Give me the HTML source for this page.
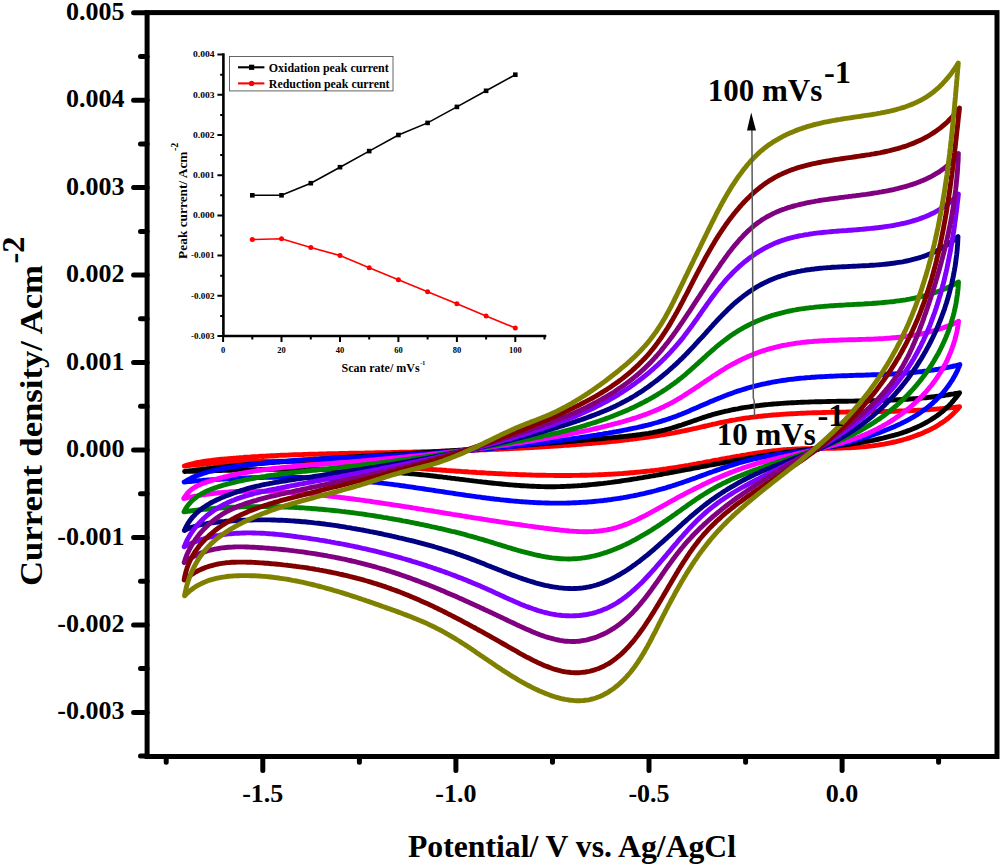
<!DOCTYPE html>
<html><head><meta charset="utf-8"><style>
html,body{margin:0;padding:0;background:#fff;}
body{width:1000px;height:866px;overflow:hidden;font-family:"Liberation Serif",serif;}
svg{display:block;}
</style></head><body>
<svg width="1000" height="866" viewBox="0 0 1000 866">
<rect width="1000" height="866" fill="#fff"/>
<path d="M184.4,466.0 L186.3,465.4 L188.1,464.8 L190.0,464.3 L191.9,463.8 L193.8,463.4 L195.7,462.9 L197.7,462.5 L199.6,462.2 L201.5,461.8 L203.5,461.5 L205.4,461.2 L207.4,460.9 L209.4,460.6 L211.3,460.4 L213.3,460.1 L215.3,459.9 L217.3,459.7 L219.3,459.5 L221.2,459.3 L223.2,459.1 L225.2,458.9 L227.2,458.8 L229.2,458.6 L231.2,458.4 L233.2,458.3 L235.2,458.1 L237.2,457.9 L239.2,457.8 L241.2,457.6 L243.2,457.5 L245.2,457.3 L247.2,457.2 L249.2,457.1 L251.2,456.9 L253.2,456.8 L255.2,456.7 L257.2,456.6 L259.2,456.4 L261.2,456.3 L263.2,456.2 L265.2,456.1 L267.2,456.0 L269.2,455.9 L271.2,455.8 L273.2,455.7 L275.2,455.6 L277.2,455.5 L279.2,455.4 L281.2,455.3 L283.3,455.2 L285.3,455.2 L287.3,455.1 L289.3,455.0 L291.3,454.9 L293.3,454.8 L295.3,454.8 L297.3,454.7 L299.3,454.6 L301.3,454.6 L303.3,454.5 L305.4,454.4 L307.4,454.4 L309.4,454.3 L311.4,454.2 L313.4,454.2 L315.4,454.1 L317.4,454.1 L319.4,454.0 L321.5,454.0 L323.5,453.9 L325.5,453.9 L327.5,453.8 L329.5,453.8 L331.5,453.7 L333.5,453.7 L335.5,453.6 L337.6,453.6 L339.6,453.5 L341.6,453.5 L343.6,453.5 L345.6,453.4 L347.6,453.4 L349.6,453.3 L351.7,453.3 L353.7,453.3 L355.7,453.2 L357.7,453.2 L359.7,453.1 L361.7,453.1 L363.7,453.1 L365.8,453.0 L367.8,453.0 L369.8,453.0 L371.8,452.9 L373.8,452.9 L375.8,452.8 L377.8,452.8 L379.8,452.8 L381.9,452.7 L383.9,452.7 L385.9,452.6 L387.9,452.6 L389.9,452.6 L391.9,452.5 L393.9,452.5 L395.9,452.4 L398.0,452.4 L400.0,452.3 L402.0,452.3 L404.0,452.2 L406.0,452.2 L408.0,452.2 L410.0,452.1 L412.0,452.1 L414.0,452.0 L416.1,452.0 L418.1,451.9 L420.1,451.9 L422.1,451.8 L424.1,451.8 L426.1,451.7 L428.1,451.6 L430.1,451.6 L432.1,451.5 L434.1,451.5 L436.2,451.4 L438.2,451.4 L440.2,451.3 L442.2,451.3 L444.2,451.2 L446.2,451.1 L448.2,451.1 L450.2,451.0 L452.2,450.9 L454.2,450.9 L456.2,450.8 L458.2,450.7 L460.3,450.7 L462.3,450.6 L464.3,450.5 L466.3,450.5 L468.3,450.4 L470.3,450.3 L472.3,450.2 L474.3,450.2 L476.3,450.1 L478.3,450.0 L480.3,449.9 L482.3,449.9 L484.3,449.8 L486.3,449.7 L488.4,449.6 L490.4,449.5 L492.4,449.4 L494.4,449.4 L496.4,449.3 L498.4,449.2 L500.4,449.1 L502.4,449.0 L504.4,448.9 L506.4,448.8 L508.4,448.7 L510.4,448.6 L512.4,448.5 L514.4,448.4 L516.4,448.3 L518.4,448.2 L520.4,448.1 L522.4,448.0 L524.5,447.9 L526.5,447.8 L528.5,447.7 L530.5,447.6 L532.5,447.5 L534.5,447.3 L536.5,447.2 L538.5,447.1 L540.5,447.0 L542.5,446.9 L544.5,446.7 L546.5,446.6 L548.5,446.5 L550.5,446.4 L552.5,446.2 L554.5,446.1 L556.5,446.0 L558.5,445.8 L560.5,445.7 L562.5,445.6 L564.5,445.4 L566.5,445.3 L568.5,445.2 L570.5,445.0 L572.5,444.9 L574.5,444.7 L576.6,444.6 L578.6,444.4 L580.6,444.3 L582.6,444.1 L584.6,443.9 L586.6,443.8 L588.6,443.6 L590.6,443.5 L592.6,443.3 L594.6,443.1 L596.6,442.9 L598.6,442.8 L600.6,442.6 L602.6,442.4 L604.6,442.2 L606.6,442.0 L608.6,441.8 L610.6,441.6 L612.6,441.4 L614.6,441.2 L616.6,441.0 L618.6,440.8 L620.5,440.6 L622.5,440.3 L624.5,440.1 L626.5,439.9 L628.5,439.7 L630.5,439.4 L632.5,439.2 L634.5,438.9 L636.5,438.7 L638.5,438.4 L640.5,438.1 L642.5,437.9 L644.4,437.6 L646.4,437.3 L648.4,437.0 L650.4,436.7 L652.4,436.4 L654.4,436.1 L656.4,435.8 L658.3,435.5 L660.3,435.2 L662.3,434.9 L664.3,434.5 L666.3,434.2 L668.2,433.8 L670.2,433.5 L672.2,433.1 L674.2,432.8 L676.1,432.4 L678.1,432.0 L680.1,431.6 L682.0,431.2 L684.0,430.8 L686.0,430.4 L688.0,430.0 L689.9,429.6 L691.9,429.2 L693.8,428.7 L695.8,428.3 L697.8,427.8 L699.7,427.4 L701.7,426.9 L703.6,426.5 L705.6,426.0 L707.6,425.6 L709.5,425.1 L711.5,424.7 L713.4,424.2 L715.4,423.8 L717.4,423.3 L719.3,422.9 L721.3,422.5 L723.3,422.1 L725.2,421.7 L727.2,421.3 L729.2,420.9 L731.1,420.5 L733.1,420.1 L735.1,419.8 L737.1,419.4 L739.1,419.1 L741.0,418.8 L743.0,418.5 L745.0,418.2 L747.0,417.9 L749.0,417.7 L751.0,417.4 L753.0,417.1 L754.9,416.9 L756.9,416.7 L758.9,416.4 L760.9,416.2 L762.9,416.0 L764.9,415.8 L766.9,415.6 L768.9,415.4 L770.9,415.2 L772.9,415.0 L774.9,414.9 L776.9,414.7 L778.9,414.6 L780.9,414.4 L782.9,414.3 L784.9,414.1 L786.9,414.0 L788.9,413.9 L790.9,413.8 L792.9,413.7 L794.9,413.6 L796.9,413.5 L798.9,413.4 L800.9,413.3 L803.0,413.2 L805.0,413.1 L807.0,413.0 L809.0,412.9 L811.0,412.9 L813.0,412.8 L815.0,412.7 L817.0,412.7 L819.0,412.6 L821.0,412.6 L823.0,412.5 L825.1,412.5 L827.1,412.4 L829.1,412.4 L831.1,412.3 L833.1,412.3 L835.1,412.2 L837.1,412.2 L839.1,412.2 L841.2,412.1 L843.2,412.1 L845.2,412.1 L847.2,412.0 L849.2,412.0 L851.2,412.0 L853.2,412.0 L855.2,411.9 L857.3,411.9 L859.3,411.9 L861.3,411.8 L863.3,411.8 L865.3,411.8 L867.3,411.8 L869.3,411.7 L871.3,411.7 L873.4,411.7 L875.4,411.6 L877.4,411.6 L879.4,411.6 L881.4,411.5 L883.4,411.5 L885.4,411.4 L887.4,411.4 L889.5,411.3 L891.5,411.3 L893.5,411.2 L895.5,411.2 L897.5,411.1 L899.5,411.0 L901.5,411.0 L903.5,410.9 L905.5,410.8 L907.5,410.7 L909.6,410.7 L911.6,410.6 L913.6,410.5 L915.6,410.4 L917.6,410.3 L919.6,410.2 L921.6,410.1 L923.6,409.9 L925.6,409.8 L927.6,409.7 L929.6,409.6 L931.6,409.4 L933.6,409.3 L935.6,409.1 L937.6,408.9 L939.6,408.8 L941.6,408.6 L943.6,408.4 L945.6,408.2 L947.6,408.0 L949.6,407.8 L951.6,407.6 L953.6,407.4 L955.6,407.2 L957.6,406.9 L959.6,406.7 L958.3,408.3 L957.0,409.8 L955.6,411.2 L954.2,412.7 L952.8,414.0 L951.4,415.4 L949.9,416.7 L948.4,418.0 L946.8,419.2 L945.3,420.4 L943.7,421.5 L942.0,422.7 L940.4,423.7 L938.7,424.8 L937.1,425.8 L935.3,426.8 L933.6,427.8 L931.9,428.7 L930.1,429.6 L928.3,430.5 L926.5,431.3 L924.7,432.1 L922.9,432.9 L921.0,433.7 L919.2,434.4 L917.3,435.1 L915.4,435.8 L913.5,436.5 L911.6,437.2 L909.7,437.8 L907.8,438.4 L905.8,439.0 L903.9,439.5 L902.0,440.1 L900.0,440.6 L898.0,441.1 L896.1,441.6 L894.1,442.0 L892.1,442.5 L890.1,442.9 L888.2,443.3 L886.2,443.7 L884.2,444.1 L882.2,444.4 L880.2,444.7 L878.1,445.1 L876.1,445.3 L874.1,445.6 L872.1,445.9 L870.1,446.1 L868.1,446.3 L866.1,446.6 L864.1,446.7 L862.0,446.9 L860.0,447.1 L858.0,447.2 L856.0,447.4 L854.0,447.5 L852.0,447.6 L850.0,447.7 L848.0,447.8 L846.0,447.9 L844.0,447.9 L842.0,448.0 L839.9,448.1 L837.9,448.1 L835.9,448.2 L833.9,448.2 L831.9,448.2 L829.9,448.3 L827.9,448.3 L825.9,448.3 L823.9,448.3 L821.9,448.4 L819.9,448.4 L817.9,448.4 L815.9,448.5 L813.9,448.5 L811.9,448.5 L809.9,448.6 L807.9,448.6 L805.9,448.7 L803.9,448.7 L801.9,448.8 L799.9,448.9 L797.9,449.0 L795.9,449.0 L793.9,449.1 L791.9,449.3 L789.9,449.4 L787.9,449.5 L785.9,449.7 L783.9,449.8 L781.9,450.0 L780.0,450.2 L778.0,450.4 L776.0,450.6 L774.0,450.8 L772.0,451.0 L770.0,451.3 L768.0,451.5 L766.0,451.8 L764.0,452.0 L762.0,452.3 L760.0,452.6 L758.0,452.9 L756.1,453.2 L754.1,453.5 L752.1,453.8 L750.1,454.1 L748.1,454.4 L746.1,454.8 L744.1,455.1 L742.1,455.4 L740.1,455.8 L738.2,456.1 L736.2,456.5 L734.2,456.8 L732.2,457.2 L730.2,457.6 L728.2,457.9 L726.2,458.3 L724.2,458.7 L722.3,459.0 L720.3,459.4 L718.3,459.8 L716.3,460.1 L714.3,460.5 L712.3,460.9 L710.3,461.3 L708.3,461.6 L706.4,462.0 L704.4,462.4 L702.4,462.8 L700.4,463.1 L698.4,463.5 L696.4,463.9 L694.4,464.2 L692.4,464.6 L690.5,464.9 L688.5,465.3 L686.5,465.6 L684.5,466.0 L682.5,466.3 L680.5,466.6 L678.5,467.0 L676.5,467.3 L674.6,467.6 L672.6,467.9 L670.6,468.2 L668.6,468.5 L666.6,468.8 L664.6,469.1 L662.6,469.3 L660.6,469.6 L658.6,469.9 L656.6,470.1 L654.7,470.4 L652.7,470.6 L650.7,470.8 L648.7,471.1 L646.7,471.3 L644.7,471.5 L642.7,471.7 L640.7,471.9 L638.7,472.1 L636.7,472.3 L634.7,472.5 L632.7,472.7 L630.7,472.8 L628.8,473.0 L626.8,473.2 L624.8,473.3 L622.8,473.5 L620.8,473.6 L618.8,473.7 L616.8,473.9 L614.8,474.0 L612.8,474.1 L610.8,474.2 L608.8,474.3 L606.8,474.4 L604.8,474.5 L602.8,474.6 L600.8,474.7 L598.8,474.8 L596.8,474.9 L594.8,474.9 L592.8,475.0 L590.8,475.1 L588.8,475.1 L586.8,475.2 L584.8,475.2 L582.8,475.3 L580.8,475.3 L578.8,475.4 L576.9,475.4 L574.9,475.4 L572.9,475.4 L570.9,475.5 L568.9,475.5 L566.9,475.5 L564.9,475.5 L562.9,475.5 L560.9,475.5 L558.9,475.5 L556.9,475.5 L554.9,475.5 L552.9,475.4 L550.9,475.4 L548.9,475.4 L546.9,475.4 L544.9,475.3 L542.9,475.3 L540.9,475.2 L538.9,475.2 L536.9,475.2 L534.9,475.1 L532.9,475.1 L530.9,475.0 L528.9,474.9 L526.9,474.9 L524.9,474.8 L522.8,474.7 L520.8,474.7 L518.8,474.6 L516.8,474.5 L514.8,474.4 L512.8,474.4 L510.8,474.3 L508.8,474.2 L506.8,474.1 L504.8,474.0 L502.8,473.9 L500.8,473.8 L498.8,473.7 L496.8,473.6 L494.8,473.5 L492.8,473.4 L490.8,473.3 L488.8,473.2 L486.8,473.1 L484.8,472.9 L482.8,472.8 L480.8,472.7 L478.8,472.6 L476.8,472.5 L474.8,472.3 L472.8,472.2 L470.8,472.1 L468.8,472.0 L466.8,471.8 L464.8,471.7 L462.8,471.6 L460.8,471.4 L458.8,471.3 L456.7,471.2 L454.7,471.0 L452.7,470.9 L450.7,470.7 L448.7,470.6 L446.7,470.5 L444.7,470.3 L442.7,470.2 L440.7,470.0 L438.7,469.9 L436.7,469.8 L434.7,469.6 L432.7,469.5 L430.7,469.3 L428.7,469.2 L426.7,469.0 L424.7,468.9 L422.7,468.7 L420.7,468.6 L418.7,468.4 L416.7,468.3 L414.7,468.2 L412.6,468.0 L410.6,467.9 L408.6,467.7 L406.6,467.6 L404.6,467.4 L402.6,467.3 L400.6,467.1 L398.6,467.0 L396.6,466.8 L394.6,466.7 L392.6,466.6 L390.6,466.4 L388.6,466.3 L386.6,466.1 L384.6,466.0 L382.6,465.9 L380.6,465.7 L378.6,465.6 L376.6,465.4 L374.6,465.3 L372.5,465.2 L370.5,465.0 L368.5,464.9 L366.5,464.8 L364.5,464.7 L362.5,464.5 L360.5,464.4 L358.5,464.3 L356.5,464.2 L354.5,464.0 L352.5,463.9 L350.5,463.8 L348.5,463.7 L346.5,463.6 L344.5,463.5 L342.5,463.4 L340.5,463.3 L338.5,463.2 L336.5,463.1 L334.5,463.0 L332.5,462.9 L330.5,462.8 L328.4,462.7 L326.4,462.6 L324.4,462.5 L322.4,462.4 L320.4,462.3 L318.4,462.2 L316.4,462.2 L314.4,462.1 L312.4,462.0 L310.4,462.0 L308.4,461.9 L306.4,461.8 L304.4,461.8 L302.4,461.7 L300.4,461.7 L298.4,461.6 L296.4,461.6 L294.4,461.5 L292.4,461.5 L290.4,461.4 L288.4,461.4 L286.4,461.4 L284.4,461.4 L282.4,461.3 L280.4,461.3 L278.4,461.3 L276.4,461.3 L274.4,461.3 L272.4,461.3 L270.4,461.3 L268.4,461.3 L266.4,461.3 L264.4,461.3 L262.4,461.3 L260.4,461.4 L258.4,461.4 L256.3,461.4 L254.3,461.5 L252.3,461.5 L250.3,461.5 L248.3,461.6 L246.3,461.7 L244.3,461.7 L242.3,461.8 L240.3,461.8 L238.3,461.9 L236.3,462.0 L234.3,462.1 L232.3,462.2 L230.3,462.3 L228.3,462.4 L226.3,462.5 L224.3,462.6 L222.3,462.7 L220.4,462.8 L218.4,462.9 L216.4,463.1 L214.4,463.2 L212.4,463.4 L210.4,463.5 L208.4,463.7 L206.4,463.8 L204.4,464.0 L202.4,464.2 L200.4,464.3 L198.4,464.5 L196.4,464.7 L194.4,464.9 L192.4,465.1 L190.4,465.3 L188.4,465.5 L186.4,465.8 L184.4,466.0" fill="none" stroke="#ff0000" stroke-width="4.9" stroke-linejoin="round" stroke-linecap="round"/>
<path d="M184.6,471.5 L186.6,471.2 L188.6,471.0 L190.6,470.7 L192.6,470.5 L194.6,470.2 L196.5,470.0 L198.5,469.8 L200.5,469.5 L202.5,469.3 L204.5,469.1 L206.5,468.8 L208.5,468.6 L210.5,468.4 L212.5,468.2 L214.5,467.9 L216.5,467.7 L218.5,467.5 L220.5,467.3 L222.5,467.1 L224.5,466.9 L226.5,466.7 L228.5,466.5 L230.5,466.3 L232.4,466.1 L234.4,465.9 L236.4,465.7 L238.4,465.5 L240.4,465.3 L242.4,465.1 L244.4,464.9 L246.4,464.7 L248.4,464.5 L250.4,464.3 L252.4,464.2 L254.4,464.0 L256.4,463.8 L258.4,463.6 L260.4,463.5 L262.4,463.3 L264.4,463.1 L266.4,462.9 L268.4,462.8 L270.4,462.6 L272.4,462.5 L274.4,462.3 L276.4,462.1 L278.4,462.0 L280.4,461.8 L282.4,461.7 L284.4,461.5 L286.4,461.4 L288.4,461.2 L290.4,461.1 L292.4,460.9 L294.4,460.8 L296.4,460.6 L298.4,460.5 L300.4,460.3 L302.4,460.2 L304.4,460.0 L306.4,459.9 L308.4,459.8 L310.4,459.6 L312.5,459.5 L314.5,459.3 L316.5,459.2 L318.5,459.1 L320.5,458.9 L322.5,458.8 L324.5,458.7 L326.5,458.5 L328.5,458.4 L330.5,458.3 L332.5,458.1 L334.5,458.0 L336.5,457.9 L338.5,457.8 L340.5,457.6 L342.5,457.5 L344.5,457.4 L346.5,457.3 L348.5,457.1 L350.5,457.0 L352.5,456.9 L354.5,456.8 L356.5,456.6 L358.5,456.5 L360.5,456.4 L362.5,456.3 L364.5,456.2 L366.5,456.0 L368.6,455.9 L370.6,455.8 L372.6,455.7 L374.6,455.5 L376.6,455.4 L378.6,455.3 L380.6,455.2 L382.6,455.1 L384.6,454.9 L386.6,454.8 L388.6,454.7 L390.6,454.6 L392.6,454.5 L394.6,454.3 L396.6,454.2 L398.6,454.1 L400.6,454.0 L402.6,453.9 L404.6,453.7 L406.6,453.6 L408.6,453.5 L410.6,453.4 L412.6,453.2 L414.6,453.1 L416.6,453.0 L418.7,452.9 L420.7,452.7 L422.7,452.6 L424.7,452.5 L426.7,452.4 L428.7,452.2 L430.7,452.1 L432.7,452.0 L434.7,451.8 L436.7,451.7 L438.7,451.6 L440.7,451.5 L442.7,451.3 L444.7,451.2 L446.7,451.0 L448.7,450.9 L450.7,450.8 L452.7,450.6 L454.7,450.5 L456.7,450.4 L458.7,450.2 L460.7,450.1 L462.7,449.9 L464.7,449.8 L466.7,449.7 L468.7,449.5 L470.7,449.4 L472.7,449.2 L474.7,449.1 L476.7,448.9 L478.7,448.8 L480.7,448.6 L482.7,448.5 L484.7,448.3 L486.7,448.2 L488.7,448.0 L490.7,447.9 L492.7,447.7 L494.7,447.6 L496.7,447.4 L498.7,447.3 L500.7,447.1 L502.7,447.0 L504.7,446.8 L506.7,446.7 L508.7,446.5 L510.7,446.3 L512.7,446.2 L514.7,446.0 L516.7,445.9 L518.7,445.7 L520.7,445.5 L522.7,445.4 L524.7,445.2 L526.7,445.1 L528.7,444.9 L530.7,444.7 L532.7,444.6 L534.7,444.4 L536.7,444.2 L538.7,444.1 L540.7,443.9 L542.7,443.7 L544.7,443.6 L546.7,443.4 L548.7,443.2 L550.7,443.1 L552.7,442.9 L554.7,442.7 L556.7,442.5 L558.7,442.4 L560.7,442.2 L562.7,442.0 L564.7,441.9 L566.7,441.7 L568.7,441.5 L570.7,441.3 L572.7,441.2 L574.7,441.0 L576.7,440.8 L578.7,440.6 L580.7,440.5 L582.7,440.3 L584.7,440.1 L586.7,439.9 L588.7,439.8 L590.7,439.6 L592.7,439.4 L594.7,439.2 L596.7,439.0 L598.7,438.9 L600.7,438.7 L602.7,438.5 L604.8,438.3 L606.8,438.1 L608.8,437.9 L610.8,437.8 L612.8,437.6 L614.8,437.4 L616.8,437.2 L618.8,437.0 L620.8,436.8 L622.8,436.6 L624.8,436.4 L626.7,436.2 L628.7,436.0 L630.7,435.8 L632.7,435.5 L634.7,435.3 L636.7,435.0 L638.7,434.8 L640.7,434.5 L642.7,434.2 L644.6,433.9 L646.6,433.6 L648.6,433.3 L650.6,432.9 L652.5,432.6 L654.5,432.2 L656.5,431.8 L658.4,431.4 L660.4,431.0 L662.3,430.5 L664.3,430.1 L666.2,429.6 L668.2,429.1 L670.1,428.6 L672.0,428.0 L674.0,427.4 L675.9,426.8 L677.8,426.2 L679.7,425.6 L681.7,425.0 L683.6,424.3 L685.5,423.7 L687.4,423.0 L689.3,422.4 L691.2,421.7 L693.1,421.0 L695.0,420.4 L696.9,419.7 L698.9,419.0 L700.8,418.4 L702.7,417.7 L704.6,417.1 L706.5,416.5 L708.4,415.9 L710.4,415.3 L712.3,414.7 L714.2,414.2 L716.2,413.6 L718.1,413.1 L720.1,412.6 L722.0,412.1 L723.9,411.7 L725.9,411.2 L727.8,410.8 L729.8,410.3 L731.8,409.9 L733.7,409.5 L735.7,409.1 L737.7,408.8 L739.6,408.4 L741.6,408.0 L743.6,407.7 L745.5,407.4 L747.5,407.1 L749.5,406.8 L751.5,406.5 L753.5,406.2 L755.5,406.0 L757.4,405.7 L759.4,405.5 L761.4,405.2 L763.4,405.0 L765.4,404.8 L767.4,404.6 L769.4,404.4 L771.4,404.2 L773.4,404.0 L775.4,403.9 L777.4,403.7 L779.4,403.6 L781.4,403.4 L783.4,403.3 L785.4,403.1 L787.4,403.0 L789.4,402.9 L791.4,402.8 L793.4,402.7 L795.4,402.6 L797.4,402.5 L799.4,402.4 L801.4,402.3 L803.4,402.2 L805.4,402.1 L807.4,402.1 L809.5,402.0 L811.5,401.9 L813.5,401.9 L815.5,401.8 L817.5,401.8 L819.5,401.7 L821.5,401.7 L823.5,401.6 L825.5,401.6 L827.5,401.5 L829.5,401.5 L831.5,401.4 L833.6,401.4 L835.6,401.4 L837.6,401.3 L839.6,401.3 L841.6,401.3 L843.6,401.2 L845.6,401.2 L847.6,401.2 L849.6,401.1 L851.6,401.1 L853.7,401.1 L855.7,401.0 L857.7,401.0 L859.7,401.0 L861.7,400.9 L863.7,400.9 L865.7,400.9 L867.7,400.8 L869.7,400.8 L871.7,400.7 L873.7,400.7 L875.7,400.6 L877.8,400.6 L879.8,400.5 L881.8,400.4 L883.8,400.4 L885.8,400.3 L887.8,400.2 L889.8,400.1 L891.8,400.1 L893.8,400.0 L895.8,399.9 L897.8,399.8 L899.8,399.7 L901.8,399.5 L903.8,399.4 L905.8,399.3 L907.8,399.2 L909.8,399.0 L911.8,398.9 L913.8,398.7 L915.8,398.6 L917.8,398.4 L919.8,398.2 L921.8,398.1 L923.8,397.9 L925.8,397.7 L927.8,397.5 L929.8,397.2 L931.8,397.0 L933.8,396.8 L935.8,396.5 L937.8,396.3 L939.7,396.0 L941.7,395.7 L943.7,395.5 L945.7,395.2 L947.7,394.9 L949.7,394.5 L951.7,394.2 L953.7,393.9 L955.6,393.5 L957.6,393.2 L959.6,392.8 L958.4,394.5 L957.1,396.2 L955.8,397.9 L954.5,399.4 L953.2,401.0 L951.8,402.5 L950.5,404.0 L949.1,405.4 L947.6,406.9 L946.2,408.2 L944.7,409.5 L943.2,410.8 L941.7,412.1 L940.1,413.3 L938.6,414.5 L937.0,415.7 L935.4,416.8 L933.8,417.9 L932.2,418.9 L930.5,420.0 L928.8,421.0 L927.1,422.0 L925.4,422.9 L923.7,423.8 L922.0,424.7 L920.2,425.6 L918.5,426.4 L916.7,427.2 L914.9,428.0 L913.1,428.8 L911.3,429.5 L909.5,430.2 L907.6,430.9 L905.8,431.6 L903.9,432.2 L902.1,432.9 L900.2,433.5 L898.3,434.1 L896.4,434.6 L894.5,435.2 L892.6,435.7 L890.6,436.2 L888.7,436.7 L886.8,437.2 L884.8,437.7 L882.9,438.2 L880.9,438.6 L879.0,439.0 L877.0,439.5 L875.0,439.9 L873.0,440.3 L871.1,440.6 L869.1,441.0 L867.1,441.4 L865.1,441.7 L863.1,442.1 L861.1,442.4 L859.1,442.8 L857.1,443.1 L855.1,443.4 L853.1,443.7 L851.1,444.0 L849.1,444.3 L847.1,444.6 L845.1,444.9 L843.1,445.1 L841.1,445.4 L839.1,445.7 L837.1,445.9 L835.0,446.2 L833.0,446.5 L831.0,446.7 L829.0,447.0 L827.0,447.2 L825.0,447.5 L822.9,447.7 L820.9,448.0 L818.9,448.2 L816.9,448.4 L814.9,448.7 L812.9,448.9 L810.8,449.2 L808.8,449.4 L806.8,449.6 L804.8,449.9 L802.8,450.1 L800.8,450.4 L798.8,450.6 L796.8,450.9 L794.8,451.1 L792.7,451.4 L790.7,451.7 L788.7,451.9 L786.7,452.2 L784.7,452.5 L782.7,452.8 L780.7,453.1 L778.8,453.3 L776.8,453.6 L774.8,453.9 L772.8,454.2 L770.8,454.5 L768.8,454.8 L766.8,455.2 L764.8,455.5 L762.8,455.8 L760.9,456.1 L758.9,456.4 L756.9,456.8 L754.9,457.1 L752.9,457.4 L751.0,457.7 L749.0,458.1 L747.0,458.4 L745.1,458.8 L743.1,459.1 L741.1,459.5 L739.1,459.8 L737.2,460.2 L735.2,460.5 L733.2,460.9 L731.3,461.2 L729.3,461.6 L727.3,461.9 L725.4,462.3 L723.4,462.7 L721.4,463.0 L719.5,463.4 L717.5,463.8 L715.5,464.1 L713.6,464.5 L711.6,464.9 L709.7,465.2 L707.7,465.6 L705.7,466.0 L703.8,466.3 L701.8,466.7 L699.8,467.1 L697.9,467.5 L695.9,467.8 L694.0,468.2 L692.0,468.6 L690.0,469.0 L688.1,469.3 L686.1,469.7 L684.1,470.1 L682.2,470.4 L680.2,470.8 L678.2,471.2 L676.3,471.5 L674.3,471.9 L672.4,472.3 L670.4,472.7 L668.4,473.0 L666.5,473.4 L664.5,473.7 L662.5,474.1 L660.6,474.5 L658.6,474.8 L656.6,475.2 L654.6,475.5 L652.7,475.9 L650.7,476.2 L648.7,476.6 L646.8,476.9 L644.8,477.2 L642.8,477.6 L640.8,477.9 L638.9,478.2 L636.9,478.6 L634.9,478.9 L632.9,479.2 L631.0,479.5 L629.0,479.8 L627.0,480.1 L625.0,480.4 L623.1,480.7 L621.1,481.0 L619.1,481.3 L617.1,481.6 L615.1,481.8 L613.2,482.1 L611.2,482.4 L609.2,482.6 L607.2,482.9 L605.2,483.1 L603.3,483.4 L601.3,483.6 L599.3,483.8 L597.3,484.0 L595.3,484.2 L593.3,484.4 L591.3,484.6 L589.4,484.8 L587.4,485.0 L585.4,485.2 L583.4,485.3 L581.4,485.5 L579.4,485.6 L577.4,485.8 L575.4,485.9 L573.5,486.0 L571.5,486.1 L569.5,486.2 L567.5,486.3 L565.5,486.4 L563.5,486.5 L561.5,486.5 L559.5,486.6 L557.5,486.6 L555.5,486.7 L553.5,486.7 L551.5,486.7 L549.6,486.7 L547.6,486.7 L545.6,486.7 L543.6,486.6 L541.6,486.6 L539.6,486.5 L537.6,486.5 L535.6,486.4 L533.6,486.3 L531.6,486.2 L529.6,486.1 L527.6,486.0 L525.6,485.9 L523.6,485.8 L521.6,485.7 L519.6,485.5 L517.6,485.4 L515.6,485.2 L513.6,485.1 L511.6,484.9 L509.6,484.8 L507.6,484.6 L505.6,484.4 L503.6,484.2 L501.6,484.0 L499.6,483.8 L497.6,483.6 L495.6,483.4 L493.6,483.2 L491.6,483.0 L489.6,482.8 L487.6,482.5 L485.5,482.3 L483.5,482.1 L481.5,481.8 L479.5,481.6 L477.5,481.4 L475.5,481.1 L473.5,480.9 L471.5,480.6 L469.5,480.4 L467.5,480.1 L465.5,479.9 L463.5,479.6 L461.5,479.4 L459.5,479.2 L457.5,478.9 L455.5,478.7 L453.5,478.4 L451.5,478.2 L449.4,477.9 L447.4,477.7 L445.4,477.4 L443.4,477.2 L441.4,476.9 L439.4,476.7 L437.4,476.5 L435.4,476.2 L433.4,476.0 L431.4,475.8 L429.4,475.5 L427.4,475.3 L425.4,475.1 L423.4,474.9 L421.4,474.7 L419.4,474.5 L417.3,474.3 L415.3,474.1 L413.3,473.9 L411.3,473.7 L409.3,473.5 L407.3,473.3 L405.3,473.2 L403.3,473.0 L401.3,472.8 L399.3,472.7 L397.3,472.5 L395.3,472.3 L393.3,472.2 L391.3,472.1 L389.3,471.9 L387.3,471.8 L385.3,471.6 L383.3,471.5 L381.3,471.4 L379.2,471.3 L377.2,471.2 L375.2,471.0 L373.2,470.9 L371.2,470.8 L369.2,470.7 L367.2,470.6 L365.2,470.5 L363.2,470.4 L361.2,470.4 L359.2,470.3 L357.2,470.2 L355.2,470.1 L353.2,470.0 L351.2,470.0 L349.2,469.9 L347.2,469.8 L345.2,469.8 L343.2,469.7 L341.2,469.7 L339.1,469.6 L337.1,469.6 L335.1,469.5 L333.1,469.5 L331.1,469.4 L329.1,469.4 L327.1,469.4 L325.1,469.3 L323.1,469.3 L321.1,469.3 L319.1,469.3 L317.1,469.2 L315.1,469.2 L313.1,469.2 L311.1,469.2 L309.1,469.2 L307.1,469.2 L305.1,469.2 L303.1,469.2 L301.0,469.2 L299.0,469.2 L297.0,469.2 L295.0,469.2 L293.0,469.2 L291.0,469.2 L289.0,469.2 L287.0,469.2 L285.0,469.2 L283.0,469.2 L281.0,469.3 L279.0,469.3 L277.0,469.3 L275.0,469.3 L273.0,469.3 L271.0,469.4 L269.0,469.4 L266.9,469.4 L264.9,469.5 L262.9,469.5 L260.9,469.5 L258.9,469.6 L256.9,469.6 L254.9,469.6 L252.9,469.7 L250.9,469.7 L248.9,469.8 L246.9,469.8 L244.9,469.9 L242.9,469.9 L240.9,469.9 L238.8,470.0 L236.8,470.0 L234.8,470.1 L232.8,470.1 L230.8,470.2 L228.8,470.2 L226.8,470.3 L224.8,470.4 L222.8,470.4 L220.8,470.5 L218.8,470.5 L216.8,470.6 L214.7,470.6 L212.7,470.7 L210.7,470.7 L208.7,470.8 L206.7,470.9 L204.7,470.9 L202.7,471.0 L200.7,471.0 L198.7,471.1 L196.7,471.1 L194.7,471.2 L192.6,471.3 L190.6,471.3 L188.6,471.4 L186.6,471.4 L184.6,471.5" fill="none" stroke="#000000" stroke-width="4.9" stroke-linejoin="round" stroke-linecap="round"/>
<path d="M184.2,482.0 L185.9,481.0 L187.6,480.0 L189.4,479.1 L191.1,478.2 L192.9,477.3 L194.7,476.5 L196.5,475.8 L198.4,475.1 L200.2,474.4 L202.1,473.8 L203.9,473.1 L205.8,472.6 L207.7,472.0 L209.6,471.5 L211.5,471.0 L213.5,470.6 L215.4,470.1 L217.3,469.7 L219.3,469.3 L221.2,468.9 L223.2,468.5 L225.2,468.2 L227.1,467.9 L229.1,467.5 L231.1,467.2 L233.0,466.9 L235.0,466.6 L237.0,466.3 L239.0,466.0 L240.9,465.8 L242.9,465.5 L244.9,465.2 L246.9,465.0 L248.9,464.7 L250.9,464.5 L252.8,464.3 L254.8,464.0 L256.8,463.8 L258.8,463.6 L260.8,463.4 L262.8,463.2 L264.8,463.0 L266.8,462.8 L268.8,462.6 L270.7,462.4 L272.7,462.2 L274.7,462.0 L276.7,461.9 L278.7,461.7 L280.7,461.5 L282.7,461.4 L284.7,461.2 L286.7,461.1 L288.7,460.9 L290.7,460.8 L292.7,460.6 L294.7,460.5 L296.7,460.4 L298.7,460.2 L300.7,460.1 L302.7,460.0 L304.7,459.9 L306.7,459.8 L308.7,459.6 L310.7,459.5 L312.8,459.4 L314.8,459.3 L316.8,459.2 L318.8,459.1 L320.8,459.0 L322.8,458.9 L324.8,458.8 L326.8,458.7 L328.8,458.6 L330.8,458.5 L332.8,458.4 L334.8,458.3 L336.8,458.3 L338.9,458.2 L340.9,458.1 L342.9,458.0 L344.9,457.9 L346.9,457.8 L348.9,457.7 L350.9,457.6 L352.9,457.5 L354.9,457.4 L356.9,457.4 L358.9,457.3 L361.0,457.2 L363.0,457.1 L365.0,457.0 L367.0,456.9 L369.0,456.8 L371.0,456.7 L373.0,456.6 L375.0,456.5 L377.0,456.4 L379.0,456.3 L381.0,456.2 L383.0,456.1 L385.0,456.0 L387.1,455.9 L389.1,455.8 L391.1,455.7 L393.1,455.6 L395.1,455.4 L397.1,455.3 L399.1,455.2 L401.1,455.1 L403.1,455.0 L405.1,454.9 L407.1,454.8 L409.1,454.6 L411.1,454.5 L413.1,454.4 L415.1,454.3 L417.1,454.1 L419.1,454.0 L421.1,453.9 L423.1,453.8 L425.2,453.6 L427.2,453.5 L429.2,453.4 L431.2,453.2 L433.2,453.1 L435.2,453.0 L437.2,452.8 L439.2,452.7 L441.2,452.5 L443.2,452.4 L445.2,452.2 L447.2,452.1 L449.2,451.9 L451.2,451.8 L453.2,451.6 L455.2,451.5 L457.2,451.3 L459.2,451.2 L461.2,451.0 L463.2,450.9 L465.2,450.7 L467.2,450.5 L469.2,450.4 L471.2,450.2 L473.2,450.0 L475.2,449.8 L477.2,449.7 L479.2,449.5 L481.2,449.3 L483.2,449.1 L485.2,449.0 L487.2,448.8 L489.2,448.6 L491.1,448.4 L493.1,448.2 L495.1,448.0 L497.1,447.8 L499.1,447.6 L501.1,447.4 L503.1,447.2 L505.1,447.0 L507.1,446.8 L509.1,446.6 L511.1,446.4 L513.1,446.2 L515.1,446.0 L517.1,445.8 L519.1,445.5 L521.0,445.3 L523.0,445.1 L525.0,444.9 L527.0,444.6 L529.0,444.4 L531.0,444.2 L533.0,443.9 L535.0,443.7 L537.0,443.5 L539.0,443.2 L540.9,443.0 L542.9,442.7 L544.9,442.5 L546.9,442.2 L548.9,442.0 L550.9,441.7 L552.9,441.5 L554.9,441.2 L556.8,440.9 L558.8,440.7 L560.8,440.4 L562.8,440.1 L564.8,439.8 L566.8,439.6 L568.7,439.3 L570.7,439.0 L572.7,438.7 L574.7,438.4 L576.7,438.1 L578.7,437.8 L580.6,437.5 L582.6,437.2 L584.6,436.9 L586.6,436.6 L588.6,436.3 L590.5,436.0 L592.5,435.7 L594.5,435.4 L596.5,435.1 L598.4,434.7 L600.4,434.4 L602.4,434.1 L604.4,433.7 L606.4,433.4 L608.3,433.1 L610.3,432.7 L612.3,432.4 L614.3,432.0 L616.2,431.7 L618.2,431.3 L620.2,431.0 L622.1,430.6 L624.1,430.2 L626.1,429.8 L628.0,429.4 L630.0,429.0 L632.0,428.6 L633.9,428.2 L635.9,427.8 L637.8,427.4 L639.8,426.9 L641.7,426.5 L643.7,426.0 L645.6,425.5 L647.6,425.1 L649.5,424.6 L651.4,424.1 L653.4,423.5 L655.3,423.0 L657.2,422.5 L659.1,421.9 L661.0,421.3 L662.9,420.7 L664.9,420.1 L666.8,419.5 L668.6,418.9 L670.5,418.2 L672.4,417.5 L674.3,416.9 L676.2,416.2 L678.1,415.4 L679.9,414.7 L681.8,414.0 L683.7,413.2 L685.5,412.5 L687.4,411.7 L689.2,410.9 L691.1,410.1 L692.9,409.3 L694.8,408.5 L696.6,407.8 L698.5,406.9 L700.3,406.1 L702.2,405.3 L704.0,404.5 L705.9,403.7 L707.7,402.9 L709.6,402.1 L711.4,401.3 L713.3,400.6 L715.1,399.8 L717.0,399.0 L718.8,398.2 L720.7,397.5 L722.6,396.7 L724.4,396.0 L726.3,395.3 L728.2,394.5 L730.1,393.9 L732.0,393.2 L733.8,392.5 L735.7,391.8 L737.6,391.2 L739.5,390.6 L741.5,390.0 L743.4,389.4 L745.3,388.8 L747.2,388.2 L749.1,387.7 L751.0,387.1 L753.0,386.6 L754.9,386.1 L756.8,385.6 L758.8,385.1 L760.7,384.7 L762.7,384.2 L764.6,383.8 L766.6,383.4 L768.5,383.0 L770.5,382.6 L772.4,382.2 L774.4,381.8 L776.4,381.5 L778.3,381.2 L780.3,380.8 L782.3,380.5 L784.2,380.3 L786.2,380.0 L788.2,379.7 L790.2,379.4 L792.2,379.2 L794.1,379.0 L796.1,378.7 L798.1,378.5 L800.1,378.3 L802.1,378.1 L804.1,378.0 L806.1,377.8 L808.1,377.6 L810.1,377.5 L812.1,377.3 L814.1,377.2 L816.1,377.0 L818.1,376.9 L820.1,376.8 L822.1,376.7 L824.1,376.6 L826.1,376.5 L828.1,376.4 L830.1,376.3 L832.1,376.2 L834.2,376.1 L836.2,376.0 L838.2,375.9 L840.2,375.9 L842.2,375.8 L844.2,375.7 L846.2,375.7 L848.2,375.6 L850.3,375.5 L852.3,375.5 L854.3,375.4 L856.3,375.3 L858.3,375.3 L860.3,375.2 L862.4,375.2 L864.4,375.1 L866.4,375.0 L868.4,375.0 L870.4,374.9 L872.4,374.8 L874.4,374.8 L876.5,374.7 L878.5,374.6 L880.5,374.5 L882.5,374.5 L884.5,374.4 L886.5,374.3 L888.5,374.2 L890.5,374.1 L892.6,374.0 L894.6,373.9 L896.6,373.7 L898.6,373.6 L900.6,373.5 L902.6,373.3 L904.6,373.2 L906.6,373.0 L908.6,372.9 L910.6,372.7 L912.6,372.5 L914.6,372.3 L916.6,372.1 L918.6,371.9 L920.5,371.7 L922.5,371.5 L924.5,371.2 L926.5,371.0 L928.5,370.7 L930.5,370.4 L932.5,370.1 L934.4,369.8 L936.4,369.5 L938.4,369.2 L940.3,368.8 L942.3,368.5 L944.3,368.1 L946.2,367.7 L948.2,367.3 L950.2,366.9 L952.1,366.5 L954.1,366.0 L956.0,365.6 L958.0,365.1 L959.9,364.6 L959.1,366.5 L958.3,368.4 L957.5,370.3 L956.6,372.1 L955.7,374.0 L954.7,375.8 L953.7,377.5 L952.7,379.3 L951.6,381.0 L950.5,382.7 L949.4,384.3 L948.2,386.0 L947.0,387.6 L945.8,389.2 L944.6,390.7 L943.3,392.3 L942.0,393.8 L940.7,395.2 L939.3,396.7 L937.9,398.1 L936.5,399.5 L935.1,400.9 L933.6,402.2 L932.1,403.6 L930.6,404.9 L929.1,406.1 L927.5,407.4 L925.9,408.6 L924.4,409.8 L922.7,410.9 L921.1,412.1 L919.5,413.2 L917.8,414.3 L916.1,415.3 L914.4,416.4 L912.7,417.4 L910.9,418.4 L909.2,419.3 L907.4,420.3 L905.7,421.2 L903.9,422.1 L902.1,423.0 L900.3,423.9 L898.4,424.7 L896.6,425.6 L894.8,426.4 L892.9,427.2 L891.1,428.0 L889.2,428.7 L887.3,429.5 L885.4,430.2 L883.6,431.0 L881.7,431.7 L879.8,432.4 L877.9,433.1 L876.0,433.7 L874.1,434.4 L872.2,435.1 L870.3,435.7 L868.3,436.4 L866.4,437.0 L864.5,437.6 L862.6,438.2 L860.7,438.8 L858.7,439.4 L856.8,439.9 L854.9,440.5 L852.9,441.0 L851.0,441.6 L849.1,442.1 L847.1,442.6 L845.2,443.1 L843.2,443.6 L841.3,444.1 L839.3,444.6 L837.3,445.0 L835.4,445.5 L833.4,445.9 L831.5,446.3 L829.5,446.8 L827.5,447.2 L825.6,447.6 L823.6,447.9 L821.6,448.3 L819.6,448.7 L817.7,449.0 L815.7,449.4 L813.7,449.7 L811.7,450.0 L809.7,450.3 L807.7,450.6 L805.8,450.9 L803.8,451.2 L801.8,451.5 L799.8,451.7 L797.8,452.0 L795.8,452.3 L793.8,452.5 L791.8,452.8 L789.8,453.1 L787.8,453.3 L785.9,453.6 L783.9,453.9 L781.9,454.1 L779.9,454.4 L777.9,454.7 L775.9,455.0 L773.9,455.3 L772.0,455.6 L770.0,455.9 L768.0,456.2 L766.0,456.6 L764.1,456.9 L762.1,457.3 L760.1,457.7 L758.2,458.1 L756.2,458.5 L754.2,458.9 L752.3,459.4 L750.3,459.9 L748.4,460.4 L746.4,460.9 L744.5,461.4 L742.6,461.9 L740.6,462.5 L738.7,463.0 L736.8,463.6 L734.9,464.2 L732.9,464.8 L731.0,465.4 L729.1,466.0 L727.2,466.7 L725.3,467.3 L723.3,467.9 L721.4,468.6 L719.5,469.3 L717.6,469.9 L715.7,470.6 L713.8,471.3 L711.9,472.0 L710.0,472.6 L708.1,473.3 L706.2,474.0 L704.3,474.7 L702.3,475.4 L700.4,476.1 L698.5,476.8 L696.6,477.5 L694.7,478.2 L692.8,478.9 L690.9,479.5 L689.0,480.2 L687.1,480.9 L685.2,481.5 L683.3,482.2 L681.4,482.9 L679.4,483.5 L677.5,484.1 L675.6,484.8 L673.7,485.4 L671.8,486.0 L669.9,486.6 L667.9,487.2 L666.0,487.8 L664.1,488.3 L662.1,488.9 L660.2,489.4 L658.3,489.9 L656.3,490.5 L654.4,491.0 L652.5,491.5 L650.5,492.0 L648.6,492.4 L646.6,492.9 L644.7,493.4 L642.7,493.8 L640.8,494.2 L638.8,494.7 L636.9,495.1 L634.9,495.5 L633.0,495.9 L631.0,496.2 L629.1,496.6 L627.1,497.0 L625.1,497.3 L623.2,497.7 L621.2,498.0 L619.3,498.3 L617.3,498.6 L615.3,498.9 L613.4,499.2 L611.4,499.5 L609.4,499.7 L607.4,500.0 L605.5,500.2 L603.5,500.5 L601.5,500.7 L599.5,500.9 L597.6,501.1 L595.6,501.3 L593.6,501.5 L591.6,501.7 L589.7,501.9 L587.7,502.0 L585.7,502.2 L583.7,502.3 L581.7,502.4 L579.8,502.5 L577.8,502.6 L575.8,502.7 L573.8,502.8 L571.8,502.9 L569.8,503.0 L567.8,503.0 L565.9,503.1 L563.9,503.1 L561.9,503.1 L559.9,503.1 L557.9,503.1 L555.9,503.1 L553.9,503.1 L551.9,503.1 L550.0,503.1 L548.0,503.0 L546.0,503.0 L544.0,502.9 L542.0,502.9 L540.0,502.8 L538.0,502.7 L536.0,502.6 L534.0,502.5 L532.0,502.4 L530.1,502.3 L528.1,502.1 L526.1,502.0 L524.1,501.9 L522.1,501.7 L520.1,501.6 L518.1,501.4 L516.1,501.2 L514.1,501.1 L512.1,500.9 L510.1,500.7 L508.2,500.5 L506.2,500.3 L504.2,500.1 L502.2,499.9 L500.2,499.7 L498.2,499.4 L496.2,499.2 L494.2,499.0 L492.2,498.7 L490.2,498.5 L488.2,498.2 L486.2,498.0 L484.2,497.7 L482.2,497.5 L480.3,497.2 L478.3,496.9 L476.3,496.7 L474.3,496.4 L472.3,496.1 L470.3,495.8 L468.3,495.6 L466.3,495.3 L464.3,495.0 L462.3,494.7 L460.3,494.4 L458.3,494.1 L456.3,493.8 L454.3,493.5 L452.3,493.2 L450.3,492.9 L448.3,492.6 L446.3,492.3 L444.3,492.0 L442.3,491.7 L440.3,491.4 L438.3,491.1 L436.3,490.8 L434.3,490.5 L432.3,490.2 L430.3,489.9 L428.3,489.6 L426.3,489.3 L424.3,489.0 L422.3,488.7 L420.3,488.4 L418.3,488.1 L416.3,487.8 L414.3,487.5 L412.3,487.2 L410.3,486.9 L408.3,486.6 L406.3,486.3 L404.3,486.0 L402.3,485.8 L400.3,485.5 L398.3,485.2 L396.3,484.9 L394.3,484.7 L392.3,484.4 L390.3,484.1 L388.3,483.9 L386.3,483.6 L384.3,483.4 L382.3,483.1 L380.3,482.9 L378.3,482.7 L376.3,482.4 L374.3,482.2 L372.3,482.0 L370.3,481.8 L368.3,481.6 L366.3,481.4 L364.3,481.2 L362.3,481.0 L360.3,480.8 L358.3,480.6 L356.3,480.4 L354.3,480.3 L352.3,480.1 L350.2,479.9 L348.2,479.8 L346.2,479.6 L344.2,479.5 L342.2,479.3 L340.2,479.2 L338.2,479.1 L336.2,478.9 L334.2,478.8 L332.2,478.7 L330.2,478.6 L328.2,478.5 L326.2,478.4 L324.2,478.3 L322.2,478.2 L320.1,478.1 L318.1,478.0 L316.1,477.9 L314.1,477.9 L312.1,477.8 L310.1,477.7 L308.1,477.7 L306.1,477.6 L304.1,477.6 L302.1,477.5 L300.1,477.5 L298.1,477.4 L296.1,477.4 L294.1,477.4 L292.1,477.3 L290.1,477.3 L288.1,477.3 L286.0,477.3 L284.0,477.3 L282.0,477.3 L280.0,477.3 L278.0,477.3 L276.0,477.3 L274.0,477.3 L272.0,477.3 L270.0,477.4 L268.0,477.4 L266.0,477.4 L264.0,477.4 L262.0,477.5 L260.0,477.5 L258.0,477.6 L256.0,477.6 L254.0,477.7 L252.0,477.7 L250.0,477.8 L248.0,477.9 L246.0,477.9 L244.0,478.0 L242.0,478.1 L240.0,478.2 L238.0,478.3 L236.0,478.4 L234.0,478.5 L232.0,478.6 L230.0,478.7 L228.0,478.8 L226.0,478.9 L224.0,479.0 L222.0,479.1 L220.0,479.2 L218.0,479.3 L216.0,479.5 L214.0,479.6 L212.0,479.7 L210.1,479.9 L208.1,480.0 L206.1,480.2 L204.1,480.3 L202.1,480.5 L200.1,480.6 L198.1,480.8 L196.1,480.9 L194.1,481.1 L192.1,481.3 L190.2,481.5 L188.2,481.6 L186.2,481.8 L184.2,482.0" fill="none" stroke="#0000ff" stroke-width="4.9" stroke-linejoin="round" stroke-linecap="round"/>
<path d="M183.8,498.5 L184.8,496.7 L186.0,495.1 L187.2,493.5 L188.5,492.1 L189.9,490.8 L191.4,489.6 L192.9,488.5 L194.5,487.4 L196.2,486.5 L197.9,485.6 L199.7,484.7 L201.5,484.0 L203.3,483.2 L205.2,482.6 L207.1,481.9 L209.0,481.3 L210.9,480.7 L212.9,480.1 L214.8,479.6 L216.7,479.0 L218.6,478.5 L220.6,478.0 L222.5,477.5 L224.5,477.0 L226.4,476.5 L228.4,476.0 L230.3,475.6 L232.3,475.2 L234.2,474.7 L236.2,474.3 L238.1,473.9 L240.1,473.5 L242.0,473.2 L244.0,472.8 L246.0,472.5 L247.9,472.1 L249.9,471.8 L251.9,471.5 L253.9,471.1 L255.8,470.8 L257.8,470.5 L259.8,470.3 L261.8,470.0 L263.8,469.7 L265.8,469.5 L267.8,469.2 L269.7,469.0 L271.7,468.7 L273.7,468.5 L275.7,468.3 L277.7,468.1 L279.7,467.8 L281.7,467.6 L283.7,467.4 L285.7,467.2 L287.7,467.0 L289.7,466.9 L291.7,466.7 L293.7,466.5 L295.7,466.3 L297.7,466.1 L299.7,466.0 L301.7,465.8 L303.7,465.6 L305.7,465.5 L307.7,465.3 L309.7,465.1 L311.7,465.0 L313.7,464.8 L315.7,464.7 L317.7,464.5 L319.8,464.4 L321.8,464.2 L323.8,464.0 L325.8,463.9 L327.8,463.7 L329.8,463.6 L331.8,463.4 L333.8,463.2 L335.8,463.1 L337.8,462.9 L339.8,462.8 L341.8,462.6 L343.8,462.4 L345.8,462.3 L347.8,462.1 L349.8,461.9 L351.8,461.8 L353.8,461.6 L355.8,461.4 L357.8,461.3 L359.8,461.1 L361.8,460.9 L363.8,460.7 L365.8,460.6 L367.8,460.4 L369.8,460.2 L371.8,460.0 L373.8,459.9 L375.8,459.7 L377.8,459.5 L379.8,459.3 L381.8,459.2 L383.8,459.0 L385.8,458.8 L387.8,458.6 L389.8,458.4 L391.8,458.2 L393.8,458.0 L395.8,457.9 L397.8,457.7 L399.8,457.5 L401.8,457.3 L403.7,457.1 L405.7,456.9 L407.7,456.7 L409.7,456.5 L411.7,456.3 L413.7,456.1 L415.7,455.9 L417.7,455.7 L419.7,455.5 L421.7,455.3 L423.7,455.1 L425.7,454.9 L427.7,454.7 L429.7,454.4 L431.7,454.2 L433.6,454.0 L435.6,453.8 L437.6,453.6 L439.6,453.4 L441.6,453.1 L443.6,452.9 L445.6,452.7 L447.6,452.5 L449.6,452.2 L451.6,452.0 L453.5,451.8 L455.5,451.5 L457.5,451.3 L459.5,451.1 L461.5,450.8 L463.5,450.6 L465.5,450.3 L467.5,450.1 L469.4,449.8 L471.4,449.6 L473.4,449.3 L475.4,449.1 L477.4,448.8 L479.4,448.6 L481.4,448.3 L483.3,448.0 L485.3,447.8 L487.3,447.5 L489.3,447.2 L491.3,447.0 L493.3,446.7 L495.2,446.4 L497.2,446.1 L499.2,445.8 L501.2,445.6 L503.2,445.3 L505.2,445.0 L507.1,444.7 L509.1,444.4 L511.1,444.1 L513.1,443.8 L515.1,443.5 L517.0,443.2 L519.0,442.9 L521.0,442.6 L523.0,442.3 L525.0,442.0 L526.9,441.6 L528.9,441.3 L530.9,441.0 L532.9,440.7 L534.8,440.3 L536.8,440.0 L538.8,439.7 L540.8,439.3 L542.8,439.0 L544.7,438.7 L546.7,438.3 L548.7,438.0 L550.7,437.6 L552.6,437.3 L554.6,436.9 L556.6,436.6 L558.5,436.2 L560.5,435.8 L562.5,435.5 L564.5,435.1 L566.4,434.7 L568.4,434.3 L570.4,433.9 L572.3,433.5 L574.3,433.1 L576.3,432.7 L578.2,432.3 L580.2,431.9 L582.2,431.5 L584.1,431.1 L586.1,430.7 L588.1,430.3 L590.0,429.8 L592.0,429.4 L594.0,428.9 L595.9,428.5 L597.9,428.0 L599.8,427.6 L601.8,427.1 L603.7,426.6 L605.7,426.2 L607.6,425.7 L609.6,425.2 L611.5,424.7 L613.5,424.2 L615.4,423.7 L617.4,423.2 L619.3,422.6 L621.3,422.1 L623.2,421.6 L625.1,421.0 L627.1,420.4 L629.0,419.9 L630.9,419.3 L632.8,418.7 L634.7,418.1 L636.7,417.5 L638.6,416.8 L640.5,416.2 L642.3,415.5 L644.2,414.9 L646.1,414.2 L648.0,413.5 L649.8,412.7 L651.7,412.0 L653.5,411.3 L655.4,410.5 L657.2,409.7 L659.0,408.9 L660.8,408.1 L662.7,407.3 L664.4,406.4 L666.2,405.5 L668.0,404.6 L669.8,403.7 L671.5,402.8 L673.3,401.8 L675.0,400.8 L676.7,399.9 L678.4,398.8 L680.2,397.8 L681.9,396.8 L683.6,395.7 L685.2,394.7 L686.9,393.6 L688.6,392.5 L690.3,391.4 L692.0,390.3 L693.6,389.2 L695.3,388.1 L696.9,387.0 L698.6,385.9 L700.3,384.7 L701.9,383.6 L703.6,382.5 L705.3,381.3 L706.9,380.2 L708.6,379.1 L710.3,378.0 L711.9,376.9 L713.6,375.8 L715.3,374.7 L717.0,373.6 L718.7,372.5 L720.4,371.4 L722.1,370.3 L723.8,369.3 L725.5,368.2 L727.2,367.2 L729.0,366.2 L730.7,365.2 L732.5,364.2 L734.3,363.3 L736.0,362.3 L737.8,361.4 L739.6,360.5 L741.4,359.6 L743.2,358.8 L745.1,357.9 L746.9,357.1 L748.7,356.3 L750.6,355.5 L752.4,354.7 L754.3,354.0 L756.1,353.2 L758.0,352.5 L759.9,351.9 L761.8,351.2 L763.7,350.6 L765.6,350.0 L767.5,349.4 L769.4,348.8 L771.3,348.3 L773.2,347.8 L775.1,347.3 L777.1,346.8 L779.0,346.3 L780.9,345.9 L782.9,345.5 L784.8,345.1 L786.8,344.8 L788.7,344.4 L790.7,344.1 L792.7,343.8 L794.6,343.5 L796.6,343.2 L798.6,342.9 L800.6,342.7 L802.5,342.4 L804.5,342.2 L806.5,342.0 L808.5,341.8 L810.5,341.6 L812.5,341.5 L814.5,341.3 L816.5,341.2 L818.5,341.0 L820.5,340.9 L822.5,340.8 L824.5,340.7 L826.5,340.6 L828.5,340.5 L830.6,340.4 L832.6,340.3 L834.6,340.2 L836.6,340.2 L838.6,340.1 L840.7,340.0 L842.7,340.0 L844.7,339.9 L846.7,339.9 L848.7,339.8 L850.8,339.8 L852.8,339.7 L854.8,339.7 L856.8,339.6 L858.9,339.5 L860.9,339.5 L862.9,339.4 L864.9,339.4 L866.9,339.3 L869.0,339.2 L871.0,339.2 L873.0,339.1 L875.0,339.0 L877.0,338.9 L879.0,338.8 L881.0,338.7 L883.0,338.6 L885.1,338.4 L887.1,338.3 L889.1,338.2 L891.1,338.0 L893.1,337.8 L895.1,337.7 L897.0,337.5 L899.0,337.3 L901.0,337.0 L903.0,336.8 L905.0,336.6 L907.0,336.3 L908.9,336.0 L910.9,335.7 L912.9,335.4 L914.8,335.1 L916.8,334.7 L918.7,334.4 L920.7,334.0 L922.6,333.6 L924.6,333.1 L926.5,332.7 L928.5,332.2 L930.4,331.7 L932.3,331.2 L934.2,330.7 L936.1,330.1 L938.0,329.5 L939.9,328.9 L941.8,328.3 L943.7,327.6 L945.6,326.9 L947.5,326.2 L949.3,325.5 L951.2,324.7 L953.1,323.9 L954.9,323.1 L956.8,322.2 L958.6,321.3 L958.3,323.4 L958.0,325.5 L957.7,327.5 L957.3,329.6 L956.9,331.6 L956.4,333.6 L955.9,335.6 L955.4,337.6 L954.9,339.6 L954.3,341.6 L953.7,343.5 L953.1,345.4 L952.4,347.3 L951.8,349.2 L951.0,351.1 L950.3,353.0 L949.5,354.8 L948.7,356.7 L947.9,358.5 L947.1,360.3 L946.2,362.1 L945.3,363.9 L944.3,365.6 L943.4,367.4 L942.4,369.1 L941.4,370.8 L940.4,372.5 L939.3,374.2 L938.2,375.8 L937.1,377.5 L936.0,379.1 L934.9,380.7 L933.7,382.3 L932.5,383.9 L931.3,385.5 L930.0,387.0 L928.8,388.5 L927.5,390.0 L926.2,391.5 L924.9,393.0 L923.5,394.5 L922.2,395.9 L920.8,397.3 L919.4,398.7 L917.9,400.1 L916.5,401.5 L915.1,402.8 L913.6,404.2 L912.1,405.5 L910.6,406.8 L909.1,408.1 L907.5,409.3 L906.0,410.6 L904.4,411.8 L902.8,413.0 L901.2,414.2 L899.6,415.4 L897.9,416.5 L896.3,417.6 L894.6,418.8 L892.9,419.9 L891.3,420.9 L889.6,422.0 L887.8,423.0 L886.1,424.0 L884.4,425.0 L882.6,426.0 L880.9,427.0 L879.1,427.9 L877.3,428.9 L875.5,429.8 L873.7,430.6 L871.9,431.5 L870.1,432.3 L868.2,433.2 L866.4,434.0 L864.6,434.8 L862.7,435.5 L860.8,436.3 L859.0,437.0 L857.1,437.7 L855.2,438.4 L853.3,439.1 L851.4,439.7 L849.5,440.4 L847.6,441.0 L845.7,441.6 L843.8,442.2 L841.8,442.8 L839.9,443.4 L838.0,443.9 L836.0,444.5 L834.1,445.0 L832.1,445.5 L830.2,446.0 L828.2,446.6 L826.3,447.1 L824.3,447.5 L822.3,448.0 L820.4,448.5 L818.4,449.0 L816.4,449.4 L814.4,449.9 L812.5,450.4 L810.5,450.8 L808.5,451.2 L806.5,451.7 L804.5,452.1 L802.6,452.6 L800.6,453.0 L798.6,453.4 L796.6,453.9 L794.6,454.3 L792.7,454.8 L790.7,455.2 L788.7,455.6 L786.7,456.1 L784.7,456.5 L782.8,457.0 L780.8,457.4 L778.8,457.9 L776.9,458.4 L774.9,458.8 L772.9,459.3 L771.0,459.8 L769.0,460.3 L767.1,460.8 L765.2,461.3 L763.2,461.8 L761.3,462.4 L759.4,462.9 L757.4,463.4 L755.5,464.0 L753.6,464.6 L751.7,465.2 L749.8,465.8 L747.9,466.4 L746.0,467.0 L744.1,467.6 L742.2,468.3 L740.4,469.0 L738.5,469.6 L736.6,470.3 L734.8,471.0 L732.9,471.7 L731.1,472.4 L729.2,473.1 L727.4,473.9 L725.5,474.6 L723.7,475.4 L721.9,476.1 L720.0,476.9 L718.2,477.7 L716.4,478.5 L714.5,479.3 L712.7,480.1 L710.9,481.0 L709.1,481.8 L707.3,482.6 L705.5,483.5 L703.7,484.3 L701.9,485.2 L700.1,486.1 L698.3,487.0 L696.5,487.9 L694.7,488.8 L692.9,489.7 L691.1,490.6 L689.3,491.5 L687.5,492.4 L685.7,493.4 L683.9,494.3 L682.1,495.3 L680.3,496.2 L678.5,497.2 L676.7,498.2 L674.9,499.2 L673.1,500.1 L671.3,501.1 L669.5,502.1 L667.8,503.1 L666.0,504.1 L664.2,505.1 L662.4,506.1 L660.6,507.2 L658.8,508.2 L657.0,509.2 L655.2,510.2 L653.3,511.2 L651.5,512.2 L649.7,513.1 L647.9,514.1 L646.1,515.1 L644.3,516.0 L642.4,516.9 L640.6,517.8 L638.8,518.7 L637.0,519.6 L635.1,520.5 L633.3,521.3 L631.4,522.1 L629.6,522.9 L627.7,523.7 L625.9,524.4 L624.0,525.1 L622.1,525.8 L620.2,526.4 L618.4,527.0 L616.5,527.6 L614.6,528.1 L612.7,528.6 L610.8,529.1 L608.8,529.5 L606.9,529.9 L605.0,530.2 L603.1,530.5 L601.1,530.8 L599.2,531.0 L597.2,531.2 L595.3,531.3 L593.3,531.5 L591.3,531.6 L589.4,531.6 L587.4,531.7 L585.4,531.7 L583.5,531.7 L581.5,531.6 L579.5,531.6 L577.5,531.5 L575.5,531.4 L573.5,531.3 L571.5,531.1 L569.5,531.0 L567.5,530.8 L565.5,530.6 L563.5,530.4 L561.5,530.2 L559.5,530.0 L557.5,529.7 L555.5,529.5 L553.5,529.3 L551.5,529.0 L549.5,528.8 L547.5,528.5 L545.5,528.3 L543.5,528.0 L541.5,527.7 L539.5,527.5 L537.5,527.2 L535.5,527.0 L533.6,526.7 L531.6,526.4 L529.6,526.1 L527.6,525.9 L525.6,525.6 L523.6,525.3 L521.6,525.0 L519.6,524.7 L517.7,524.4 L515.7,524.2 L513.7,523.9 L511.7,523.6 L509.7,523.3 L507.7,523.0 L505.8,522.7 L503.8,522.4 L501.8,522.1 L499.8,521.8 L497.8,521.5 L495.9,521.2 L493.9,520.9 L491.9,520.6 L489.9,520.3 L488.0,520.0 L486.0,519.6 L484.0,519.3 L482.0,519.0 L480.0,518.7 L478.1,518.4 L476.1,518.1 L474.1,517.8 L472.1,517.5 L470.2,517.1 L468.2,516.8 L466.2,516.5 L464.3,516.2 L462.3,515.9 L460.3,515.5 L458.3,515.2 L456.4,514.9 L454.4,514.6 L452.4,514.3 L450.4,513.9 L448.5,513.6 L446.5,513.3 L444.5,513.0 L442.5,512.6 L440.6,512.3 L438.6,512.0 L436.6,511.7 L434.6,511.4 L432.7,511.0 L430.7,510.7 L428.7,510.4 L426.7,510.1 L424.8,509.8 L422.8,509.4 L420.8,509.1 L418.8,508.8 L416.9,508.5 L414.9,508.2 L412.9,507.9 L410.9,507.5 L409.0,507.2 L407.0,506.9 L405.0,506.6 L403.0,506.3 L401.0,506.0 L399.0,505.7 L397.1,505.4 L395.1,505.1 L393.1,504.8 L391.1,504.5 L389.1,504.2 L387.1,503.9 L385.2,503.6 L383.2,503.3 L381.2,503.0 L379.2,502.7 L377.2,502.4 L375.2,502.1 L373.2,501.8 L371.2,501.5 L369.2,501.2 L367.2,500.9 L365.2,500.7 L363.3,500.4 L361.3,500.1 L359.3,499.8 L357.3,499.6 L355.3,499.3 L353.3,499.0 L351.3,498.7 L349.3,498.5 L347.2,498.2 L345.2,498.0 L343.2,497.7 L341.2,497.5 L339.2,497.2 L337.2,497.0 L335.2,496.7 L333.2,496.5 L331.2,496.2 L329.2,496.0 L327.1,495.8 L325.1,495.5 L323.1,495.3 L321.1,495.1 L319.1,494.9 L317.0,494.7 L315.0,494.5 L313.0,494.2 L311.0,494.0 L309.0,493.9 L306.9,493.7 L304.9,493.5 L302.9,493.3 L300.9,493.1 L298.9,493.0 L296.8,492.8 L294.8,492.7 L292.8,492.5 L290.8,492.4 L288.8,492.2 L286.7,492.1 L284.7,492.0 L282.7,491.9 L280.7,491.8 L278.7,491.7 L276.6,491.6 L274.6,491.5 L272.6,491.4 L270.6,491.3 L268.6,491.3 L266.6,491.2 L264.5,491.2 L262.5,491.1 L260.5,491.1 L258.5,491.1 L256.5,491.1 L254.5,491.1 L252.5,491.1 L250.5,491.1 L248.5,491.1 L246.5,491.2 L244.5,491.2 L242.5,491.3 L240.5,491.3 L238.5,491.4 L236.5,491.5 L234.5,491.6 L232.6,491.7 L230.6,491.8 L228.6,492.0 L226.6,492.1 L224.6,492.3 L222.7,492.4 L220.7,492.6 L218.7,492.8 L216.8,493.0 L214.8,493.2 L212.8,493.5 L210.9,493.7 L208.9,494.0 L207.0,494.2 L205.0,494.5 L203.1,494.8 L201.1,495.1 L199.2,495.4 L197.3,495.8 L195.3,496.1 L193.4,496.5 L191.5,496.8 L189.5,497.2 L187.6,497.6 L185.7,498.1 L183.8,498.5" fill="none" stroke="#ff00ff" stroke-width="4.9" stroke-linejoin="round" stroke-linecap="round"/>
<path d="M184.0,511.8 L184.9,510.0 L185.9,508.3 L187.0,506.6 L188.2,505.0 L189.4,503.6 L190.7,502.1 L192.0,500.8 L193.4,499.5 L194.9,498.3 L196.4,497.1 L197.9,496.0 L199.5,495.0 L201.2,494.0 L202.9,493.1 L204.6,492.2 L206.4,491.3 L208.2,490.5 L210.0,489.8 L211.8,489.0 L213.7,488.3 L215.6,487.7 L217.5,487.0 L219.4,486.4 L221.3,485.8 L223.3,485.2 L225.2,484.7 L227.2,484.1 L229.2,483.6 L231.1,483.1 L233.1,482.6 L235.1,482.1 L237.1,481.7 L239.1,481.2 L241.1,480.8 L243.1,480.3 L245.1,479.9 L247.1,479.5 L249.1,479.1 L251.1,478.8 L253.1,478.4 L255.1,478.0 L257.1,477.7 L259.1,477.3 L261.1,477.0 L263.1,476.7 L265.1,476.4 L267.1,476.0 L269.1,475.7 L271.1,475.4 L273.1,475.2 L275.1,474.9 L277.1,474.6 L279.1,474.3 L281.1,474.1 L283.1,473.8 L285.1,473.5 L287.1,473.3 L289.1,473.0 L291.0,472.8 L293.0,472.6 L295.0,472.3 L297.0,472.1 L299.0,471.9 L301.0,471.7 L303.0,471.4 L304.9,471.2 L306.9,471.0 L308.9,470.8 L310.9,470.6 L312.9,470.4 L314.9,470.2 L316.8,470.0 L318.8,469.7 L320.8,469.5 L322.8,469.3 L324.8,469.1 L326.7,468.9 L328.7,468.7 L330.7,468.5 L332.7,468.3 L334.7,468.1 L336.6,467.9 L338.6,467.7 L340.6,467.5 L342.6,467.3 L344.6,467.0 L346.6,466.8 L348.5,466.6 L350.5,466.4 L352.5,466.2 L354.5,465.9 L356.5,465.7 L358.5,465.5 L360.4,465.2 L362.4,465.0 L364.4,464.8 L366.4,464.5 L368.4,464.3 L370.4,464.1 L372.3,463.8 L374.3,463.6 L376.3,463.3 L378.3,463.1 L380.3,462.8 L382.3,462.6 L384.3,462.3 L386.3,462.1 L388.2,461.8 L390.2,461.6 L392.2,461.3 L394.2,461.0 L396.2,460.8 L398.2,460.5 L400.2,460.2 L402.1,460.0 L404.1,459.7 L406.1,459.4 L408.1,459.1 L410.1,458.9 L412.1,458.6 L414.1,458.3 L416.1,458.0 L418.0,457.7 L420.0,457.4 L422.0,457.2 L424.0,456.9 L426.0,456.6 L428.0,456.3 L430.0,456.0 L432.0,455.7 L433.9,455.4 L435.9,455.1 L437.9,454.8 L439.9,454.5 L441.9,454.2 L443.9,453.9 L445.9,453.6 L447.9,453.2 L449.8,452.9 L451.8,452.6 L453.8,452.3 L455.8,452.0 L457.8,451.7 L459.8,451.3 L461.8,451.0 L463.8,450.7 L465.7,450.4 L467.7,450.0 L469.7,449.7 L471.7,449.4 L473.7,449.0 L475.7,448.7 L477.6,448.4 L479.6,448.0 L481.6,447.7 L483.6,447.4 L485.6,447.0 L487.6,446.7 L489.6,446.3 L491.5,446.0 L493.5,445.6 L495.5,445.3 L497.5,444.9 L499.5,444.6 L501.4,444.2 L503.4,443.8 L505.4,443.5 L507.4,443.1 L509.4,442.8 L511.4,442.4 L513.3,442.0 L515.3,441.6 L517.3,441.3 L519.3,440.9 L521.2,440.5 L523.2,440.1 L525.2,439.8 L527.2,439.4 L529.1,439.0 L531.1,438.6 L533.1,438.2 L535.1,437.8 L537.0,437.4 L539.0,437.0 L541.0,436.5 L542.9,436.1 L544.9,435.7 L546.9,435.3 L548.8,434.8 L550.8,434.4 L552.7,433.9 L554.7,433.5 L556.6,433.0 L558.6,432.6 L560.6,432.1 L562.5,431.6 L564.4,431.1 L566.4,430.6 L568.3,430.1 L570.3,429.6 L572.2,429.1 L574.1,428.6 L576.1,428.1 L578.0,427.5 L579.9,427.0 L581.9,426.4 L583.8,425.9 L585.7,425.3 L587.6,424.7 L589.5,424.1 L591.4,423.5 L593.4,422.9 L595.3,422.3 L597.2,421.7 L599.1,421.0 L601.0,420.4 L602.9,419.7 L604.7,419.1 L606.6,418.4 L608.5,417.7 L610.4,417.0 L612.3,416.3 L614.1,415.6 L616.0,414.8 L617.9,414.1 L619.7,413.3 L621.6,412.6 L623.4,411.8 L625.3,411.0 L627.1,410.2 L628.9,409.4 L630.8,408.5 L632.6,407.7 L634.4,406.9 L636.2,406.0 L638.0,405.1 L639.8,404.2 L641.6,403.3 L643.4,402.4 L645.1,401.5 L646.9,400.5 L648.7,399.6 L650.4,398.6 L652.2,397.6 L653.9,396.6 L655.6,395.6 L657.3,394.6 L659.0,393.5 L660.7,392.5 L662.4,391.4 L664.1,390.3 L665.8,389.2 L667.4,388.1 L669.1,386.9 L670.7,385.8 L672.3,384.6 L674.0,383.5 L675.6,382.3 L677.2,381.1 L678.7,379.8 L680.3,378.6 L681.9,377.3 L683.4,376.1 L685.0,374.8 L686.5,373.5 L688.0,372.2 L689.5,370.9 L691.0,369.5 L692.5,368.2 L694.0,366.8 L695.5,365.5 L697.0,364.1 L698.5,362.8 L700.0,361.4 L701.5,360.1 L703.0,358.7 L704.5,357.4 L705.9,356.0 L707.4,354.7 L708.9,353.3 L710.4,352.0 L712.0,350.6 L713.5,349.3 L715.0,348.0 L716.5,346.7 L718.1,345.4 L719.6,344.1 L721.2,342.9 L722.8,341.6 L724.4,340.4 L726.0,339.2 L727.6,338.0 L729.2,336.8 L730.9,335.6 L732.5,334.5 L734.2,333.4 L735.9,332.3 L737.6,331.2 L739.3,330.2 L741.1,329.2 L742.8,328.2 L744.6,327.2 L746.4,326.2 L748.2,325.3 L750.0,324.4 L751.8,323.5 L753.6,322.7 L755.4,321.8 L757.3,321.0 L759.1,320.2 L761.0,319.5 L762.8,318.7 L764.7,318.0 L766.6,317.4 L768.5,316.7 L770.4,316.1 L772.3,315.4 L774.2,314.9 L776.1,314.3 L778.0,313.8 L779.9,313.3 L781.9,312.8 L783.8,312.3 L785.7,311.8 L787.7,311.4 L789.6,311.0 L791.6,310.6 L793.6,310.2 L795.5,309.9 L797.5,309.5 L799.5,309.2 L801.4,308.9 L803.4,308.6 L805.4,308.3 L807.4,308.1 L809.4,307.8 L811.4,307.6 L813.4,307.4 L815.4,307.1 L817.4,306.9 L819.4,306.8 L821.4,306.6 L823.4,306.4 L825.4,306.2 L827.4,306.1 L829.4,305.9 L831.4,305.8 L833.4,305.7 L835.5,305.5 L837.5,305.4 L839.5,305.3 L841.5,305.2 L843.5,305.1 L845.6,304.9 L847.6,304.8 L849.6,304.7 L851.6,304.6 L853.7,304.5 L855.7,304.4 L857.7,304.3 L859.7,304.2 L861.8,304.1 L863.8,304.0 L865.8,303.8 L867.8,303.7 L869.8,303.6 L871.8,303.5 L873.9,303.3 L875.9,303.2 L877.9,303.0 L879.9,302.9 L881.9,302.7 L883.9,302.5 L885.9,302.3 L887.9,302.1 L889.9,301.9 L891.9,301.7 L893.9,301.5 L895.9,301.2 L897.8,300.9 L899.8,300.7 L901.8,300.4 L903.8,300.1 L905.7,299.8 L907.7,299.4 L909.6,299.1 L911.6,298.7 L913.5,298.3 L915.5,297.9 L917.4,297.5 L919.4,297.0 L921.3,296.6 L923.2,296.1 L925.1,295.6 L927.0,295.1 L928.9,294.5 L930.8,293.9 L932.7,293.3 L934.6,292.7 L936.5,292.0 L938.4,291.4 L940.2,290.7 L942.1,289.9 L944.0,289.2 L945.8,288.4 L947.6,287.6 L949.5,286.7 L951.3,285.8 L953.1,284.9 L954.9,284.0 L956.7,283.0 L958.5,282.0 L958.4,284.1 L958.2,286.1 L958.1,288.2 L957.9,290.2 L957.6,292.3 L957.4,294.3 L957.1,296.3 L956.8,298.4 L956.5,300.4 L956.2,302.4 L955.8,304.4 L955.4,306.4 L955.0,308.4 L954.5,310.3 L954.1,312.3 L953.6,314.3 L953.1,316.2 L952.5,318.2 L952.0,320.1 L951.4,322.0 L950.8,324.0 L950.2,325.9 L949.5,327.8 L948.9,329.7 L948.2,331.5 L947.5,333.4 L946.7,335.3 L946.0,337.1 L945.2,339.0 L944.4,340.8 L943.6,342.6 L942.7,344.4 L941.9,346.2 L941.0,348.0 L940.1,349.8 L939.2,351.6 L938.3,353.4 L937.3,355.1 L936.3,356.8 L935.3,358.6 L934.3,360.3 L933.3,362.0 L932.2,363.7 L931.2,365.4 L930.1,367.0 L929.0,368.7 L927.9,370.3 L926.7,372.0 L925.6,373.6 L924.4,375.2 L923.2,376.8 L922.0,378.4 L920.8,379.9 L919.5,381.5 L918.3,383.0 L917.0,384.6 L915.7,386.1 L914.4,387.6 L913.1,389.1 L911.7,390.6 L910.4,392.0 L909.0,393.5 L907.6,394.9 L906.3,396.3 L904.8,397.7 L903.4,399.1 L902.0,400.5 L900.5,401.8 L899.1,403.2 L897.6,404.5 L896.1,405.8 L894.6,407.1 L893.1,408.4 L891.5,409.7 L890.0,410.9 L888.4,412.2 L886.9,413.4 L885.3,414.6 L883.7,415.8 L882.1,416.9 L880.5,418.1 L878.8,419.2 L877.2,420.3 L875.5,421.4 L873.9,422.5 L872.2,423.6 L870.5,424.6 L868.8,425.7 L867.1,426.7 L865.4,427.7 L863.7,428.7 L862.0,429.6 L860.2,430.6 L858.5,431.5 L856.7,432.4 L855.0,433.3 L853.2,434.2 L851.4,435.1 L849.6,435.9 L847.8,436.8 L846.0,437.6 L844.2,438.4 L842.4,439.2 L840.5,440.0 L838.7,440.8 L836.9,441.5 L835.0,442.3 L833.2,443.0 L831.3,443.8 L829.5,444.5 L827.6,445.2 L825.7,445.9 L823.8,446.6 L822.0,447.3 L820.1,448.0 L818.2,448.7 L816.3,449.3 L814.4,450.0 L812.5,450.7 L810.6,451.3 L808.7,452.0 L806.8,452.6 L804.9,453.2 L803.0,453.9 L801.0,454.5 L799.1,455.1 L797.2,455.8 L795.3,456.4 L793.4,457.0 L791.5,457.6 L789.5,458.3 L787.6,458.9 L785.7,459.5 L783.8,460.1 L781.9,460.8 L779.9,461.4 L778.0,462.0 L776.1,462.6 L774.2,463.3 L772.3,463.9 L770.4,464.6 L768.5,465.2 L766.6,465.8 L764.6,466.5 L762.7,467.2 L760.9,467.8 L759.0,468.5 L757.1,469.2 L755.2,469.9 L753.3,470.6 L751.4,471.3 L749.5,472.0 L747.7,472.7 L745.8,473.4 L743.9,474.2 L742.1,474.9 L740.2,475.7 L738.4,476.4 L736.6,477.2 L734.7,478.0 L732.9,478.8 L731.1,479.6 L729.3,480.5 L727.5,481.3 L725.7,482.2 L723.9,483.0 L722.1,483.9 L720.4,484.8 L718.6,485.7 L716.8,486.7 L715.1,487.6 L713.4,488.6 L711.6,489.6 L709.9,490.6 L708.2,491.6 L706.5,492.6 L704.8,493.7 L703.1,494.8 L701.4,495.8 L699.8,496.9 L698.1,498.0 L696.5,499.1 L694.8,500.3 L693.1,501.4 L691.5,502.5 L689.8,503.7 L688.2,504.8 L686.6,506.0 L684.9,507.2 L683.3,508.3 L681.6,509.5 L680.0,510.7 L678.4,511.8 L676.7,513.0 L675.1,514.2 L673.4,515.3 L671.8,516.5 L670.1,517.7 L668.4,518.8 L666.8,520.0 L665.1,521.1 L663.4,522.3 L661.7,523.4 L660.1,524.5 L658.4,525.6 L656.7,526.7 L655.0,527.8 L653.3,528.9 L651.6,530.0 L649.8,531.1 L648.1,532.1 L646.4,533.2 L644.7,534.2 L642.9,535.2 L641.2,536.2 L639.5,537.2 L637.7,538.2 L636.0,539.2 L634.2,540.1 L632.4,541.0 L630.7,542.0 L628.9,542.9 L627.1,543.7 L625.3,544.6 L623.6,545.4 L621.8,546.3 L620.0,547.1 L618.2,547.8 L616.4,548.6 L614.6,549.3 L612.7,550.0 L610.9,550.7 L609.1,551.4 L607.3,552.0 L605.5,552.7 L603.6,553.2 L601.8,553.8 L599.9,554.4 L598.1,554.9 L596.2,555.3 L594.4,555.8 L592.5,556.2 L590.6,556.6 L588.8,557.0 L586.9,557.3 L585.0,557.7 L583.1,557.9 L581.2,558.2 L579.3,558.4 L577.4,558.6 L575.5,558.7 L573.6,558.8 L571.7,558.9 L569.8,559.0 L567.9,559.0 L565.9,558.9 L564.0,558.9 L562.1,558.8 L560.1,558.7 L558.2,558.5 L556.2,558.3 L554.3,558.1 L552.3,557.9 L550.4,557.6 L548.4,557.3 L546.4,557.0 L544.5,556.7 L542.5,556.3 L540.5,555.9 L538.6,555.5 L536.6,555.1 L534.6,554.7 L532.6,554.2 L530.7,553.7 L528.7,553.2 L526.7,552.7 L524.7,552.2 L522.7,551.7 L520.7,551.1 L518.8,550.6 L516.8,550.0 L514.8,549.4 L512.8,548.8 L510.8,548.2 L508.8,547.7 L506.8,547.0 L504.9,546.4 L502.9,545.8 L500.9,545.2 L498.9,544.6 L496.9,544.0 L494.9,543.4 L493.0,542.7 L491.0,542.1 L489.0,541.5 L487.0,540.9 L485.0,540.3 L483.1,539.7 L481.1,539.1 L479.1,538.6 L477.2,538.0 L475.2,537.4 L473.3,536.9 L471.3,536.3 L469.3,535.8 L467.4,535.3 L465.4,534.7 L463.5,534.2 L461.5,533.7 L459.6,533.2 L457.6,532.7 L455.7,532.2 L453.7,531.7 L451.8,531.3 L449.9,530.8 L447.9,530.3 L446.0,529.9 L444.0,529.4 L442.1,528.9 L440.1,528.5 L438.2,528.1 L436.2,527.6 L434.3,527.2 L432.3,526.8 L430.4,526.3 L428.4,525.9 L426.5,525.5 L424.5,525.1 L422.6,524.7 L420.6,524.3 L418.7,523.9 L416.7,523.5 L414.7,523.1 L412.8,522.7 L410.8,522.3 L408.8,521.9 L406.9,521.5 L404.9,521.1 L402.9,520.8 L401.0,520.4 L399.0,520.0 L397.0,519.7 L395.1,519.3 L393.1,519.0 L391.1,518.6 L389.1,518.3 L387.2,517.9 L385.2,517.6 L383.2,517.3 L381.2,516.9 L379.2,516.6 L377.3,516.3 L375.3,516.0 L373.3,515.7 L371.3,515.4 L369.3,515.1 L367.4,514.8 L365.4,514.5 L363.4,514.2 L361.4,513.9 L359.4,513.6 L357.4,513.4 L355.4,513.1 L353.4,512.8 L351.5,512.6 L349.5,512.3 L347.5,512.1 L345.5,511.8 L343.5,511.6 L341.5,511.4 L339.5,511.1 L337.5,510.9 L335.5,510.7 L333.5,510.5 L331.5,510.3 L329.5,510.1 L327.5,509.9 L325.5,509.7 L323.5,509.5 L321.5,509.3 L319.5,509.2 L317.5,509.0 L315.5,508.8 L313.5,508.7 L311.5,508.5 L309.6,508.4 L307.6,508.2 L305.6,508.1 L303.6,507.9 L301.6,507.8 L299.6,507.7 L297.6,507.6 L295.6,507.5 L293.6,507.4 L291.6,507.3 L289.6,507.2 L287.6,507.1 L285.6,507.0 L283.6,507.0 L281.6,506.9 L279.6,506.8 L277.6,506.8 L275.6,506.7 L273.6,506.7 L271.6,506.7 L269.6,506.6 L267.6,506.6 L265.6,506.6 L263.6,506.6 L261.6,506.6 L259.6,506.6 L257.6,506.6 L255.6,506.6 L253.6,506.6 L251.6,506.7 L249.6,506.7 L247.6,506.7 L245.6,506.8 L243.6,506.8 L241.6,506.9 L239.6,507.0 L237.6,507.0 L235.6,507.1 L233.6,507.2 L231.6,507.3 L229.6,507.4 L227.6,507.5 L225.6,507.6 L223.7,507.8 L221.7,507.9 L219.7,508.0 L217.7,508.2 L215.7,508.3 L213.7,508.5 L211.7,508.7 L209.7,508.8 L207.8,509.0 L205.8,509.2 L203.8,509.4 L201.8,509.6 L199.8,509.8 L197.8,510.0 L195.9,510.3 L193.9,510.5 L191.9,510.7 L189.9,511.0 L187.9,511.3 L186.0,511.5 L184.0,511.8" fill="none" stroke="#008000" stroke-width="4.9" stroke-linejoin="round" stroke-linecap="round"/>
<path d="M184.4,530.5 L185.2,528.6 L186.1,526.7 L187.1,525.0 L188.1,523.2 L189.2,521.6 L190.3,520.0 L191.6,518.4 L192.8,516.9 L194.2,515.5 L195.5,514.1 L196.9,512.7 L198.4,511.4 L199.9,510.2 L201.5,509.0 L203.1,507.8 L204.7,506.7 L206.4,505.6 L208.1,504.5 L209.8,503.5 L211.6,502.5 L213.3,501.6 L215.1,500.7 L217.0,499.8 L218.8,499.0 L220.7,498.1 L222.5,497.3 L224.4,496.6 L226.3,495.8 L228.2,495.1 L230.1,494.4 L232.0,493.7 L233.9,493.0 L235.8,492.3 L237.7,491.7 L239.6,491.1 L241.5,490.4 L243.4,489.9 L245.3,489.3 L247.2,488.7 L249.1,488.2 L251.0,487.7 L252.9,487.2 L254.9,486.7 L256.8,486.2 L258.7,485.8 L260.6,485.3 L262.6,484.9 L264.5,484.5 L266.4,484.2 L268.4,483.8 L270.3,483.4 L272.3,483.1 L274.2,482.7 L276.2,482.4 L278.2,482.1 L280.1,481.7 L282.1,481.4 L284.1,481.1 L286.0,480.8 L288.0,480.4 L290.0,480.1 L292.0,479.8 L293.9,479.5 L295.9,479.2 L297.9,478.9 L299.9,478.6 L301.9,478.3 L303.8,478.0 L305.8,477.7 L307.8,477.4 L309.8,477.1 L311.8,476.8 L313.8,476.5 L315.8,476.2 L317.8,475.9 L319.7,475.6 L321.7,475.3 L323.7,475.0 L325.7,474.7 L327.7,474.4 L329.7,474.1 L331.7,473.8 L333.7,473.5 L335.7,473.2 L337.6,472.9 L339.6,472.6 L341.6,472.3 L343.6,472.0 L345.6,471.7 L347.6,471.4 L349.6,471.1 L351.5,470.8 L353.5,470.5 L355.5,470.2 L357.5,469.9 L359.5,469.6 L361.5,469.3 L363.5,469.0 L365.4,468.6 L367.4,468.3 L369.4,468.0 L371.4,467.7 L373.4,467.4 L375.3,467.1 L377.3,466.7 L379.3,466.4 L381.3,466.1 L383.3,465.8 L385.3,465.5 L387.2,465.1 L389.2,464.8 L391.2,464.5 L393.2,464.1 L395.1,463.8 L397.1,463.5 L399.1,463.1 L401.1,462.8 L403.1,462.5 L405.0,462.1 L407.0,461.8 L409.0,461.4 L411.0,461.1 L412.9,460.7 L414.9,460.4 L416.9,460.0 L418.9,459.7 L420.8,459.3 L422.8,459.0 L424.8,458.6 L426.7,458.3 L428.7,457.9 L430.7,457.5 L432.6,457.2 L434.6,456.8 L436.6,456.4 L438.6,456.0 L440.5,455.7 L442.5,455.3 L444.5,454.9 L446.4,454.5 L448.4,454.1 L450.4,453.7 L452.3,453.3 L454.3,452.9 L456.2,452.5 L458.2,452.1 L460.2,451.7 L462.1,451.3 L464.1,450.9 L466.0,450.5 L468.0,450.1 L470.0,449.7 L471.9,449.3 L473.9,448.8 L475.8,448.4 L477.8,448.0 L479.7,447.6 L481.7,447.1 L483.7,446.7 L485.6,446.2 L487.6,445.8 L489.5,445.3 L491.5,444.9 L493.4,444.4 L495.4,444.0 L497.3,443.5 L499.3,443.1 L501.2,442.6 L503.2,442.1 L505.1,441.6 L507.0,441.2 L509.0,440.7 L510.9,440.2 L512.9,439.7 L514.8,439.2 L516.8,438.7 L518.7,438.2 L520.6,437.7 L522.6,437.2 L524.5,436.7 L526.5,436.2 L528.4,435.6 L530.3,435.1 L532.3,434.6 L534.2,434.1 L536.1,433.5 L538.1,433.0 L540.0,432.4 L541.9,431.9 L543.9,431.3 L545.8,430.8 L547.7,430.2 L549.6,429.6 L551.6,429.1 L553.5,428.5 L555.4,427.9 L557.3,427.3 L559.3,426.7 L561.2,426.2 L563.1,425.6 L565.0,425.0 L567.0,424.4 L568.9,423.7 L570.8,423.1 L572.7,422.5 L574.6,421.9 L576.5,421.2 L578.4,420.6 L580.3,420.0 L582.3,419.3 L584.2,418.7 L586.1,418.0 L588.0,417.3 L589.8,416.6 L591.7,415.9 L593.6,415.2 L595.5,414.5 L597.4,413.8 L599.2,413.1 L601.1,412.3 L603.0,411.5 L604.8,410.8 L606.7,410.0 L608.5,409.2 L610.3,408.4 L612.1,407.6 L614.0,406.7 L615.8,405.9 L617.6,405.0 L619.4,404.1 L621.1,403.2 L622.9,402.3 L624.7,401.4 L626.4,400.4 L628.2,399.5 L629.9,398.5 L631.7,397.5 L633.4,396.5 L635.1,395.5 L636.8,394.4 L638.5,393.3 L640.1,392.3 L641.8,391.2 L643.5,390.1 L645.1,388.9 L646.8,387.8 L648.4,386.7 L650.0,385.5 L651.6,384.3 L653.2,383.1 L654.8,381.9 L656.4,380.7 L658.0,379.5 L659.6,378.2 L661.1,377.0 L662.7,375.7 L664.2,374.4 L665.8,373.1 L667.3,371.8 L668.8,370.5 L670.3,369.2 L671.8,367.8 L673.3,366.5 L674.8,365.1 L676.3,363.8 L677.7,362.4 L679.2,361.0 L680.6,359.6 L682.1,358.2 L683.5,356.8 L684.9,355.4 L686.3,353.9 L687.7,352.5 L689.1,351.0 L690.5,349.6 L691.9,348.1 L693.3,346.7 L694.7,345.2 L696.0,343.7 L697.4,342.2 L698.7,340.7 L700.1,339.2 L701.4,337.8 L702.8,336.3 L704.1,334.8 L705.5,333.3 L706.8,331.8 L708.1,330.3 L709.5,328.8 L710.8,327.3 L712.2,325.8 L713.5,324.3 L714.9,322.9 L716.3,321.4 L717.6,319.9 L719.0,318.5 L720.4,317.1 L721.8,315.6 L723.2,314.2 L724.6,312.8 L726.0,311.4 L727.4,310.0 L728.8,308.6 L730.3,307.2 L731.7,305.9 L733.2,304.5 L734.7,303.2 L736.2,301.9 L737.7,300.6 L739.3,299.3 L740.8,298.1 L742.4,296.9 L744.0,295.6 L745.6,294.4 L747.2,293.3 L748.8,292.1 L750.5,291.0 L752.2,289.9 L753.9,288.8 L755.6,287.7 L757.3,286.7 L759.1,285.7 L760.8,284.7 L762.6,283.8 L764.4,282.9 L766.2,282.0 L768.1,281.1 L769.9,280.3 L771.7,279.5 L773.6,278.7 L775.4,278.0 L777.3,277.3 L779.2,276.6 L781.1,276.0 L783.0,275.3 L784.9,274.8 L786.8,274.2 L788.7,273.7 L790.7,273.2 L792.6,272.7 L794.5,272.3 L796.5,271.8 L798.5,271.4 L800.4,271.1 L802.4,270.7 L804.4,270.4 L806.3,270.0 L808.3,269.7 L810.3,269.5 L812.3,269.2 L814.3,269.0 L816.3,268.7 L818.3,268.5 L820.3,268.3 L822.3,268.1 L824.4,267.9 L826.4,267.8 L828.4,267.6 L830.4,267.5 L832.4,267.3 L834.5,267.2 L836.5,267.1 L838.5,267.0 L840.6,266.9 L842.6,266.8 L844.6,266.7 L846.7,266.6 L848.7,266.5 L850.7,266.4 L852.8,266.3 L854.8,266.2 L856.8,266.1 L858.8,266.0 L860.9,265.9 L862.9,265.8 L864.9,265.7 L866.9,265.6 L869.0,265.5 L871.0,265.3 L873.0,265.2 L875.0,265.1 L877.0,264.9 L879.0,264.8 L881.0,264.6 L883.0,264.4 L885.0,264.2 L887.0,264.0 L889.0,263.8 L890.9,263.5 L892.9,263.3 L894.9,263.0 L896.8,262.7 L898.8,262.4 L900.7,262.1 L902.7,261.8 L904.6,261.4 L906.5,261.0 L908.4,260.6 L910.3,260.2 L912.2,259.7 L914.1,259.2 L916.0,258.7 L917.9,258.2 L919.8,257.6 L921.6,257.0 L923.5,256.4 L925.3,255.7 L927.1,255.0 L928.9,254.3 L930.7,253.6 L932.5,252.8 L934.3,252.0 L936.1,251.1 L937.9,250.2 L939.6,249.3 L941.3,248.4 L943.1,247.4 L944.8,246.3 L946.5,245.2 L948.2,244.1 L949.8,243.0 L951.5,241.8 L953.2,240.5 L954.8,239.2 L956.4,237.9 L958.0,236.5 L957.9,238.5 L957.8,240.5 L957.7,242.5 L957.6,244.5 L957.4,246.5 L957.3,248.5 L957.1,250.5 L956.9,252.5 L956.7,254.5 L956.4,256.5 L956.2,258.5 L955.9,260.4 L955.7,262.4 L955.4,264.4 L955.1,266.4 L954.7,268.4 L954.4,270.4 L954.0,272.3 L953.7,274.3 L953.3,276.3 L952.9,278.2 L952.5,280.2 L952.0,282.2 L951.6,284.1 L951.1,286.1 L950.6,288.0 L950.1,290.0 L949.6,291.9 L949.1,293.9 L948.6,295.8 L948.0,297.8 L947.4,299.7 L946.9,301.6 L946.3,303.5 L945.6,305.4 L945.0,307.4 L944.4,309.3 L943.7,311.2 L943.0,313.1 L942.3,314.9 L941.6,316.8 L940.9,318.7 L940.2,320.6 L939.4,322.4 L938.7,324.3 L937.9,326.2 L937.1,328.0 L936.3,329.9 L935.5,331.7 L934.6,333.5 L933.8,335.3 L932.9,337.2 L932.0,339.0 L931.1,340.8 L930.2,342.6 L929.3,344.3 L928.4,346.1 L927.4,347.9 L926.5,349.6 L925.5,351.4 L924.5,353.1 L923.5,354.9 L922.5,356.6 L921.5,358.3 L920.4,360.0 L919.4,361.7 L918.3,363.4 L917.2,365.1 L916.1,366.8 L915.0,368.4 L913.9,370.1 L912.7,371.7 L911.6,373.4 L910.4,375.0 L909.3,376.6 L908.1,378.2 L906.9,379.8 L905.7,381.4 L904.4,383.0 L903.2,384.5 L901.9,386.1 L900.7,387.6 L899.4,389.1 L898.1,390.7 L896.8,392.2 L895.5,393.7 L894.2,395.1 L892.8,396.6 L891.5,398.1 L890.1,399.5 L888.7,400.9 L887.3,402.4 L885.9,403.8 L884.5,405.2 L883.1,406.5 L881.6,407.9 L880.2,409.3 L878.7,410.6 L877.3,411.9 L875.8,413.2 L874.3,414.5 L872.8,415.8 L871.2,417.1 L869.7,418.4 L868.2,419.6 L866.6,420.8 L865.0,422.0 L863.5,423.2 L861.9,424.4 L860.3,425.6 L858.7,426.8 L857.0,427.9 L855.4,429.0 L853.8,430.1 L852.1,431.2 L850.4,432.3 L848.7,433.4 L847.1,434.4 L845.3,435.4 L843.6,436.4 L841.9,437.4 L840.2,438.4 L838.4,439.4 L836.7,440.3 L834.9,441.2 L833.1,442.2 L831.3,443.1 L829.6,443.9 L827.7,444.8 L825.9,445.6 L824.1,446.5 L822.3,447.3 L820.4,448.1 L818.6,448.9 L816.7,449.7 L814.9,450.5 L813.0,451.3 L811.1,452.0 L809.3,452.8 L807.4,453.5 L805.5,454.3 L803.6,455.0 L801.7,455.7 L799.8,456.5 L797.9,457.2 L796.0,457.9 L794.1,458.6 L792.2,459.4 L790.3,460.1 L788.4,460.8 L786.5,461.5 L784.6,462.2 L782.7,463.0 L780.8,463.7 L778.9,464.4 L777.1,465.2 L775.2,465.9 L773.3,466.6 L771.4,467.4 L769.5,468.2 L767.6,468.9 L765.8,469.7 L763.9,470.5 L762.0,471.3 L760.2,472.1 L758.3,472.9 L756.5,473.8 L754.6,474.6 L752.8,475.5 L751.0,476.3 L749.2,477.2 L747.4,478.1 L745.6,479.0 L743.8,480.0 L742.0,480.9 L740.3,481.9 L738.5,482.8 L736.7,483.8 L735.0,484.8 L733.3,485.8 L731.5,486.8 L729.8,487.9 L728.1,488.9 L726.4,490.0 L724.7,491.0 L723.0,492.1 L721.4,493.2 L719.7,494.3 L718.1,495.4 L716.4,496.5 L714.8,497.7 L713.2,498.8 L711.5,500.0 L709.9,501.1 L708.4,502.3 L706.8,503.5 L705.2,504.7 L703.7,505.9 L702.1,507.1 L700.6,508.4 L699.0,509.6 L697.5,510.8 L696.0,512.1 L694.5,513.4 L693.0,514.6 L691.5,515.9 L690.0,517.2 L688.5,518.5 L687.0,519.8 L685.6,521.1 L684.1,522.4 L682.6,523.7 L681.2,525.0 L679.7,526.4 L678.2,527.7 L676.8,529.0 L675.3,530.4 L673.8,531.7 L672.3,533.0 L670.9,534.4 L669.4,535.7 L667.9,537.0 L666.4,538.4 L664.9,539.7 L663.5,541.0 L662.0,542.4 L660.4,543.7 L658.9,545.0 L657.4,546.4 L655.9,547.7 L654.4,549.0 L652.8,550.3 L651.3,551.6 L649.7,553.0 L648.1,554.3 L646.5,555.6 L644.9,556.8 L643.3,558.1 L641.7,559.4 L640.1,560.7 L638.4,561.9 L636.8,563.1 L635.1,564.4 L633.4,565.6 L631.8,566.7 L630.1,567.9 L628.4,569.1 L626.7,570.2 L625.0,571.3 L623.2,572.4 L621.5,573.4 L619.8,574.5 L618.0,575.5 L616.3,576.4 L614.5,577.4 L612.7,578.3 L611.0,579.2 L609.2,580.0 L607.4,580.9 L605.6,581.6 L603.8,582.4 L602.0,583.1 L600.1,583.8 L598.3,584.4 L596.5,585.0 L594.6,585.5 L592.8,586.0 L590.9,586.5 L589.1,586.9 L587.2,587.2 L585.4,587.6 L583.5,587.8 L581.6,588.1 L579.7,588.2 L577.8,588.4 L575.9,588.5 L574.0,588.5 L572.1,588.6 L570.2,588.5 L568.3,588.5 L566.4,588.4 L564.5,588.3 L562.6,588.1 L560.6,587.9 L558.7,587.7 L556.8,587.4 L554.8,587.1 L552.9,586.8 L551.0,586.5 L549.0,586.1 L547.1,585.7 L545.1,585.3 L543.2,584.8 L541.2,584.3 L539.3,583.8 L537.3,583.3 L535.4,582.8 L533.4,582.2 L531.4,581.6 L529.5,581.0 L527.5,580.4 L525.6,579.7 L523.6,579.1 L521.6,578.4 L519.7,577.7 L517.7,577.0 L515.7,576.3 L513.8,575.6 L511.8,574.9 L509.9,574.1 L507.9,573.4 L505.9,572.6 L504.0,571.9 L502.0,571.1 L500.1,570.3 L498.1,569.6 L496.2,568.8 L494.2,568.0 L492.3,567.2 L490.3,566.4 L488.4,565.7 L486.4,564.9 L484.5,564.1 L482.5,563.3 L480.6,562.6 L478.7,561.8 L476.7,561.1 L474.8,560.3 L472.9,559.6 L471.0,558.9 L469.1,558.1 L467.1,557.4 L465.2,556.7 L463.3,556.1 L461.4,555.4 L459.5,554.7 L457.6,554.1 L455.7,553.4 L453.9,552.8 L452.0,552.2 L450.1,551.6 L448.2,551.0 L446.3,550.4 L444.4,549.8 L442.6,549.2 L440.7,548.6 L438.8,548.1 L436.9,547.5 L435.1,547.0 L433.2,546.4 L431.3,545.9 L429.4,545.4 L427.5,544.9 L425.7,544.4 L423.8,543.9 L421.9,543.4 L420.0,542.9 L418.2,542.4 L416.3,541.9 L414.4,541.4 L412.5,540.9 L410.6,540.5 L408.7,540.0 L406.8,539.6 L404.9,539.1 L403.0,538.7 L401.1,538.2 L399.2,537.8 L397.3,537.3 L395.4,536.9 L393.5,536.5 L391.6,536.0 L389.6,535.6 L387.7,535.2 L385.8,534.8 L383.8,534.4 L381.9,533.9 L380.0,533.5 L378.0,533.1 L376.1,532.7 L374.1,532.3 L372.2,531.9 L370.2,531.6 L368.2,531.2 L366.3,530.8 L364.3,530.4 L362.3,530.0 L360.4,529.7 L358.4,529.3 L356.4,529.0 L354.4,528.6 L352.4,528.3 L350.5,527.9 L348.5,527.6 L346.5,527.3 L344.5,526.9 L342.5,526.6 L340.5,526.3 L338.5,526.0 L336.5,525.7 L334.5,525.4 L332.5,525.1 L330.5,524.8 L328.5,524.6 L326.5,524.3 L324.5,524.0 L322.5,523.8 L320.5,523.5 L318.5,523.3 L316.5,523.1 L314.4,522.9 L312.4,522.6 L310.4,522.4 L308.4,522.2 L306.4,522.0 L304.4,521.8 L302.4,521.7 L300.3,521.5 L298.3,521.3 L296.3,521.2 L294.3,521.0 L292.3,520.9 L290.3,520.8 L288.3,520.6 L286.2,520.5 L284.2,520.4 L282.2,520.3 L280.2,520.2 L278.2,520.2 L276.2,520.1 L274.2,520.0 L272.1,520.0 L270.1,519.9 L268.1,519.9 L266.1,519.9 L264.1,519.9 L262.1,519.9 L260.1,519.9 L258.1,519.9 L256.1,519.9 L254.1,519.9 L252.1,520.0 L250.1,520.0 L248.1,520.1 L246.1,520.1 L244.1,520.2 L242.1,520.3 L240.1,520.4 L238.1,520.5 L236.1,520.6 L234.1,520.7 L232.2,520.8 L230.2,521.0 L228.2,521.1 L226.2,521.3 L224.3,521.5 L222.3,521.6 L220.3,521.8 L218.3,522.0 L216.4,522.2 L214.4,522.5 L212.5,522.7 L210.5,523.0 L208.6,523.2 L206.6,523.6 L204.7,523.9 L202.8,524.3 L200.9,524.7 L199.0,525.1 L197.1,525.6 L195.3,526.2 L193.4,526.8 L191.6,527.4 L189.8,528.1 L187.9,528.8 L186.2,529.6 L184.4,530.5" fill="none" stroke="#000080" stroke-width="4.9" stroke-linejoin="round" stroke-linecap="round"/>
<path d="M184.2,546.8 L185.0,544.9 L185.8,543.0 L186.6,541.2 L187.5,539.4 L188.5,537.6 L189.5,535.9 L190.6,534.2 L191.7,532.5 L192.8,530.8 L194.0,529.2 L195.2,527.6 L196.5,526.1 L197.8,524.6 L199.1,523.1 L200.5,521.7 L201.9,520.2 L203.3,518.9 L204.8,517.5 L206.3,516.2 L207.8,514.9 L209.4,513.7 L211.0,512.5 L212.6,511.4 L214.2,510.2 L215.9,509.1 L217.5,508.1 L219.2,507.1 L221.0,506.1 L222.7,505.2 L224.5,504.2 L226.2,503.4 L228.0,502.5 L229.8,501.7 L231.7,500.9 L233.5,500.2 L235.4,499.4 L237.2,498.7 L239.1,498.1 L241.0,497.4 L242.9,496.8 L244.8,496.2 L246.7,495.6 L248.6,495.1 L250.5,494.5 L252.5,494.0 L254.4,493.5 L256.3,493.0 L258.3,492.6 L260.2,492.1 L262.2,491.7 L264.2,491.3 L266.1,490.9 L268.1,490.4 L270.0,490.0 L272.0,489.6 L274.0,489.2 L275.9,488.9 L277.9,488.5 L279.9,488.1 L281.8,487.7 L283.8,487.3 L285.8,486.9 L287.7,486.5 L289.7,486.1 L291.7,485.7 L293.6,485.4 L295.6,485.0 L297.6,484.6 L299.6,484.2 L301.5,483.8 L303.5,483.5 L305.5,483.1 L307.4,482.7 L309.4,482.3 L311.4,482.0 L313.4,481.6 L315.3,481.2 L317.3,480.8 L319.3,480.5 L321.2,480.1 L323.2,479.7 L325.2,479.3 L327.2,479.0 L329.1,478.6 L331.1,478.2 L333.1,477.9 L335.1,477.5 L337.0,477.1 L339.0,476.8 L341.0,476.4 L342.9,476.0 L344.9,475.6 L346.9,475.3 L348.9,474.9 L350.8,474.5 L352.8,474.2 L354.8,473.8 L356.8,473.4 L358.7,473.0 L360.7,472.7 L362.7,472.3 L364.6,471.9 L366.6,471.5 L368.6,471.2 L370.6,470.8 L372.5,470.4 L374.5,470.0 L376.5,469.6 L378.4,469.3 L380.4,468.9 L382.4,468.5 L384.3,468.1 L386.3,467.7 L388.3,467.3 L390.3,467.0 L392.2,466.6 L394.2,466.2 L396.2,465.8 L398.1,465.4 L400.1,465.0 L402.1,464.6 L404.0,464.2 L406.0,463.8 L408.0,463.4 L409.9,463.0 L411.9,462.6 L413.9,462.2 L415.8,461.8 L417.8,461.4 L419.7,460.9 L421.7,460.5 L423.7,460.1 L425.6,459.7 L427.6,459.3 L429.5,458.8 L431.5,458.4 L433.5,458.0 L435.4,457.6 L437.4,457.1 L439.3,456.7 L441.3,456.2 L443.3,455.8 L445.2,455.4 L447.2,454.9 L449.1,454.5 L451.1,454.0 L453.0,453.6 L455.0,453.1 L456.9,452.6 L458.9,452.2 L460.8,451.7 L462.8,451.2 L464.7,450.8 L466.7,450.3 L468.6,449.8 L470.6,449.3 L472.5,448.8 L474.5,448.3 L476.4,447.8 L478.3,447.3 L480.3,446.8 L482.2,446.3 L484.2,445.8 L486.1,445.3 L488.0,444.8 L490.0,444.3 L491.9,443.7 L493.8,443.2 L495.8,442.7 L497.7,442.2 L499.6,441.6 L501.6,441.1 L503.5,440.5 L505.4,440.0 L507.4,439.4 L509.3,438.8 L511.2,438.3 L513.1,437.7 L515.1,437.1 L517.0,436.6 L518.9,436.0 L520.8,435.4 L522.7,434.8 L524.7,434.2 L526.6,433.6 L528.5,433.0 L530.4,432.4 L532.3,431.7 L534.2,431.1 L536.1,430.5 L538.0,429.9 L540.0,429.2 L541.9,428.6 L543.8,427.9 L545.7,427.3 L547.6,426.6 L549.5,426.0 L551.4,425.3 L553.3,424.6 L555.2,423.9 L557.1,423.2 L559.0,422.5 L560.8,421.8 L562.7,421.1 L564.6,420.4 L566.5,419.7 L568.4,418.9 L570.2,418.2 L572.1,417.4 L574.0,416.7 L575.8,415.9 L577.7,415.1 L579.5,414.4 L581.4,413.6 L583.2,412.8 L585.1,411.9 L586.9,411.1 L588.7,410.3 L590.6,409.4 L592.4,408.6 L594.2,407.7 L596.0,406.8 L597.8,405.9 L599.6,405.0 L601.4,404.1 L603.1,403.2 L604.9,402.2 L606.7,401.3 L608.4,400.3 L610.2,399.3 L611.9,398.4 L613.7,397.3 L615.4,396.3 L617.1,395.3 L618.8,394.3 L620.5,393.2 L622.2,392.1 L623.9,391.0 L625.6,389.9 L627.3,388.8 L628.9,387.7 L630.6,386.6 L632.2,385.4 L633.9,384.3 L635.5,383.1 L637.1,381.9 L638.7,380.7 L640.3,379.5 L641.9,378.3 L643.5,377.0 L645.0,375.8 L646.6,374.5 L648.1,373.3 L649.7,372.0 L651.2,370.7 L652.7,369.4 L654.2,368.0 L655.7,366.7 L657.2,365.4 L658.7,364.0 L660.1,362.6 L661.6,361.2 L663.0,359.8 L664.4,358.4 L665.8,357.0 L667.2,355.6 L668.6,354.1 L670.0,352.7 L671.4,351.2 L672.7,349.7 L674.1,348.2 L675.4,346.7 L676.7,345.2 L678.0,343.7 L679.3,342.2 L680.6,340.6 L681.8,339.1 L683.1,337.5 L684.3,335.9 L685.5,334.3 L686.7,332.7 L687.9,331.1 L689.1,329.5 L690.3,327.9 L691.5,326.3 L692.7,324.6 L693.9,323.0 L695.0,321.3 L696.2,319.7 L697.4,318.1 L698.5,316.4 L699.7,314.8 L700.8,313.1 L702.0,311.4 L703.1,309.8 L704.3,308.1 L705.5,306.5 L706.6,304.9 L707.8,303.2 L709.0,301.6 L710.2,299.9 L711.3,298.3 L712.5,296.7 L713.8,295.1 L715.0,293.5 L716.2,291.9 L717.4,290.3 L718.7,288.7 L719.9,287.1 L721.2,285.5 L722.5,284.0 L723.8,282.5 L725.1,280.9 L726.4,279.4 L727.8,277.9 L729.2,276.4 L730.6,275.0 L732.0,273.5 L733.4,272.1 L734.8,270.7 L736.3,269.3 L737.8,267.9 L739.2,266.5 L740.8,265.2 L742.3,263.8 L743.8,262.5 L745.4,261.3 L747.0,260.0 L748.5,258.8 L750.1,257.6 L751.8,256.4 L753.4,255.2 L755.1,254.1 L756.7,253.0 L758.4,251.9 L760.1,250.9 L761.8,249.9 L763.5,248.9 L765.3,247.9 L767.0,247.0 L768.8,246.1 L770.6,245.2 L772.3,244.4 L774.2,243.6 L776.0,242.8 L777.8,242.1 L779.6,241.4 L781.5,240.7 L783.4,240.1 L785.2,239.5 L787.1,238.9 L789.0,238.4 L790.9,237.9 L792.9,237.4 L794.8,236.9 L796.7,236.5 L798.7,236.0 L800.6,235.6 L802.6,235.3 L804.5,234.9 L806.5,234.6 L808.5,234.3 L810.5,233.9 L812.5,233.7 L814.5,233.4 L816.5,233.1 L818.5,232.9 L820.5,232.7 L822.5,232.5 L824.5,232.3 L826.6,232.1 L828.6,231.9 L830.6,231.7 L832.6,231.5 L834.7,231.4 L836.7,231.2 L838.8,231.0 L840.8,230.9 L842.8,230.7 L844.9,230.6 L846.9,230.5 L848.9,230.3 L851.0,230.2 L853.0,230.0 L855.0,229.9 L857.1,229.7 L859.1,229.5 L861.1,229.4 L863.1,229.2 L865.1,229.0 L867.2,228.8 L869.2,228.6 L871.2,228.4 L873.2,228.2 L875.2,228.0 L877.2,227.8 L879.2,227.5 L881.2,227.3 L883.2,227.0 L885.2,226.7 L887.2,226.4 L889.1,226.1 L891.1,225.8 L893.1,225.5 L895.1,225.1 L897.0,224.7 L899.0,224.3 L900.9,223.9 L902.9,223.5 L904.8,223.1 L906.8,222.6 L908.7,222.1 L910.6,221.6 L912.5,221.0 L914.5,220.5 L916.3,219.9 L918.2,219.3 L920.1,218.6 L922.0,217.9 L923.8,217.2 L925.7,216.5 L927.5,215.7 L929.3,214.9 L931.1,214.1 L932.8,213.3 L934.6,212.3 L936.3,211.4 L938.1,210.4 L939.8,209.4 L941.4,208.4 L943.1,207.3 L944.7,206.2 L946.4,205.0 L948.0,203.8 L949.5,202.5 L951.1,201.2 L952.6,199.9 L954.1,198.5 L955.5,197.0 L957.0,195.5 L958.4,194.0 L958.2,195.9 L958.0,197.8 L957.8,199.8 L957.5,201.7 L957.3,203.6 L957.1,205.5 L956.9,207.5 L956.6,209.4 L956.4,211.4 L956.1,213.3 L955.9,215.3 L955.6,217.3 L955.4,219.2 L955.1,221.2 L954.8,223.2 L954.6,225.1 L954.3,227.1 L954.0,229.1 L953.7,231.1 L953.4,233.1 L953.1,235.1 L952.8,237.0 L952.4,239.0 L952.1,241.0 L951.8,243.0 L951.4,245.0 L951.1,247.0 L950.7,249.0 L950.4,251.0 L950.0,253.0 L949.6,255.0 L949.2,257.0 L948.8,259.0 L948.4,261.0 L948.0,263.0 L947.6,265.0 L947.2,267.0 L946.8,269.0 L946.3,270.9 L945.9,272.9 L945.4,274.9 L944.9,276.9 L944.5,278.9 L944.0,280.9 L943.5,282.9 L943.0,284.8 L942.4,286.8 L941.9,288.8 L941.4,290.7 L940.8,292.7 L940.3,294.7 L939.7,296.6 L939.1,298.6 L938.5,300.5 L937.9,302.5 L937.3,304.4 L936.7,306.3 L936.1,308.3 L935.4,310.2 L934.8,312.1 L934.1,314.0 L933.4,315.9 L932.7,317.8 L932.0,319.7 L931.3,321.6 L930.6,323.5 L929.9,325.4 L929.1,327.2 L928.3,329.1 L927.6,330.9 L926.8,332.8 L926.0,334.6 L925.1,336.5 L924.3,338.3 L923.5,340.1 L922.6,341.9 L921.7,343.7 L920.9,345.5 L920.0,347.3 L919.0,349.0 L918.1,350.8 L917.2,352.6 L916.2,354.3 L915.2,356.0 L914.3,357.8 L913.3,359.5 L912.2,361.2 L911.2,362.9 L910.2,364.5 L909.1,366.2 L908.0,367.9 L906.9,369.5 L905.8,371.2 L904.7,372.8 L903.5,374.4 L902.4,376.0 L901.2,377.6 L900.0,379.2 L898.8,380.7 L897.6,382.3 L896.4,383.8 L895.1,385.4 L893.9,386.9 L892.6,388.4 L891.3,389.9 L890.0,391.4 L888.7,392.8 L887.3,394.3 L886.0,395.8 L884.6,397.2 L883.3,398.6 L881.9,400.1 L880.5,401.5 L879.1,402.9 L877.7,404.2 L876.2,405.6 L874.8,407.0 L873.3,408.3 L871.9,409.7 L870.4,411.0 L868.9,412.3 L867.4,413.7 L865.9,415.0 L864.4,416.2 L862.8,417.5 L861.3,418.8 L859.7,420.1 L858.2,421.3 L856.6,422.5 L855.0,423.8 L853.4,425.0 L851.8,426.2 L850.2,427.4 L848.6,428.6 L847.0,429.8 L845.3,430.9 L843.7,432.1 L842.0,433.2 L840.4,434.4 L838.7,435.5 L837.0,436.6 L835.3,437.7 L833.6,438.8 L831.9,439.9 L830.2,441.0 L828.5,442.1 L826.8,443.1 L825.1,444.2 L823.3,445.2 L821.6,446.2 L819.8,447.3 L818.1,448.3 L816.3,449.3 L814.6,450.3 L812.8,451.2 L811.0,452.2 L809.2,453.2 L807.4,454.1 L805.7,455.1 L803.9,456.0 L802.1,457.0 L800.3,457.9 L798.5,458.8 L796.7,459.7 L794.9,460.7 L793.1,461.6 L791.2,462.5 L789.4,463.4 L787.6,464.3 L785.8,465.2 L784.0,466.1 L782.2,466.9 L780.4,467.8 L778.6,468.7 L776.8,469.6 L774.9,470.5 L773.1,471.4 L771.3,472.3 L769.5,473.2 L767.7,474.1 L765.9,475.0 L764.1,475.9 L762.3,476.8 L760.5,477.7 L758.8,478.6 L757.0,479.5 L755.2,480.4 L753.4,481.3 L751.7,482.3 L749.9,483.2 L748.2,484.2 L746.4,485.1 L744.7,486.1 L742.9,487.0 L741.2,488.0 L739.5,489.0 L737.8,490.0 L736.1,491.0 L734.4,492.0 L732.7,493.0 L731.0,494.1 L729.3,495.1 L727.7,496.2 L726.0,497.3 L724.4,498.3 L722.8,499.4 L721.1,500.6 L719.5,501.7 L717.9,502.8 L716.4,504.0 L714.8,505.2 L713.2,506.4 L711.7,507.6 L710.2,508.8 L708.6,510.0 L707.1,511.3 L705.6,512.6 L704.2,513.9 L702.7,515.2 L701.3,516.5 L699.8,517.9 L698.4,519.2 L697.0,520.6 L695.6,522.0 L694.2,523.4 L692.8,524.8 L691.4,526.3 L690.0,527.7 L688.7,529.2 L687.3,530.7 L686.0,532.2 L684.6,533.6 L683.3,535.1 L682.0,536.7 L680.6,538.2 L679.3,539.7 L678.0,541.2 L676.7,542.8 L675.3,544.3 L674.0,545.9 L672.7,547.4 L671.4,549.0 L670.1,550.6 L668.8,552.1 L667.4,553.7 L666.1,555.3 L664.8,556.8 L663.5,558.4 L662.1,560.0 L660.8,561.5 L659.4,563.1 L658.1,564.7 L656.7,566.2 L655.4,567.8 L654.0,569.3 L652.6,570.9 L651.2,572.4 L649.8,574.0 L648.4,575.5 L647.0,577.0 L645.6,578.5 L644.2,580.0 L642.8,581.4 L641.3,582.9 L639.9,584.3 L638.4,585.7 L636.9,587.1 L635.4,588.5 L633.9,589.9 L632.4,591.2 L630.9,592.5 L629.4,593.8 L627.8,595.0 L626.3,596.3 L624.7,597.5 L623.1,598.6 L621.6,599.8 L619.9,600.9 L618.3,601.9 L616.7,603.0 L615.0,604.0 L613.4,604.9 L611.7,605.8 L610.0,606.7 L608.3,607.6 L606.6,608.4 L604.9,609.1 L603.1,609.8 L601.4,610.5 L599.6,611.2 L597.8,611.7 L596.0,612.3 L594.2,612.8 L592.4,613.3 L590.5,613.7 L588.7,614.1 L586.8,614.5 L585.0,614.8 L583.1,615.0 L581.2,615.3 L579.4,615.5 L577.5,615.6 L575.6,615.7 L573.7,615.8 L571.8,615.9 L569.9,615.9 L568.0,615.8 L566.1,615.7 L564.1,615.6 L562.2,615.5 L560.3,615.3 L558.4,615.1 L556.5,614.8 L554.5,614.5 L552.6,614.2 L550.7,613.8 L548.8,613.4 L546.9,612.9 L544.9,612.5 L543.0,612.0 L541.1,611.4 L539.2,610.9 L537.3,610.3 L535.4,609.6 L533.5,609.0 L531.6,608.3 L529.6,607.6 L527.7,606.9 L525.8,606.2 L523.9,605.4 L522.0,604.7 L520.1,603.9 L518.2,603.1 L516.3,602.3 L514.4,601.4 L512.5,600.6 L510.6,599.8 L508.7,598.9 L506.8,598.1 L504.9,597.2 L503.0,596.3 L501.1,595.5 L499.3,594.6 L497.4,593.7 L495.5,592.9 L493.6,592.0 L491.7,591.1 L489.8,590.3 L487.9,589.4 L486.0,588.6 L484.1,587.8 L482.2,586.9 L480.4,586.1 L478.5,585.3 L476.6,584.5 L474.7,583.7 L472.8,582.9 L470.9,582.1 L469.0,581.4 L467.2,580.6 L465.3,579.8 L463.4,579.1 L461.5,578.3 L459.6,577.6 L457.7,576.9 L455.9,576.1 L454.0,575.4 L452.1,574.7 L450.2,574.0 L448.3,573.3 L446.4,572.6 L444.5,571.9 L442.7,571.3 L440.8,570.6 L438.9,569.9 L437.0,569.3 L435.1,568.6 L433.2,568.0 L431.3,567.3 L429.5,566.7 L427.6,566.1 L425.7,565.4 L423.8,564.8 L421.9,564.2 L420.0,563.6 L418.1,563.0 L416.2,562.4 L414.3,561.8 L412.4,561.3 L410.5,560.7 L408.6,560.1 L406.7,559.6 L404.8,559.0 L402.9,558.5 L401.0,557.9 L399.1,557.4 L397.2,556.8 L395.3,556.3 L393.4,555.8 L391.5,555.3 L389.6,554.8 L387.7,554.3 L385.8,553.8 L383.8,553.3 L381.9,552.8 L380.0,552.3 L378.1,551.9 L376.2,551.4 L374.2,550.9 L372.3,550.5 L370.4,550.0 L368.5,549.6 L366.5,549.1 L364.6,548.7 L362.7,548.3 L360.7,547.8 L358.8,547.4 L356.9,547.0 L354.9,546.6 L353.0,546.2 L351.0,545.8 L349.1,545.4 L347.1,545.0 L345.2,544.6 L343.2,544.2 L341.3,543.9 L339.3,543.5 L337.3,543.1 L335.4,542.8 L333.4,542.4 L331.4,542.1 L329.5,541.7 L327.5,541.4 L325.5,541.0 L323.5,540.7 L321.5,540.4 L319.5,540.1 L317.6,539.7 L315.6,539.4 L313.6,539.1 L311.6,538.8 L309.6,538.5 L307.6,538.2 L305.6,537.9 L303.5,537.6 L301.5,537.3 L299.5,537.1 L297.5,536.8 L295.5,536.5 L293.4,536.3 L291.4,536.0 L289.4,535.7 L287.4,535.5 L285.3,535.3 L283.3,535.0 L281.2,534.8 L279.2,534.6 L277.2,534.4 L275.1,534.2 L273.1,534.0 L271.1,533.9 L269.0,533.7 L267.0,533.6 L265.0,533.4 L262.9,533.3 L260.9,533.2 L258.9,533.1 L256.8,533.1 L254.8,533.0 L252.8,533.0 L250.8,532.9 L248.8,532.9 L246.8,532.9 L244.7,533.0 L242.7,533.0 L240.7,533.1 L238.8,533.2 L236.8,533.3 L234.8,533.4 L232.8,533.6 L230.8,533.7 L228.9,533.9 L226.9,534.1 L225.0,534.4 L223.0,534.7 L221.1,534.9 L219.1,535.3 L217.2,535.6 L215.3,536.0 L213.4,536.4 L211.5,536.8 L209.6,537.2 L207.7,537.7 L205.8,538.2 L204.0,538.8 L202.1,539.3 L200.3,539.9 L198.5,540.6 L196.6,541.2 L194.8,541.9 L193.0,542.6 L191.2,543.4 L189.5,544.2 L187.7,545.0 L185.9,545.9 L184.2,546.8" fill="none" stroke="#8000ff" stroke-width="4.9" stroke-linejoin="round" stroke-linecap="round"/>
<path d="M184.2,562.5 L184.8,560.6 L185.4,558.7 L186.1,556.8 L186.8,555.0 L187.6,553.1 L188.5,551.3 L189.4,549.5 L190.3,547.7 L191.3,546.0 L192.3,544.3 L193.3,542.6 L194.5,540.9 L195.6,539.2 L196.8,537.6 L198.0,536.0 L199.2,534.4 L200.5,532.9 L201.9,531.4 L203.2,529.9 L204.6,528.4 L206.0,527.0 L207.5,525.6 L208.9,524.3 L210.4,522.9 L212.0,521.7 L213.5,520.4 L215.1,519.2 L216.7,518.0 L218.3,516.9 L220.0,515.8 L221.6,514.7 L223.3,513.7 L225.0,512.7 L226.8,511.7 L228.5,510.8 L230.3,509.9 L232.1,509.0 L233.9,508.2 L235.7,507.4 L237.5,506.6 L239.3,505.9 L241.2,505.2 L243.1,504.5 L244.9,503.8 L246.8,503.2 L248.7,502.6 L250.6,502.0 L252.5,501.4 L254.5,500.8 L256.4,500.3 L258.3,499.7 L260.2,499.2 L262.2,498.7 L264.1,498.2 L266.1,497.7 L268.0,497.2 L270.0,496.7 L271.9,496.2 L273.9,495.8 L275.8,495.3 L277.8,494.8 L279.7,494.4 L281.7,493.9 L283.6,493.5 L285.6,493.1 L287.6,492.6 L289.5,492.2 L291.5,491.8 L293.4,491.3 L295.4,490.9 L297.4,490.5 L299.3,490.1 L301.3,489.6 L303.2,489.2 L305.2,488.8 L307.2,488.4 L309.1,487.9 L311.1,487.5 L313.1,487.1 L315.0,486.7 L317.0,486.3 L318.9,485.8 L320.9,485.4 L322.9,485.0 L324.8,484.6 L326.8,484.1 L328.8,483.7 L330.7,483.3 L332.7,482.9 L334.6,482.4 L336.6,482.0 L338.6,481.6 L340.5,481.2 L342.5,480.7 L344.4,480.3 L346.4,479.9 L348.4,479.5 L350.3,479.0 L352.3,478.6 L354.2,478.2 L356.2,477.7 L358.2,477.3 L360.1,476.9 L362.1,476.4 L364.0,476.0 L366.0,475.6 L367.9,475.1 L369.9,474.7 L371.9,474.2 L373.8,473.8 L375.8,473.3 L377.7,472.9 L379.7,472.4 L381.6,472.0 L383.6,471.5 L385.5,471.1 L387.5,470.6 L389.4,470.2 L391.4,469.7 L393.3,469.3 L395.3,468.8 L397.2,468.3 L399.2,467.9 L401.1,467.4 L403.1,466.9 L405.0,466.5 L407.0,466.0 L408.9,465.5 L410.9,465.0 L412.8,464.6 L414.8,464.1 L416.7,463.6 L418.6,463.1 L420.6,462.6 L422.5,462.1 L424.5,461.6 L426.4,461.1 L428.3,460.6 L430.3,460.1 L432.2,459.6 L434.2,459.1 L436.1,458.6 L438.0,458.1 L440.0,457.6 L441.9,457.0 L443.8,456.5 L445.8,456.0 L447.7,455.5 L449.6,454.9 L451.6,454.4 L453.5,453.9 L455.4,453.3 L457.3,452.8 L459.3,452.2 L461.2,451.7 L463.1,451.1 L465.0,450.6 L466.9,450.0 L468.9,449.4 L470.8,448.8 L472.7,448.3 L474.6,447.7 L476.5,447.1 L478.5,446.5 L480.4,445.9 L482.3,445.4 L484.2,444.8 L486.1,444.2 L488.0,443.6 L489.9,443.0 L491.8,442.3 L493.7,441.7 L495.6,441.1 L497.5,440.5 L499.5,439.9 L501.4,439.3 L503.3,438.7 L505.2,438.0 L507.1,437.4 L509.0,436.8 L510.9,436.1 L512.8,435.5 L514.7,434.9 L516.6,434.2 L518.4,433.6 L520.3,433.0 L522.2,432.3 L524.1,431.7 L526.0,431.0 L527.9,430.4 L529.8,429.8 L531.7,429.1 L533.6,428.5 L535.5,427.8 L537.4,427.2 L539.3,426.5 L541.1,425.8 L543.0,425.2 L544.9,424.5 L546.8,423.8 L548.7,423.1 L550.6,422.5 L552.4,421.8 L554.3,421.1 L556.2,420.3 L558.1,419.6 L559.9,418.9 L561.8,418.1 L563.7,417.4 L565.5,416.6 L567.4,415.9 L569.3,415.1 L571.1,414.3 L573.0,413.5 L574.8,412.7 L576.7,411.9 L578.5,411.0 L580.3,410.2 L582.2,409.3 L584.0,408.5 L585.8,407.6 L587.6,406.7 L589.4,405.8 L591.2,404.9 L593.0,404.0 L594.8,403.0 L596.6,402.1 L598.4,401.1 L600.1,400.2 L601.9,399.2 L603.6,398.2 L605.4,397.2 L607.1,396.2 L608.8,395.1 L610.5,394.1 L612.3,393.0 L614.0,392.0 L615.6,390.9 L617.3,389.8 L619.0,388.6 L620.6,387.5 L622.3,386.4 L623.9,385.2 L625.5,384.1 L627.1,382.9 L628.7,381.7 L630.3,380.5 L631.9,379.2 L633.5,378.0 L635.0,376.7 L636.5,375.5 L638.1,374.2 L639.6,372.9 L641.1,371.5 L642.5,370.2 L644.0,368.9 L645.4,367.5 L646.9,366.1 L648.3,364.7 L649.7,363.3 L651.1,361.9 L652.4,360.4 L653.8,359.0 L655.1,357.5 L656.5,356.0 L657.8,354.5 L659.1,353.0 L660.4,351.5 L661.7,349.9 L662.9,348.4 L664.2,346.8 L665.4,345.2 L666.7,343.7 L667.9,342.1 L669.1,340.5 L670.3,338.9 L671.5,337.3 L672.7,335.7 L673.9,334.0 L675.1,332.4 L676.2,330.8 L677.4,329.1 L678.5,327.5 L679.7,325.8 L680.8,324.2 L682.0,322.5 L683.1,320.8 L684.2,319.2 L685.3,317.5 L686.4,315.8 L687.5,314.2 L688.7,312.5 L689.8,310.8 L690.9,309.1 L692.0,307.5 L693.0,305.8 L694.1,304.1 L695.2,302.5 L696.3,300.8 L697.4,299.1 L698.5,297.5 L699.6,295.8 L700.7,294.1 L701.8,292.4 L702.9,290.8 L704.0,289.1 L705.1,287.4 L706.2,285.7 L707.3,284.1 L708.4,282.4 L709.5,280.7 L710.6,279.0 L711.7,277.4 L712.8,275.7 L713.9,274.0 L715.1,272.3 L716.2,270.6 L717.4,269.0 L718.5,267.3 L719.7,265.6 L720.8,263.9 L722.0,262.2 L723.2,260.6 L724.4,258.9 L725.6,257.2 L726.8,255.6 L728.0,253.9 L729.2,252.3 L730.5,250.7 L731.7,249.1 L733.0,247.5 L734.3,245.9 L735.6,244.3 L736.9,242.8 L738.2,241.3 L739.5,239.7 L740.9,238.3 L742.3,236.8 L743.6,235.3 L745.0,233.9 L746.5,232.5 L747.9,231.1 L749.3,229.8 L750.8,228.5 L752.3,227.2 L753.8,225.9 L755.3,224.7 L756.9,223.5 L758.5,222.3 L760.1,221.2 L761.7,220.1 L763.3,219.0 L765.0,218.0 L766.6,217.0 L768.3,216.1 L770.1,215.2 L771.8,214.3 L773.6,213.4 L775.3,212.6 L777.1,211.8 L778.9,211.1 L780.8,210.3 L782.6,209.6 L784.5,209.0 L786.3,208.3 L788.2,207.7 L790.1,207.1 L792.0,206.5 L794.0,206.0 L795.9,205.5 L797.8,205.0 L799.8,204.5 L801.7,204.0 L803.7,203.6 L805.7,203.1 L807.7,202.7 L809.7,202.3 L811.7,201.9 L813.7,201.6 L815.7,201.2 L817.7,200.9 L819.7,200.5 L821.7,200.2 L823.7,199.9 L825.7,199.6 L827.7,199.3 L829.8,199.0 L831.8,198.8 L833.8,198.5 L835.8,198.2 L837.8,198.0 L839.8,197.7 L841.8,197.4 L843.8,197.2 L845.8,196.9 L847.8,196.7 L849.8,196.4 L851.8,196.2 L853.8,195.9 L855.8,195.7 L857.8,195.4 L859.8,195.2 L861.8,194.9 L863.8,194.6 L865.8,194.4 L867.8,194.1 L869.7,193.8 L871.7,193.5 L873.7,193.2 L875.7,192.9 L877.6,192.6 L879.6,192.2 L881.6,191.9 L883.5,191.5 L885.5,191.2 L887.5,190.8 L889.4,190.4 L891.4,190.0 L893.3,189.6 L895.3,189.1 L897.2,188.7 L899.2,188.2 L901.1,187.7 L903.0,187.2 L905.0,186.7 L906.9,186.1 L908.8,185.5 L910.7,184.9 L912.6,184.3 L914.5,183.7 L916.4,183.0 L918.3,182.3 L920.1,181.6 L922.0,180.8 L923.8,180.1 L925.6,179.3 L927.4,178.4 L929.2,177.5 L931.0,176.6 L932.7,175.7 L934.4,174.7 L936.1,173.7 L937.8,172.7 L939.5,171.6 L941.1,170.4 L942.7,169.3 L944.3,168.1 L945.9,166.8 L947.4,165.5 L948.9,164.2 L950.3,162.8 L951.8,161.4 L953.2,159.9 L954.5,158.4 L955.8,156.8 L957.1,155.2 L958.4,153.5 L958.3,155.5 L958.2,157.6 L958.2,159.6 L958.1,161.6 L957.9,163.6 L957.8,165.6 L957.7,167.6 L957.6,169.6 L957.4,171.6 L957.3,173.6 L957.1,175.6 L956.9,177.6 L956.7,179.6 L956.5,181.6 L956.3,183.6 L956.1,185.6 L955.9,187.6 L955.7,189.5 L955.4,191.5 L955.2,193.5 L954.9,195.4 L954.7,197.4 L954.4,199.4 L954.1,201.3 L953.8,203.3 L953.5,205.3 L953.2,207.2 L952.9,209.2 L952.6,211.1 L952.2,213.1 L951.9,215.0 L951.6,217.0 L951.2,218.9 L950.8,220.9 L950.5,222.8 L950.1,224.8 L949.7,226.7 L949.3,228.6 L948.9,230.6 L948.5,232.5 L948.1,234.5 L947.7,236.4 L947.2,238.3 L946.8,240.3 L946.3,242.2 L945.9,244.1 L945.4,246.1 L945.0,248.0 L944.5,249.9 L944.0,251.8 L943.5,253.8 L943.0,255.7 L942.5,257.6 L942.0,259.5 L941.5,261.5 L941.0,263.4 L940.5,265.3 L939.9,267.3 L939.4,269.2 L938.9,271.1 L938.3,273.0 L937.7,275.0 L937.2,276.9 L936.6,278.8 L936.0,280.7 L935.5,282.7 L934.9,284.6 L934.3,286.5 L933.7,288.4 L933.1,290.4 L932.5,292.3 L931.8,294.2 L931.2,296.2 L930.6,298.1 L930.0,300.0 L929.3,302.0 L928.7,303.9 L928.0,305.8 L927.4,307.8 L926.7,309.7 L926.1,311.6 L925.4,313.6 L924.7,315.5 L924.0,317.5 L923.4,319.4 L922.7,321.3 L922.0,323.3 L921.2,325.2 L920.5,327.1 L919.8,329.1 L919.1,331.0 L918.3,332.9 L917.6,334.8 L916.8,336.7 L916.0,338.6 L915.2,340.5 L914.4,342.4 L913.6,344.3 L912.8,346.1 L912.0,348.0 L911.1,349.8 L910.2,351.7 L909.4,353.5 L908.5,355.3 L907.6,357.1 L906.6,358.9 L905.7,360.7 L904.7,362.5 L903.8,364.2 L902.8,366.0 L901.8,367.7 L900.7,369.4 L899.7,371.1 L898.6,372.8 L897.5,374.5 L896.4,376.1 L895.3,377.7 L894.2,379.4 L893.0,381.0 L891.9,382.5 L890.7,384.1 L889.5,385.7 L888.2,387.2 L887.0,388.7 L885.7,390.2 L884.5,391.7 L883.2,393.2 L881.9,394.7 L880.6,396.2 L879.2,397.6 L877.9,399.0 L876.5,400.4 L875.1,401.9 L873.8,403.2 L872.4,404.6 L870.9,406.0 L869.5,407.4 L868.1,408.7 L866.6,410.0 L865.1,411.4 L863.7,412.7 L862.2,414.0 L860.7,415.3 L859.2,416.6 L857.6,417.8 L856.1,419.1 L854.6,420.3 L853.0,421.6 L851.5,422.8 L849.9,424.1 L848.3,425.3 L846.7,426.5 L845.1,427.7 L843.5,428.9 L841.9,430.1 L840.3,431.2 L838.6,432.4 L837.0,433.6 L835.4,434.7 L833.7,435.9 L832.0,437.0 L830.4,438.2 L828.7,439.3 L827.0,440.4 L825.3,441.6 L823.7,442.7 L822.0,443.8 L820.3,444.9 L818.6,446.0 L816.9,447.1 L815.2,448.2 L813.4,449.3 L811.7,450.4 L810.0,451.5 L808.3,452.5 L806.6,453.6 L804.8,454.7 L803.1,455.8 L801.4,456.8 L799.7,457.9 L797.9,459.0 L796.2,460.0 L794.5,461.1 L792.7,462.1 L791.0,463.2 L789.3,464.3 L787.5,465.3 L785.8,466.4 L784.1,467.4 L782.3,468.5 L780.6,469.5 L778.9,470.6 L777.2,471.7 L775.4,472.7 L773.7,473.8 L772.0,474.8 L770.3,475.9 L768.6,477.0 L766.9,478.0 L765.2,479.1 L763.5,480.2 L761.8,481.2 L760.1,482.3 L758.4,483.4 L756.7,484.5 L755.0,485.6 L753.4,486.7 L751.7,487.8 L750.1,488.9 L748.4,490.0 L746.8,491.1 L745.1,492.2 L743.5,493.3 L741.9,494.4 L740.3,495.5 L738.6,496.7 L737.0,497.8 L735.4,499.0 L733.9,500.1 L732.3,501.3 L730.7,502.4 L729.1,503.6 L727.6,504.8 L726.0,506.0 L724.5,507.2 L722.9,508.4 L721.4,509.6 L719.9,510.8 L718.3,512.1 L716.8,513.3 L715.3,514.6 L713.8,515.8 L712.3,517.1 L710.9,518.4 L709.4,519.7 L707.9,521.0 L706.5,522.3 L705.0,523.6 L703.6,524.9 L702.2,526.3 L700.7,527.6 L699.3,529.0 L697.9,530.4 L696.5,531.8 L695.1,533.2 L693.8,534.6 L692.4,536.0 L691.0,537.5 L689.7,539.0 L688.3,540.4 L687.0,541.9 L685.7,543.4 L684.4,544.9 L683.1,546.5 L681.8,548.0 L680.5,549.6 L679.2,551.2 L678.0,552.8 L676.7,554.4 L675.5,556.0 L674.2,557.7 L673.0,559.3 L671.8,561.0 L670.6,562.6 L669.4,564.3 L668.1,566.0 L666.9,567.7 L665.7,569.4 L664.5,571.1 L663.3,572.8 L662.1,574.5 L661.0,576.3 L659.8,578.0 L658.6,579.7 L657.4,581.4 L656.2,583.1 L654.9,584.8 L653.7,586.5 L652.5,588.2 L651.3,589.9 L650.1,591.5 L648.8,593.2 L647.6,594.9 L646.3,596.5 L645.1,598.1 L643.8,599.7 L642.5,601.3 L641.2,602.9 L639.9,604.5 L638.6,606.0 L637.3,607.5 L635.9,609.0 L634.5,610.5 L633.2,612.0 L631.8,613.4 L630.4,614.8 L628.9,616.2 L627.5,617.6 L626.0,618.9 L624.5,620.2 L623.0,621.5 L621.5,622.7 L619.9,623.9 L618.4,625.1 L616.8,626.2 L615.2,627.3 L613.6,628.4 L611.9,629.4 L610.3,630.4 L608.6,631.4 L607.0,632.3 L605.3,633.2 L603.6,634.0 L601.9,634.8 L600.1,635.6 L598.4,636.3 L596.7,637.0 L594.9,637.6 L593.1,638.2 L591.3,638.7 L589.6,639.2 L587.8,639.7 L586.0,640.1 L584.1,640.4 L582.3,640.7 L580.5,641.0 L578.7,641.2 L576.8,641.4 L575.0,641.5 L573.1,641.5 L571.3,641.5 L569.4,641.4 L567.5,641.3 L565.7,641.2 L563.8,641.0 L561.9,640.7 L560.0,640.4 L558.2,640.0 L556.3,639.6 L554.4,639.2 L552.5,638.7 L550.6,638.2 L548.7,637.7 L546.8,637.1 L544.9,636.5 L543.0,635.8 L541.1,635.2 L539.3,634.5 L537.4,633.7 L535.5,633.0 L533.6,632.2 L531.7,631.4 L529.8,630.6 L527.9,629.8 L526.0,629.0 L524.1,628.1 L522.2,627.3 L520.3,626.4 L518.4,625.5 L516.5,624.6 L514.7,623.7 L512.8,622.8 L510.9,622.0 L509.0,621.1 L507.2,620.2 L505.3,619.3 L503.4,618.4 L501.6,617.5 L499.7,616.6 L497.8,615.8 L496.0,614.9 L494.1,614.0 L492.3,613.1 L490.4,612.3 L488.6,611.4 L486.7,610.5 L484.9,609.7 L483.0,608.8 L481.2,608.0 L479.4,607.1 L477.5,606.3 L475.7,605.4 L473.8,604.6 L472.0,603.7 L470.2,602.9 L468.3,602.1 L466.5,601.2 L464.7,600.4 L462.8,599.6 L461.0,598.8 L459.2,598.0 L457.3,597.1 L455.5,596.3 L453.7,595.5 L451.8,594.7 L450.0,594.0 L448.2,593.2 L446.3,592.4 L444.5,591.6 L442.7,590.8 L440.8,590.1 L439.0,589.3 L437.2,588.5 L435.3,587.8 L433.5,587.0 L431.6,586.3 L429.8,585.6 L428.0,584.8 L426.1,584.1 L424.3,583.4 L422.4,582.7 L420.6,582.0 L418.7,581.3 L416.9,580.6 L415.0,579.9 L413.1,579.2 L411.3,578.5 L409.4,577.8 L407.5,577.2 L405.7,576.5 L403.8,575.9 L401.9,575.2 L400.1,574.6 L398.2,573.9 L396.3,573.3 L394.4,572.7 L392.5,572.1 L390.6,571.5 L388.7,570.9 L386.8,570.3 L384.9,569.7 L383.0,569.1 L381.1,568.6 L379.2,568.0 L377.3,567.5 L375.3,566.9 L373.4,566.4 L371.5,565.9 L369.5,565.3 L367.6,564.8 L365.7,564.3 L363.7,563.8 L361.8,563.3 L359.8,562.8 L357.9,562.4 L355.9,561.9 L353.9,561.4 L352.0,561.0 L350.0,560.5 L348.1,560.1 L346.1,559.6 L344.1,559.2 L342.1,558.8 L340.2,558.4 L338.2,558.0 L336.2,557.6 L334.2,557.2 L332.2,556.8 L330.2,556.4 L328.3,556.1 L326.3,555.7 L324.3,555.3 L322.3,555.0 L320.3,554.7 L318.3,554.3 L316.3,554.0 L314.3,553.7 L312.3,553.4 L310.3,553.1 L308.3,552.8 L306.3,552.5 L304.3,552.2 L302.3,551.9 L300.3,551.6 L298.2,551.4 L296.2,551.1 L294.2,550.9 L292.2,550.6 L290.2,550.4 L288.2,550.1 L286.2,549.9 L284.2,549.7 L282.1,549.5 L280.1,549.3 L278.1,549.1 L276.1,548.9 L274.1,548.7 L272.1,548.6 L270.1,548.4 L268.0,548.2 L266.0,548.1 L264.0,547.9 L262.0,547.8 L260.0,547.7 L258.0,547.5 L256.0,547.4 L254.0,547.3 L251.9,547.2 L249.9,547.1 L247.9,547.0 L245.9,547.0 L243.9,546.9 L241.9,546.9 L240.0,546.9 L238.0,546.9 L236.0,546.9 L234.0,547.0 L232.0,547.1 L230.1,547.2 L228.1,547.3 L226.2,547.5 L224.2,547.7 L222.3,547.9 L220.4,548.2 L218.5,548.5 L216.6,548.8 L214.7,549.2 L212.8,549.6 L210.9,550.0 L209.0,550.5 L207.2,551.0 L205.3,551.6 L203.5,552.2 L201.7,552.9 L199.8,553.6 L198.0,554.4 L196.3,555.2 L194.5,556.1 L192.7,557.0 L191.0,558.0 L189.3,559.0 L187.6,560.1 L185.9,561.3 L184.2,562.5" fill="none" stroke="#800080" stroke-width="4.9" stroke-linejoin="round" stroke-linecap="round"/>
<path d="M184.2,580.0 L184.5,577.9 L184.9,575.8 L185.4,573.8 L185.9,571.8 L186.5,569.9 L187.1,567.9 L187.8,566.0 L188.5,564.1 L189.3,562.3 L190.1,560.5 L191.0,558.7 L192.0,556.9 L192.9,555.2 L194.0,553.5 L195.0,551.8 L196.2,550.2 L197.3,548.6 L198.5,547.0 L199.7,545.4 L201.0,543.9 L202.3,542.4 L203.6,541.0 L205.0,539.5 L206.4,538.1 L207.9,536.7 L209.3,535.4 L210.8,534.1 L212.3,532.8 L213.9,531.5 L215.4,530.2 L217.0,529.0 L218.6,527.8 L220.3,526.7 L221.9,525.6 L223.6,524.4 L225.3,523.4 L227.0,522.3 L228.7,521.3 L230.4,520.3 L232.1,519.3 L233.9,518.4 L235.6,517.4 L237.4,516.5 L239.2,515.7 L241.0,514.8 L242.8,514.0 L244.6,513.2 L246.4,512.4 L248.3,511.6 L250.1,510.8 L252.0,510.1 L253.8,509.4 L255.7,508.7 L257.6,508.0 L259.5,507.3 L261.3,506.7 L263.2,506.0 L265.1,505.4 L267.1,504.8 L269.0,504.2 L270.9,503.6 L272.8,503.0 L274.7,502.4 L276.7,501.8 L278.6,501.3 L280.6,500.7 L282.5,500.2 L284.5,499.7 L286.4,499.2 L288.4,498.6 L290.3,498.1 L292.3,497.6 L294.2,497.1 L296.2,496.6 L298.1,496.1 L300.1,495.6 L302.0,495.1 L304.0,494.6 L306.0,494.1 L307.9,493.6 L309.9,493.1 L311.8,492.6 L313.8,492.1 L315.7,491.6 L317.7,491.2 L319.6,490.7 L321.6,490.2 L323.5,489.7 L325.5,489.2 L327.4,488.7 L329.4,488.2 L331.3,487.7 L333.3,487.2 L335.2,486.8 L337.2,486.3 L339.1,485.8 L341.1,485.3 L343.0,484.8 L345.0,484.3 L346.9,483.8 L348.9,483.3 L350.8,482.8 L352.8,482.3 L354.7,481.9 L356.7,481.4 L358.6,480.9 L360.5,480.4 L362.5,479.9 L364.4,479.4 L366.4,478.9 L368.3,478.4 L370.2,477.9 L372.2,477.4 L374.1,476.9 L376.1,476.4 L378.0,475.9 L379.9,475.4 L381.9,474.9 L383.8,474.4 L385.7,473.9 L387.7,473.3 L389.6,472.8 L391.5,472.3 L393.5,471.8 L395.4,471.3 L397.3,470.7 L399.3,470.2 L401.2,469.7 L403.1,469.2 L405.0,468.6 L407.0,468.1 L408.9,467.6 L410.8,467.0 L412.7,466.5 L414.7,466.0 L416.6,465.4 L418.5,464.9 L420.4,464.3 L422.4,463.8 L424.3,463.2 L426.2,462.6 L428.1,462.1 L430.0,461.5 L431.9,460.9 L433.9,460.4 L435.8,459.8 L437.7,459.2 L439.6,458.6 L441.5,458.1 L443.4,457.5 L445.3,456.9 L447.2,456.3 L449.1,455.7 L451.1,455.1 L453.0,454.5 L454.9,453.9 L456.8,453.2 L458.7,452.6 L460.6,452.0 L462.5,451.4 L464.4,450.8 L466.3,450.1 L468.2,449.5 L470.1,448.9 L472.0,448.2 L473.9,447.6 L475.8,446.9 L477.7,446.3 L479.5,445.6 L481.4,445.0 L483.3,444.3 L485.2,443.6 L487.1,443.0 L489.0,442.3 L490.9,441.6 L492.8,440.9 L494.7,440.2 L496.5,439.6 L498.4,438.9 L500.3,438.2 L502.2,437.5 L504.1,436.8 L505.9,436.1 L507.8,435.4 L509.7,434.6 L511.6,433.9 L513.4,433.2 L515.3,432.5 L517.2,431.8 L519.1,431.0 L520.9,430.3 L522.8,429.6 L524.7,428.8 L526.5,428.1 L528.4,427.3 L530.3,426.6 L532.1,425.8 L534.0,425.1 L535.9,424.3 L537.7,423.6 L539.6,422.8 L541.4,422.0 L543.3,421.2 L545.2,420.5 L547.0,419.7 L548.9,418.9 L550.7,418.1 L552.6,417.3 L554.4,416.5 L556.3,415.7 L558.1,414.9 L559.9,414.1 L561.8,413.2 L563.6,412.4 L565.4,411.6 L567.3,410.7 L569.1,409.9 L570.9,409.0 L572.7,408.2 L574.5,407.3 L576.4,406.4 L578.2,405.5 L580.0,404.6 L581.7,403.7 L583.5,402.8 L585.3,401.9 L587.1,400.9 L588.9,400.0 L590.6,399.0 L592.4,398.1 L594.1,397.1 L595.9,396.1 L597.6,395.1 L599.3,394.1 L601.0,393.0 L602.8,392.0 L604.5,390.9 L606.2,389.9 L607.8,388.8 L609.5,387.7 L611.2,386.6 L612.8,385.4 L614.5,384.3 L616.1,383.1 L617.8,382.0 L619.4,380.8 L621.0,379.6 L622.6,378.4 L624.2,377.1 L625.7,375.9 L627.3,374.6 L628.8,373.4 L630.3,372.1 L631.9,370.8 L633.4,369.4 L634.8,368.1 L636.3,366.7 L637.8,365.4 L639.2,364.0 L640.6,362.6 L642.0,361.2 L643.4,359.7 L644.8,358.3 L646.1,356.8 L647.5,355.3 L648.8,353.8 L650.1,352.3 L651.3,350.8 L652.6,349.2 L653.8,347.7 L655.1,346.1 L656.3,344.5 L657.5,342.9 L658.6,341.3 L659.8,339.7 L661.0,338.0 L662.1,336.4 L663.2,334.7 L664.3,333.0 L665.4,331.4 L666.5,329.7 L667.6,328.0 L668.6,326.3 L669.7,324.6 L670.7,322.8 L671.7,321.1 L672.7,319.4 L673.7,317.6 L674.7,315.9 L675.7,314.1 L676.7,312.4 L677.7,310.6 L678.6,308.9 L679.6,307.1 L680.5,305.3 L681.5,303.5 L682.4,301.8 L683.4,300.0 L684.3,298.2 L685.2,296.4 L686.2,294.6 L687.1,292.9 L688.0,291.1 L688.9,289.3 L689.8,287.5 L690.8,285.7 L691.7,283.9 L692.6,282.1 L693.5,280.3 L694.4,278.6 L695.4,276.8 L696.3,275.0 L697.2,273.2 L698.2,271.4 L699.1,269.6 L700.0,267.9 L701.0,266.1 L701.9,264.3 L702.9,262.5 L703.8,260.8 L704.8,259.0 L705.7,257.2 L706.7,255.5 L707.7,253.7 L708.7,252.0 L709.7,250.2 L710.7,248.5 L711.7,246.7 L712.7,245.0 L713.8,243.3 L714.8,241.6 L715.8,239.8 L716.9,238.1 L718.0,236.4 L719.1,234.7 L720.2,233.0 L721.3,231.3 L722.4,229.7 L723.5,228.0 L724.7,226.3 L725.8,224.7 L727.0,223.0 L728.2,221.4 L729.4,219.7 L730.6,218.1 L731.9,216.5 L733.1,214.9 L734.4,213.3 L735.7,211.7 L737.0,210.1 L738.3,208.6 L739.6,207.0 L741.0,205.5 L742.3,204.0 L743.7,202.5 L745.1,201.1 L746.5,199.6 L747.9,198.2 L749.4,196.8 L750.8,195.4 L752.3,194.0 L753.8,192.7 L755.3,191.3 L756.8,190.0 L758.3,188.8 L759.9,187.5 L761.5,186.3 L763.0,185.1 L764.6,184.0 L766.2,182.8 L767.9,181.7 L769.5,180.6 L771.2,179.6 L772.9,178.6 L774.6,177.6 L776.3,176.7 L778.0,175.8 L779.8,174.9 L781.5,174.1 L783.3,173.2 L785.1,172.5 L786.9,171.7 L788.7,171.0 L790.5,170.3 L792.4,169.6 L794.2,169.0 L796.1,168.3 L798.0,167.7 L799.9,167.2 L801.8,166.6 L803.7,166.1 L805.6,165.6 L807.5,165.1 L809.5,164.6 L811.4,164.1 L813.4,163.7 L815.3,163.3 L817.3,162.9 L819.3,162.5 L821.3,162.1 L823.3,161.7 L825.2,161.3 L827.2,161.0 L829.3,160.7 L831.3,160.3 L833.3,160.0 L835.3,159.7 L837.3,159.4 L839.3,159.1 L841.4,158.8 L843.4,158.5 L845.4,158.2 L847.5,157.9 L849.5,157.6 L851.5,157.3 L853.5,157.0 L855.6,156.7 L857.6,156.4 L859.6,156.1 L861.7,155.8 L863.7,155.5 L865.7,155.2 L867.7,154.9 L869.7,154.6 L871.8,154.2 L873.8,153.9 L875.8,153.5 L877.8,153.1 L879.8,152.8 L881.7,152.4 L883.7,152.0 L885.7,151.5 L887.7,151.1 L889.6,150.7 L891.6,150.2 L893.5,149.7 L895.4,149.2 L897.4,148.7 L899.3,148.1 L901.2,147.5 L903.1,146.9 L905.0,146.3 L906.8,145.7 L908.7,145.0 L910.6,144.3 L912.4,143.6 L914.2,142.9 L916.0,142.1 L917.8,141.3 L919.6,140.5 L921.4,139.7 L923.1,138.8 L924.8,137.9 L926.6,137.0 L928.3,136.0 L930.0,135.0 L931.6,134.0 L933.3,132.9 L934.9,131.9 L936.5,130.7 L938.1,129.6 L939.7,128.4 L941.3,127.2 L942.8,125.9 L944.3,124.6 L945.8,123.3 L947.3,122.0 L948.7,120.6 L950.2,119.1 L951.6,117.7 L952.9,116.1 L954.3,114.6 L955.6,113.0 L957.0,111.4 L958.2,109.7 L959.5,108.0 L959.3,109.9 L959.1,111.9 L958.9,113.8 L958.6,115.7 L958.4,117.7 L958.2,119.6 L958.0,121.6 L957.8,123.5 L957.6,125.5 L957.4,127.4 L957.1,129.4 L956.9,131.4 L956.7,133.3 L956.5,135.3 L956.3,137.3 L956.1,139.2 L955.8,141.2 L955.6,143.2 L955.4,145.2 L955.2,147.2 L954.9,149.1 L954.7,151.1 L954.5,153.1 L954.2,155.1 L954.0,157.1 L953.8,159.1 L953.5,161.1 L953.3,163.1 L953.0,165.1 L952.8,167.1 L952.5,169.1 L952.3,171.1 L952.0,173.1 L951.8,175.1 L951.5,177.1 L951.2,179.1 L951.0,181.1 L950.7,183.2 L950.4,185.2 L950.1,187.2 L949.9,189.2 L949.6,191.2 L949.3,193.2 L949.0,195.2 L948.7,197.2 L948.4,199.2 L948.1,201.3 L947.8,203.3 L947.5,205.3 L947.1,207.3 L946.8,209.3 L946.5,211.3 L946.2,213.3 L945.8,215.3 L945.5,217.3 L945.1,219.3 L944.8,221.3 L944.4,223.3 L944.0,225.3 L943.7,227.3 L943.3,229.3 L942.9,231.3 L942.5,233.3 L942.1,235.3 L941.7,237.3 L941.3,239.3 L940.9,241.3 L940.5,243.3 L940.0,245.3 L939.6,247.3 L939.2,249.3 L938.7,251.2 L938.3,253.2 L937.8,255.2 L937.3,257.2 L936.8,259.1 L936.4,261.1 L935.9,263.1 L935.4,265.0 L934.9,267.0 L934.3,268.9 L933.8,270.9 L933.3,272.8 L932.8,274.8 L932.2,276.7 L931.7,278.6 L931.1,280.6 L930.5,282.5 L929.9,284.4 L929.3,286.4 L928.7,288.3 L928.1,290.2 L927.5,292.1 L926.9,294.0 L926.3,295.9 L925.6,297.8 L925.0,299.7 L924.3,301.6 L923.6,303.5 L922.9,305.4 L922.2,307.2 L921.5,309.1 L920.8,311.0 L920.1,312.8 L919.4,314.7 L918.6,316.5 L917.9,318.4 L917.1,320.2 L916.3,322.0 L915.5,323.9 L914.7,325.7 L913.9,327.5 L913.1,329.3 L912.3,331.1 L911.4,332.9 L910.6,334.7 L909.7,336.5 L908.8,338.3 L907.9,340.0 L907.0,341.8 L906.1,343.6 L905.2,345.3 L904.3,347.1 L903.3,348.8 L902.4,350.5 L901.4,352.3 L900.4,354.0 L899.5,355.7 L898.5,357.4 L897.4,359.1 L896.4,360.8 L895.4,362.5 L894.4,364.2 L893.3,365.9 L892.2,367.5 L891.2,369.2 L890.1,370.8 L889.0,372.5 L887.9,374.1 L886.8,375.8 L885.7,377.4 L884.5,379.0 L883.4,380.6 L882.2,382.2 L881.1,383.8 L879.9,385.4 L878.7,387.0 L877.5,388.6 L876.3,390.2 L875.1,391.7 L873.9,393.3 L872.6,394.8 L871.4,396.4 L870.1,397.9 L868.9,399.4 L867.6,400.9 L866.3,402.5 L865.0,404.0 L863.7,405.5 L862.4,406.9 L861.1,408.4 L859.7,409.9 L858.4,411.4 L857.0,412.8 L855.7,414.3 L854.3,415.7 L852.9,417.1 L851.5,418.6 L850.2,420.0 L848.7,421.4 L847.3,422.8 L845.9,424.2 L844.5,425.6 L843.0,427.0 L841.6,428.3 L840.1,429.7 L838.6,431.0 L837.2,432.4 L835.7,433.7 L834.2,435.0 L832.7,436.4 L831.2,437.7 L829.6,439.0 L828.1,440.3 L826.6,441.6 L825.0,442.8 L823.5,444.1 L821.9,445.4 L820.3,446.6 L818.7,447.9 L817.1,449.1 L815.5,450.3 L813.9,451.5 L812.3,452.7 L810.7,453.9 L809.1,455.1 L807.4,456.3 L805.8,457.5 L804.1,458.7 L802.5,459.8 L800.8,461.0 L799.2,462.1 L797.5,463.3 L795.8,464.4 L794.1,465.5 L792.4,466.7 L790.8,467.8 L789.1,468.9 L787.4,470.1 L785.7,471.2 L784.0,472.3 L782.3,473.4 L780.6,474.5 L778.9,475.6 L777.2,476.7 L775.5,477.8 L773.8,479.0 L772.1,480.1 L770.4,481.2 L768.7,482.3 L767.0,483.4 L765.3,484.5 L763.6,485.6 L761.9,486.7 L760.2,487.9 L758.6,489.0 L756.9,490.1 L755.2,491.2 L753.6,492.4 L751.9,493.5 L750.2,494.7 L748.6,495.8 L746.9,497.0 L745.3,498.1 L743.7,499.3 L742.1,500.5 L740.5,501.7 L738.8,502.8 L737.2,504.0 L735.7,505.2 L734.1,506.5 L732.5,507.7 L731.0,508.9 L729.4,510.1 L727.9,511.4 L726.3,512.7 L724.8,513.9 L723.3,515.2 L721.8,516.5 L720.4,517.8 L718.9,519.1 L717.4,520.5 L716.0,521.8 L714.6,523.2 L713.2,524.5 L711.8,525.9 L710.4,527.3 L709.0,528.7 L707.7,530.2 L706.4,531.6 L705.0,533.1 L703.7,534.5 L702.5,536.0 L701.2,537.5 L699.9,539.0 L698.7,540.6 L697.5,542.1 L696.3,543.7 L695.1,545.3 L693.9,546.9 L692.7,548.5 L691.6,550.1 L690.4,551.7 L689.3,553.3 L688.2,555.0 L687.1,556.6 L686.0,558.3 L684.9,560.0 L683.8,561.7 L682.7,563.4 L681.6,565.1 L680.5,566.8 L679.5,568.5 L678.4,570.2 L677.4,572.0 L676.3,573.7 L675.3,575.4 L674.2,577.2 L673.2,578.9 L672.1,580.7 L671.1,582.5 L670.1,584.2 L669.0,586.0 L668.0,587.8 L667.0,589.6 L665.9,591.3 L664.9,593.1 L663.8,594.9 L662.8,596.7 L661.7,598.5 L660.7,600.2 L659.6,602.0 L658.6,603.8 L657.5,605.6 L656.4,607.4 L655.3,609.1 L654.3,610.9 L653.2,612.7 L652.1,614.4 L650.9,616.2 L649.8,618.0 L648.7,619.7 L647.5,621.5 L646.4,623.2 L645.2,625.0 L644.1,626.7 L642.9,628.4 L641.7,630.1 L640.4,631.8 L639.2,633.5 L638.0,635.2 L636.7,636.8 L635.5,638.4 L634.2,640.1 L632.9,641.6 L631.6,643.2 L630.2,644.7 L628.9,646.3 L627.5,647.7 L626.1,649.2 L624.8,650.6 L623.3,652.0 L621.9,653.4 L620.5,654.7 L619.0,656.0 L617.5,657.2 L616.0,658.4 L614.5,659.6 L612.9,660.7 L611.4,661.8 L609.8,662.8 L608.2,663.8 L606.5,664.7 L604.9,665.6 L603.2,666.5 L601.5,667.2 L599.8,668.0 L598.1,668.7 L596.3,669.3 L594.6,669.9 L592.8,670.4 L591.0,670.9 L589.2,671.3 L587.4,671.6 L585.6,672.0 L583.8,672.2 L582.0,672.4 L580.1,672.6 L578.3,672.7 L576.4,672.7 L574.6,672.7 L572.7,672.6 L570.9,672.5 L569.0,672.3 L567.2,672.1 L565.3,671.8 L563.4,671.5 L561.6,671.1 L559.7,670.6 L557.9,670.2 L556.0,669.6 L554.1,669.1 L552.3,668.5 L550.4,667.8 L548.6,667.1 L546.7,666.4 L544.8,665.7 L543.0,664.9 L541.1,664.1 L539.3,663.2 L537.4,662.4 L535.6,661.5 L533.7,660.6 L531.9,659.7 L530.0,658.7 L528.2,657.8 L526.3,656.8 L524.5,655.8 L522.7,654.8 L520.8,653.8 L519.0,652.8 L517.2,651.7 L515.4,650.7 L513.5,649.7 L511.7,648.6 L509.9,647.6 L508.1,646.6 L506.3,645.5 L504.5,644.5 L502.7,643.5 L500.9,642.5 L499.1,641.4 L497.3,640.4 L495.5,639.4 L493.7,638.4 L491.9,637.4 L490.2,636.4 L488.4,635.4 L486.6,634.4 L484.8,633.4 L483.1,632.4 L481.3,631.4 L479.5,630.5 L477.7,629.5 L476.0,628.5 L474.2,627.5 L472.4,626.6 L470.7,625.6 L468.9,624.7 L467.1,623.7 L465.4,622.8 L463.6,621.8 L461.9,620.9 L460.1,619.9 L458.3,619.0 L456.6,618.1 L454.8,617.2 L453.0,616.3 L451.3,615.4 L449.5,614.5 L447.7,613.6 L446.0,612.7 L444.2,611.8 L442.4,610.9 L440.7,610.0 L438.9,609.2 L437.1,608.3 L435.3,607.5 L433.6,606.6 L431.8,605.8 L430.0,604.9 L428.2,604.1 L426.4,603.3 L424.6,602.5 L422.8,601.7 L421.0,600.9 L419.2,600.1 L417.4,599.3 L415.6,598.5 L413.8,597.7 L412.0,597.0 L410.2,596.2 L408.4,595.4 L406.5,594.7 L404.7,594.0 L402.9,593.2 L401.0,592.5 L399.2,591.8 L397.4,591.1 L395.5,590.4 L393.6,589.7 L391.8,589.1 L389.9,588.4 L388.0,587.7 L386.2,587.1 L384.3,586.4 L382.4,585.8 L380.5,585.2 L378.6,584.6 L376.7,583.9 L374.8,583.4 L372.9,582.8 L371.0,582.2 L369.0,581.6 L367.1,581.0 L365.2,580.5 L363.2,579.9 L361.3,579.4 L359.4,578.9 L357.4,578.4 L355.5,577.8 L353.5,577.3 L351.5,576.8 L349.6,576.4 L347.6,575.9 L345.6,575.4 L343.7,575.0 L341.7,574.5 L339.7,574.1 L337.7,573.6 L335.7,573.2 L333.7,572.8 L331.8,572.4 L329.8,572.0 L327.8,571.6 L325.8,571.2 L323.8,570.8 L321.8,570.4 L319.8,570.1 L317.8,569.7 L315.8,569.4 L313.7,569.0 L311.7,568.7 L309.7,568.4 L307.7,568.0 L305.7,567.7 L303.7,567.4 L301.7,567.1 L299.7,566.9 L297.6,566.6 L295.6,566.3 L293.6,566.1 L291.6,565.8 L289.6,565.6 L287.6,565.3 L285.5,565.1 L283.5,564.9 L281.5,564.6 L279.5,564.4 L277.5,564.2 L275.5,564.0 L273.4,563.9 L271.4,563.7 L269.4,563.5 L267.4,563.3 L265.4,563.2 L263.4,563.0 L261.4,562.9 L259.4,562.8 L257.4,562.6 L255.4,562.5 L253.4,562.4 L251.4,562.3 L249.4,562.2 L247.4,562.2 L245.4,562.1 L243.4,562.1 L241.5,562.1 L239.5,562.1 L237.5,562.1 L235.6,562.2 L233.6,562.2 L231.7,562.3 L229.7,562.5 L227.8,562.6 L225.8,562.8 L223.9,563.1 L222.0,563.4 L220.1,563.7 L218.2,564.0 L216.3,564.4 L214.4,564.8 L212.6,565.3 L210.7,565.8 L208.9,566.4 L207.0,567.0 L205.2,567.6 L203.4,568.4 L201.6,569.1 L199.8,569.9 L198.0,570.8 L196.2,571.7 L194.5,572.7 L192.7,573.8 L191.0,574.9 L189.3,576.1 L187.6,577.3 L185.9,578.6 L184.2,580.0" fill="none" stroke="#800000" stroke-width="4.9" stroke-linejoin="round" stroke-linecap="round"/>
<path d="M184.6,595.7 L184.9,593.7 L185.3,591.7 L185.8,589.8 L186.2,587.8 L186.7,585.9 L187.3,583.9 L187.9,582.0 L188.5,580.1 L189.2,578.1 L189.9,576.2 L190.6,574.4 L191.4,572.5 L192.2,570.7 L193.1,568.8 L194.0,567.0 L194.9,565.3 L195.9,563.5 L196.9,561.8 L197.9,560.0 L199.0,558.4 L200.1,556.7 L201.3,555.1 L202.5,553.5 L203.7,551.9 L205.0,550.3 L206.3,548.8 L207.6,547.4 L209.0,545.9 L210.4,544.5 L211.8,543.1 L213.3,541.8 L214.8,540.5 L216.3,539.2 L217.9,537.9 L219.5,536.7 L221.1,535.5 L222.7,534.3 L224.4,533.2 L226.0,532.1 L227.7,531.0 L229.4,529.9 L231.1,528.9 L232.9,527.9 L234.6,526.9 L236.4,525.9 L238.1,524.9 L239.9,524.0 L241.7,523.1 L243.5,522.1 L245.3,521.3 L247.1,520.4 L248.9,519.5 L250.7,518.7 L252.5,517.9 L254.4,517.1 L256.2,516.3 L258.0,515.5 L259.9,514.8 L261.7,514.0 L263.6,513.3 L265.5,512.6 L267.3,511.9 L269.2,511.2 L271.1,510.5 L273.0,509.8 L274.9,509.2 L276.8,508.5 L278.7,507.9 L280.6,507.3 L282.5,506.6 L284.4,506.0 L286.3,505.4 L288.2,504.9 L290.1,504.3 L292.1,503.7 L294.0,503.1 L295.9,502.6 L297.8,502.0 L299.8,501.5 L301.7,500.9 L303.7,500.4 L305.6,499.9 L307.5,499.3 L309.5,498.8 L311.4,498.3 L313.4,497.8 L315.3,497.2 L317.3,496.7 L319.2,496.2 L321.2,495.7 L323.1,495.2 L325.0,494.7 L327.0,494.2 L328.9,493.7 L330.9,493.1 L332.8,492.6 L334.8,492.1 L336.7,491.6 L338.7,491.1 L340.6,490.6 L342.6,490.0 L344.5,489.5 L346.4,489.0 L348.4,488.4 L350.3,487.9 L352.2,487.3 L354.2,486.8 L356.1,486.2 L358.0,485.7 L359.9,485.1 L361.9,484.5 L363.8,483.9 L365.7,483.3 L367.6,482.7 L369.5,482.1 L371.4,481.5 L373.3,480.9 L375.2,480.3 L377.1,479.7 L379.0,479.1 L380.9,478.5 L382.8,477.9 L384.7,477.3 L386.7,476.7 L388.6,476.1 L390.5,475.5 L392.4,474.9 L394.3,474.4 L396.2,473.8 L398.2,473.3 L400.1,472.7 L402.0,472.2 L404.0,471.7 L405.9,471.2 L407.9,470.7 L409.8,470.2 L411.8,469.7 L413.7,469.2 L415.7,468.7 L417.6,468.2 L419.6,467.7 L421.5,467.2 L423.5,466.7 L425.4,466.2 L427.3,465.7 L429.3,465.2 L431.2,464.6 L433.1,464.1 L435.1,463.5 L437.0,462.9 L438.9,462.3 L440.8,461.6 L442.7,461.0 L444.5,460.3 L446.4,459.6 L448.3,458.9 L450.2,458.2 L452.0,457.5 L453.9,456.8 L455.8,456.0 L457.6,455.2 L459.5,454.5 L461.3,453.7 L463.1,452.9 L465.0,452.1 L466.8,451.3 L468.6,450.4 L470.4,449.6 L472.3,448.8 L474.1,447.9 L475.9,447.1 L477.7,446.2 L479.5,445.3 L481.3,444.5 L483.1,443.6 L484.9,442.7 L486.8,441.8 L488.6,440.9 L490.4,440.1 L492.2,439.2 L494.0,438.3 L495.8,437.4 L497.6,436.5 L499.4,435.7 L501.2,434.8 L503.0,433.9 L504.8,433.1 L506.6,432.2 L508.5,431.4 L510.3,430.6 L512.1,429.7 L513.9,428.9 L515.8,428.1 L517.6,427.3 L519.5,426.6 L521.3,425.8 L523.2,425.1 L525.1,424.3 L526.9,423.6 L528.8,422.9 L530.7,422.1 L532.5,421.4 L534.4,420.7 L536.3,420.0 L538.1,419.2 L540.0,418.5 L541.8,417.8 L543.7,417.0 L545.5,416.3 L547.4,415.5 L549.2,414.7 L551.0,413.9 L552.9,413.1 L554.7,412.2 L556.5,411.4 L558.3,410.5 L560.0,409.6 L561.8,408.7 L563.6,407.8 L565.4,406.9 L567.1,405.9 L568.9,404.9 L570.6,404.0 L572.3,403.0 L574.1,402.0 L575.8,400.9 L577.5,399.9 L579.2,398.9 L580.9,397.8 L582.6,396.7 L584.3,395.7 L585.9,394.6 L587.6,393.5 L589.3,392.3 L590.9,391.2 L592.6,390.1 L594.3,388.9 L595.9,387.8 L597.5,386.6 L599.2,385.4 L600.8,384.3 L602.4,383.1 L604.1,381.9 L605.7,380.7 L607.3,379.5 L608.9,378.2 L610.5,377.0 L612.1,375.8 L613.7,374.5 L615.3,373.3 L616.9,372.0 L618.4,370.8 L620.0,369.5 L621.5,368.2 L623.1,366.9 L624.6,365.6 L626.2,364.3 L627.7,363.0 L629.2,361.6 L630.7,360.3 L632.1,358.9 L633.6,357.6 L635.1,356.2 L636.5,354.8 L637.9,353.4 L639.3,351.9 L640.7,350.5 L642.1,349.0 L643.4,347.6 L644.8,346.1 L646.1,344.6 L647.4,343.1 L648.7,341.5 L649.9,340.0 L651.1,338.4 L652.4,336.8 L653.5,335.2 L654.7,333.6 L655.9,332.0 L657.0,330.4 L658.1,328.7 L659.2,327.0 L660.3,325.3 L661.4,323.6 L662.4,321.9 L663.4,320.2 L664.5,318.5 L665.5,316.8 L666.4,315.0 L667.4,313.2 L668.4,311.5 L669.3,309.7 L670.3,307.9 L671.2,306.1 L672.1,304.3 L673.0,302.6 L673.9,300.8 L674.8,298.9 L675.7,297.1 L676.6,295.3 L677.5,293.5 L678.4,291.7 L679.3,289.9 L680.1,288.1 L681.0,286.3 L681.9,284.5 L682.8,282.7 L683.7,280.9 L684.5,279.0 L685.4,277.2 L686.3,275.4 L687.2,273.6 L688.0,271.8 L688.9,270.0 L689.8,268.2 L690.7,266.4 L691.5,264.6 L692.4,262.8 L693.3,261.0 L694.1,259.2 L695.0,257.4 L695.9,255.6 L696.8,253.8 L697.6,252.0 L698.5,250.2 L699.4,248.4 L700.3,246.6 L701.1,244.8 L702.0,243.0 L702.9,241.2 L703.8,239.4 L704.6,237.6 L705.5,235.8 L706.4,234.0 L707.3,232.2 L708.1,230.4 L709.0,228.6 L709.9,226.8 L710.8,225.0 L711.7,223.2 L712.6,221.4 L713.5,219.6 L714.4,217.8 L715.3,216.0 L716.2,214.2 L717.1,212.4 L718.0,210.6 L719.0,208.9 L719.9,207.1 L720.9,205.3 L721.8,203.5 L722.8,201.8 L723.8,200.0 L724.8,198.3 L725.7,196.5 L726.8,194.8 L727.8,193.1 L728.8,191.4 L729.9,189.6 L730.9,187.9 L732.0,186.2 L733.1,184.5 L734.2,182.9 L735.3,181.2 L736.4,179.5 L737.5,177.9 L738.7,176.2 L739.9,174.6 L741.1,173.0 L742.3,171.3 L743.5,169.7 L744.8,168.2 L746.0,166.6 L747.3,165.0 L748.6,163.5 L749.9,162.0 L751.3,160.5 L752.7,159.0 L754.1,157.6 L755.5,156.2 L756.9,154.8 L758.4,153.4 L759.8,152.0 L761.3,150.7 L762.9,149.5 L764.4,148.2 L766.0,147.0 L767.6,145.8 L769.2,144.6 L770.9,143.5 L772.5,142.4 L774.2,141.3 L775.9,140.3 L777.7,139.3 L779.4,138.3 L781.2,137.3 L782.9,136.4 L784.7,135.5 L786.5,134.6 L788.4,133.8 L790.2,132.9 L792.0,132.2 L793.9,131.4 L795.8,130.6 L797.6,129.9 L799.5,129.2 L801.4,128.6 L803.3,127.9 L805.2,127.3 L807.1,126.7 L809.1,126.1 L811.0,125.6 L812.9,125.0 L814.9,124.5 L816.8,124.0 L818.7,123.6 L820.7,123.1 L822.6,122.7 L824.6,122.2 L826.6,121.8 L828.5,121.5 L830.5,121.1 L832.5,120.7 L834.4,120.4 L836.4,120.0 L838.4,119.7 L840.4,119.4 L842.4,119.0 L844.4,118.7 L846.3,118.4 L848.3,118.1 L850.3,117.8 L852.3,117.5 L854.3,117.2 L856.3,116.9 L858.3,116.6 L860.3,116.3 L862.3,116.0 L864.3,115.7 L866.3,115.4 L868.3,115.1 L870.3,114.8 L872.3,114.5 L874.3,114.1 L876.3,113.8 L878.3,113.4 L880.3,113.1 L882.3,112.7 L884.3,112.3 L886.3,111.9 L888.3,111.5 L890.2,111.0 L892.2,110.6 L894.1,110.1 L896.1,109.6 L898.0,109.0 L899.9,108.5 L901.9,107.9 L903.8,107.3 L905.6,106.7 L907.5,106.0 L909.4,105.3 L911.2,104.6 L913.0,103.9 L914.9,103.1 L916.6,102.3 L918.4,101.4 L920.2,100.5 L921.9,99.6 L923.6,98.7 L925.3,97.7 L927.0,96.6 L928.6,95.5 L930.3,94.4 L931.8,93.2 L933.4,92.0 L935.0,90.7 L936.5,89.4 L938.0,88.1 L939.5,86.7 L940.9,85.3 L942.3,83.9 L943.7,82.4 L945.1,80.9 L946.4,79.4 L947.7,77.9 L949.0,76.3 L950.3,74.7 L951.5,73.1 L952.7,71.4 L953.9,69.8 L955.0,68.1 L956.2,66.4 L957.2,64.7 L958.3,63.0 L958.1,64.9 L958.0,66.9 L957.8,68.8 L957.6,70.8 L957.5,72.7 L957.3,74.6 L957.1,76.6 L957.0,78.5 L956.8,80.5 L956.6,82.5 L956.5,84.4 L956.3,86.4 L956.1,88.4 L956.0,90.3 L955.8,92.3 L955.6,94.3 L955.5,96.2 L955.3,98.2 L955.1,100.2 L954.9,102.2 L954.7,104.2 L954.6,106.1 L954.4,108.1 L954.2,110.1 L954.0,112.1 L953.8,114.1 L953.6,116.1 L953.4,118.1 L953.2,120.1 L953.0,122.1 L952.8,124.1 L952.6,126.1 L952.4,128.1 L952.2,130.1 L952.0,132.1 L951.8,134.1 L951.6,136.1 L951.4,138.1 L951.2,140.1 L950.9,142.1 L950.7,144.1 L950.5,146.1 L950.3,148.1 L950.0,150.1 L949.8,152.1 L949.6,154.1 L949.3,156.2 L949.1,158.2 L948.8,160.2 L948.6,162.2 L948.3,164.2 L948.0,166.2 L947.8,168.2 L947.5,170.2 L947.2,172.2 L947.0,174.3 L946.7,176.3 L946.4,178.3 L946.1,180.3 L945.8,182.3 L945.5,184.3 L945.2,186.3 L944.9,188.3 L944.6,190.3 L944.3,192.3 L944.0,194.3 L943.6,196.3 L943.3,198.3 L943.0,200.3 L942.6,202.3 L942.3,204.3 L942.0,206.3 L941.6,208.3 L941.2,210.3 L940.9,212.3 L940.5,214.3 L940.1,216.3 L939.7,218.3 L939.4,220.3 L939.0,222.3 L938.6,224.3 L938.2,226.3 L937.8,228.3 L937.3,230.2 L936.9,232.2 L936.5,234.2 L936.1,236.2 L935.6,238.1 L935.2,240.1 L934.7,242.1 L934.3,244.1 L933.8,246.0 L933.3,248.0 L932.9,249.9 L932.4,251.9 L931.9,253.9 L931.4,255.8 L930.9,257.8 L930.4,259.7 L929.8,261.6 L929.3,263.6 L928.8,265.5 L928.2,267.5 L927.7,269.4 L927.1,271.3 L926.6,273.3 L926.0,275.2 L925.4,277.1 L924.8,279.0 L924.2,280.9 L923.6,282.8 L923.0,284.7 L922.4,286.6 L921.8,288.5 L921.2,290.4 L920.5,292.3 L919.9,294.2 L919.2,296.1 L918.5,298.0 L917.9,299.9 L917.2,301.7 L916.5,303.6 L915.8,305.5 L915.1,307.3 L914.4,309.2 L913.6,311.0 L912.9,312.9 L912.2,314.7 L911.4,316.6 L910.6,318.4 L909.9,320.2 L909.1,322.1 L908.3,323.9 L907.5,325.7 L906.7,327.5 L905.9,329.3 L905.0,331.1 L904.2,332.9 L903.3,334.7 L902.5,336.5 L901.6,338.3 L900.7,340.0 L899.9,341.8 L899.0,343.6 L898.0,345.3 L897.1,347.1 L896.2,348.8 L895.3,350.6 L894.3,352.3 L893.3,354.0 L892.4,355.8 L891.4,357.5 L890.4,359.2 L889.4,360.9 L888.4,362.6 L887.4,364.3 L886.3,366.0 L885.3,367.7 L884.2,369.4 L883.2,371.0 L882.1,372.7 L881.0,374.4 L879.9,376.0 L878.8,377.7 L877.7,379.3 L876.6,380.9 L875.4,382.6 L874.3,384.2 L873.1,385.8 L871.9,387.4 L870.8,389.0 L869.6,390.6 L868.4,392.2 L867.2,393.8 L866.0,395.3 L864.8,396.9 L863.5,398.5 L862.3,400.0 L861.0,401.6 L859.8,403.1 L858.5,404.7 L857.2,406.2 L855.9,407.7 L854.6,409.2 L853.3,410.7 L852.0,412.2 L850.7,413.7 L849.3,415.2 L848.0,416.7 L846.6,418.2 L845.3,419.6 L843.9,421.1 L842.5,422.5 L841.1,424.0 L839.7,425.4 L838.3,426.8 L836.9,428.3 L835.5,429.7 L834.1,431.1 L832.6,432.5 L831.2,433.9 L829.7,435.3 L828.3,436.6 L826.8,438.0 L825.3,439.4 L823.8,440.7 L822.3,442.1 L820.8,443.4 L819.3,444.7 L817.8,446.1 L816.3,447.4 L814.7,448.7 L813.2,450.0 L811.7,451.3 L810.1,452.6 L808.6,453.9 L807.0,455.2 L805.4,456.5 L803.9,457.7 L802.3,459.0 L800.7,460.3 L799.2,461.6 L797.6,462.8 L796.0,464.1 L794.4,465.4 L792.8,466.6 L791.2,467.9 L789.6,469.1 L788.0,470.4 L786.5,471.6 L784.9,472.9 L783.3,474.1 L781.7,475.4 L780.1,476.6 L778.5,477.9 L776.9,479.1 L775.3,480.4 L773.7,481.6 L772.1,482.9 L770.5,484.1 L769.0,485.4 L767.4,486.6 L765.8,487.9 L764.2,489.1 L762.7,490.4 L761.1,491.7 L759.5,492.9 L758.0,494.2 L756.4,495.5 L754.9,496.7 L753.3,498.0 L751.8,499.3 L750.2,500.6 L748.7,501.9 L747.2,503.2 L745.7,504.5 L744.2,505.8 L742.7,507.1 L741.2,508.4 L739.7,509.7 L738.2,511.1 L736.7,512.4 L735.3,513.7 L733.8,515.1 L732.4,516.4 L731.0,517.8 L729.5,519.2 L728.1,520.6 L726.7,522.0 L725.3,523.4 L723.9,524.8 L722.6,526.2 L721.2,527.6 L719.9,529.0 L718.5,530.5 L717.2,531.9 L715.9,533.4 L714.6,534.9 L713.3,536.3 L712.0,537.8 L710.8,539.3 L709.5,540.9 L708.3,542.4 L707.1,543.9 L705.9,545.5 L704.7,547.0 L703.5,548.6 L702.3,550.1 L701.1,551.7 L700.0,553.3 L698.8,554.9 L697.7,556.5 L696.6,558.2 L695.5,559.8 L694.3,561.4 L693.2,563.1 L692.1,564.7 L691.1,566.4 L690.0,568.1 L688.9,569.7 L687.9,571.4 L686.8,573.1 L685.8,574.8 L684.7,576.5 L683.7,578.3 L682.7,580.0 L681.6,581.7 L680.6,583.5 L679.6,585.2 L678.6,587.0 L677.6,588.7 L676.6,590.5 L675.6,592.3 L674.6,594.1 L673.7,595.9 L672.7,597.7 L671.7,599.5 L670.7,601.3 L669.8,603.1 L668.8,604.9 L667.9,606.8 L666.9,608.6 L665.9,610.4 L665.0,612.3 L664.0,614.2 L663.1,616.0 L662.1,617.9 L661.2,619.8 L660.2,621.6 L659.3,623.5 L658.3,625.4 L657.4,627.3 L656.4,629.2 L655.5,631.1 L654.5,633.0 L653.5,634.8 L652.6,636.7 L651.6,638.6 L650.6,640.5 L649.6,642.4 L648.6,644.2 L647.6,646.1 L646.6,647.9 L645.5,649.7 L644.5,651.6 L643.4,653.4 L642.4,655.1 L641.3,656.9 L640.2,658.7 L639.0,660.4 L637.9,662.1 L636.7,663.8 L635.6,665.5 L634.4,667.1 L633.2,668.8 L631.9,670.4 L630.7,672.0 L629.4,673.5 L628.1,675.0 L626.7,676.5 L625.4,678.0 L624.0,679.4 L622.6,680.8 L621.2,682.1 L619.7,683.5 L618.3,684.8 L616.8,686.0 L615.3,687.2 L613.8,688.4 L612.2,689.5 L610.6,690.5 L609.1,691.6 L607.5,692.6 L605.8,693.5 L604.2,694.4 L602.6,695.2 L600.9,696.0 L599.2,696.7 L597.5,697.3 L595.8,698.0 L594.1,698.5 L592.4,699.0 L590.6,699.4 L588.8,699.8 L587.1,700.1 L585.3,700.3 L583.5,700.5 L581.7,700.6 L579.9,700.7 L578.1,700.7 L576.2,700.7 L574.4,700.6 L572.6,700.4 L570.7,700.2 L568.9,700.0 L567.0,699.7 L565.1,699.4 L563.3,699.0 L561.4,698.6 L559.5,698.1 L557.7,697.6 L555.8,697.1 L553.9,696.5 L552.0,695.9 L550.2,695.2 L548.3,694.5 L546.4,693.8 L544.6,693.1 L542.7,692.3 L540.8,691.5 L539.0,690.7 L537.1,689.8 L535.3,689.0 L533.5,688.1 L531.6,687.2 L529.8,686.2 L528.0,685.3 L526.2,684.3 L524.4,683.3 L522.6,682.3 L520.8,681.3 L519.0,680.3 L517.3,679.3 L515.5,678.2 L513.7,677.2 L512.0,676.1 L510.2,675.0 L508.5,673.9 L506.8,672.8 L505.0,671.7 L503.3,670.6 L501.6,669.5 L499.9,668.3 L498.1,667.2 L496.4,666.1 L494.7,664.9 L493.0,663.8 L491.3,662.6 L489.6,661.4 L487.9,660.3 L486.2,659.1 L484.5,658.0 L482.8,656.8 L481.1,655.7 L479.4,654.5 L477.7,653.4 L476.0,652.2 L474.4,651.1 L472.7,649.9 L471.0,648.8 L469.3,647.6 L467.6,646.5 L465.9,645.4 L464.2,644.3 L462.5,643.2 L460.8,642.1 L459.1,641.0 L457.4,640.0 L455.6,638.9 L453.9,637.8 L452.2,636.8 L450.5,635.8 L448.8,634.8 L447.0,633.8 L445.3,632.8 L443.6,631.9 L441.8,630.9 L440.1,630.0 L438.3,629.1 L436.5,628.2 L434.8,627.3 L433.0,626.4 L431.2,625.6 L429.4,624.7 L427.7,623.9 L425.9,623.1 L424.1,622.3 L422.3,621.5 L420.5,620.7 L418.7,620.0 L416.9,619.2 L415.0,618.5 L413.2,617.7 L411.4,617.0 L409.6,616.3 L407.7,615.6 L405.9,614.9 L404.0,614.2 L402.2,613.5 L400.3,612.8 L398.5,612.1 L396.6,611.4 L394.8,610.7 L392.9,610.1 L391.0,609.4 L389.2,608.7 L387.3,608.1 L385.4,607.4 L383.5,606.7 L381.7,606.1 L379.8,605.4 L377.9,604.7 L376.0,604.1 L374.1,603.4 L372.2,602.7 L370.3,602.1 L368.4,601.4 L366.5,600.8 L364.6,600.1 L362.7,599.5 L360.7,598.8 L358.8,598.2 L356.9,597.5 L355.0,596.9 L353.1,596.3 L351.1,595.7 L349.2,595.0 L347.3,594.4 L345.3,593.8 L343.4,593.2 L341.5,592.6 L339.5,592.0 L337.6,591.4 L335.6,590.8 L333.7,590.3 L331.7,589.7 L329.8,589.1 L327.8,588.6 L325.9,588.1 L323.9,587.5 L322.0,587.0 L320.0,586.5 L318.0,586.0 L316.1,585.5 L314.1,585.0 L312.1,584.5 L310.2,584.0 L308.2,583.6 L306.2,583.1 L304.3,582.7 L302.3,582.2 L300.3,581.8 L298.3,581.4 L296.4,581.0 L294.4,580.6 L292.4,580.3 L290.4,579.9 L288.4,579.5 L286.4,579.2 L284.5,578.9 L282.5,578.6 L280.5,578.3 L278.5,578.0 L276.5,577.7 L274.5,577.5 L272.5,577.2 L270.6,577.0 L268.6,576.8 L266.6,576.6 L264.6,576.4 L262.6,576.3 L260.6,576.1 L258.6,576.0 L256.6,575.9 L254.6,575.8 L252.6,575.7 L250.7,575.7 L248.7,575.6 L246.7,575.6 L244.7,575.6 L242.7,575.6 L240.7,575.6 L238.7,575.7 L236.7,575.8 L234.7,575.9 L232.8,576.0 L230.8,576.1 L228.8,576.3 L226.9,576.5 L224.9,576.8 L223.0,577.1 L221.0,577.4 L219.1,577.8 L217.2,578.2 L215.3,578.6 L213.4,579.1 L211.6,579.6 L209.7,580.2 L207.9,580.8 L206.1,581.5 L204.3,582.2 L202.5,583.0 L200.8,583.9 L199.0,584.8 L197.3,585.7 L195.6,586.7 L194.0,587.8 L192.3,589.0 L190.7,590.2 L189.2,591.4 L187.6,592.8 L186.1,594.2 L184.6,595.7" fill="none" stroke="#808000" stroke-width="4.9" stroke-linejoin="round" stroke-linecap="round"/>
<g font-family='"Liberation Serif", serif' font-weight="bold" fill="#000">
<text x="707.8" y="101" font-size="31">100 mVs</text>
<text x="824" y="83.3" font-size="32.5">-1</text>
<text x="716.8" y="444.6" font-size="31">10 mVs</text>
<text x="817.5" y="425.5" font-size="32.5">-1</text>
</g>
<path d="M754.6,416.5 L754.2,401 L753.3,398 L751.9,130" stroke="#5a5a5a" stroke-width="1.5" fill="none"/>
<path d="M751.2,112.5 L747,130.5 L756,130.5 Z" fill="#000"/>
<rect x="147.1" y="12.6" width="849.9" height="743.9" fill="none" stroke="#000" stroke-width="5.0"/>
<path d="M140.5,756.1 H147.1 M133.6,712.4 H147.1 M140.5,668.6 H147.1 M133.6,624.9 H147.1 M140.5,581.2 H147.1 M133.6,537.5 H147.1 M140.5,493.7 H147.1 M133.6,450.0 H147.1 M140.5,406.3 H147.1 M133.6,362.6 H147.1 M140.5,318.8 H147.1 M133.6,275.1 H147.1 M140.5,231.4 H147.1 M133.6,187.6 H147.1 M140.5,143.9 H147.1 M133.6,100.2 H147.1 M140.5,56.5 H147.1 M133.6,12.8 H147.1 M166.2,756.5 V762.3 M262.8,756.5 V770.4 M359.4,756.5 V762.3 M455.9,756.5 V770.4 M552.5,756.5 V762.3 M649.0,756.5 V770.4 M745.6,756.5 V762.3 M842.1,756.5 V770.4 M938.6,756.5 V762.3" stroke="#000" stroke-width="5" stroke-linecap="round" fill="none"/>
<g font-family='"Liberation Serif", serif' font-weight="bold" font-size="26" fill="#000" text-anchor="end">
<text x="124.5" y="719.4">-0.003</text>
<text x="124.5" y="631.9">-0.002</text>
<text x="124.5" y="544.5">-0.001</text>
<text x="124.5" y="457.0">0.000</text>
<text x="124.5" y="369.6">0.001</text>
<text x="124.5" y="282.1">0.002</text>
<text x="124.5" y="194.6">0.003</text>
<text x="124.5" y="107.2">0.004</text>
<text x="124.5" y="19.8">0.005</text>
</g>
<g font-family='"Liberation Serif", serif' font-weight="bold" font-size="26" fill="#000" text-anchor="middle">
<text x="262.8" y="802">-1.5</text>
<text x="455.9" y="802">-1.0</text>
<text x="649.0" y="802">-0.5</text>
<text x="842.1" y="802">0.0</text>
</g>
<text x="408" y="857" font-family='"Liberation Serif", serif' font-weight="bold" font-size="31.7" fill="#000">Potential/ V vs. Ag/AgCl</text>
<g transform="translate(41.5,586) rotate(-90)"><text x="0" y="0" font-family='"Liberation Serif", serif' font-weight="bold" font-size="32.5" fill="#000"><tspan textLength="321" lengthAdjust="spacingAndGlyphs">Current density/ Acm</tspan><tspan dx="1.5" dy="-18">-2</tspan></text></g>
<g>
<path d="M223.4,54.5 V336.0 H545.0" stroke="#000" stroke-width="2.6" fill="none" stroke-linecap="square"/>
<path d="M217.4,336.0 H223.4 M220.2,315.9 H223.4 M217.4,295.8 H223.4 M220.2,275.7 H223.4 M217.4,255.6 H223.4 M220.2,235.5 H223.4 M217.4,215.4 H223.4 M220.2,195.3 H223.4 M217.4,175.2 H223.4 M220.2,155.1 H223.4 M217.4,135.0 H223.4 M220.2,114.9 H223.4 M217.4,94.8 H223.4 M220.2,74.7 H223.4 M217.4,54.6 H223.4 M223.1,336.0 V342.0 M252.3,336.0 V339.5 M281.5,336.0 V342.0 M310.8,336.0 V339.5 M340.0,336.0 V342.0 M369.2,336.0 V339.5 M398.4,336.0 V342.0 M427.6,336.0 V339.5 M456.9,336.0 V342.0 M486.1,336.0 V339.5 M515.3,336.0 V342.0 M544.5,336.0 V339.5" stroke="#000" stroke-width="2" fill="none"/>
<g font-family='"Liberation Serif", serif' font-weight="bold" font-size="8.5" fill="#000" text-anchor="end">
<text x="214.5" y="338.8" textLength="23.5" lengthAdjust="spacingAndGlyphs">-0.003</text>
<text x="214.5" y="298.6" textLength="23.5" lengthAdjust="spacingAndGlyphs">-0.002</text>
<text x="214.5" y="258.4" textLength="23.5" lengthAdjust="spacingAndGlyphs">-0.001</text>
<text x="214.5" y="218.2" textLength="21.5" lengthAdjust="spacingAndGlyphs">0.000</text>
<text x="214.5" y="178.0" textLength="21.5" lengthAdjust="spacingAndGlyphs">0.001</text>
<text x="214.5" y="137.8" textLength="21.5" lengthAdjust="spacingAndGlyphs">0.002</text>
<text x="214.5" y="97.6" textLength="21.5" lengthAdjust="spacingAndGlyphs">0.003</text>
<text x="214.5" y="57.4" textLength="21.5" lengthAdjust="spacingAndGlyphs">0.004</text>
</g>
<g font-family='"Liberation Serif", serif' font-weight="bold" font-size="8.5" fill="#000" text-anchor="middle">
<text x="223.1" y="352.5">0</text>
<text x="281.5" y="352.5">20</text>
<text x="340.0" y="352.5">40</text>
<text x="398.4" y="352.5">60</text>
<text x="456.9" y="352.5">80</text>
<text x="515.3" y="352.5">100</text>
</g>
<text x="341.5" y="371.9" font-family='"Liberation Serif", serif' font-weight="bold" font-size="12" fill="#000"><tspan textLength="78.2" lengthAdjust="spacingAndGlyphs">Scan rate/ mVs</tspan><tspan dx="0.5" dy="-6.5" font-size="6">-1</tspan></text>
<g transform="translate(187,258.9) rotate(-90)"><text x="0" y="0" font-family='"Liberation Serif", serif' font-weight="bold" font-size="12.5" fill="#000"><tspan textLength="107.4" lengthAdjust="spacingAndGlyphs">Peak current/ Acm</tspan><tspan dx="0.5" dy="-9.5" font-size="10">-2</tspan></text></g>
<path d="M252.3,195.3 L281.5,195.3 L310.8,183.2 L340.0,167.2 L369.2,151.1 L398.4,135.0 L427.6,122.9 L456.9,106.9 L486.1,90.8 L515.3,74.7" stroke="#000" stroke-width="1.6" fill="none"/>
<path d="M252.3,239.5 L281.5,238.7 L310.8,247.6 L340.0,255.6 L369.2,267.7 L398.4,279.7 L427.6,291.8 L456.9,303.8 L486.1,315.9 L515.3,328.0" stroke="#f00" stroke-width="1.6" fill="none"/>
<rect x="250.0" y="193.0" width="4.6" height="4.6" fill="#000"/>
<rect x="279.2" y="193.0" width="4.6" height="4.6" fill="#000"/>
<rect x="308.5" y="180.9" width="4.6" height="4.6" fill="#000"/>
<rect x="337.7" y="164.9" width="4.6" height="4.6" fill="#000"/>
<rect x="366.9" y="148.8" width="4.6" height="4.6" fill="#000"/>
<rect x="396.1" y="132.7" width="4.6" height="4.6" fill="#000"/>
<rect x="425.3" y="120.6" width="4.6" height="4.6" fill="#000"/>
<rect x="454.6" y="104.6" width="4.6" height="4.6" fill="#000"/>
<rect x="483.8" y="88.5" width="4.6" height="4.6" fill="#000"/>
<rect x="513.0" y="72.4" width="4.6" height="4.6" fill="#000"/>
<circle cx="252.3" cy="239.5" r="2.5" fill="#f00"/>
<circle cx="281.5" cy="238.7" r="2.5" fill="#f00"/>
<circle cx="310.8" cy="247.6" r="2.5" fill="#f00"/>
<circle cx="340.0" cy="255.6" r="2.5" fill="#f00"/>
<circle cx="369.2" cy="267.7" r="2.5" fill="#f00"/>
<circle cx="398.4" cy="279.7" r="2.5" fill="#f00"/>
<circle cx="427.6" cy="291.8" r="2.5" fill="#f00"/>
<circle cx="456.9" cy="303.8" r="2.5" fill="#f00"/>
<circle cx="486.1" cy="315.9" r="2.5" fill="#f00"/>
<circle cx="515.3" cy="328.0" r="2.5" fill="#f00"/>
<rect x="229.5" y="56.5" width="163.5" height="34.4" fill="#fff" stroke="#555" stroke-width="0.9"/>
<path d="M238,67.3 H264.4" stroke="#000" stroke-width="2.1"/>
<rect x="249" y="64.7" width="5.2" height="5.2" fill="#000"/>
<path d="M238,83.4 H264.4" stroke="#f00" stroke-width="2.1"/>
<circle cx="251.6" cy="83.4" r="2.7" fill="#f00"/>
<text x="268.8" y="71.6" font-family='"Liberation Serif", serif' font-weight="bold" font-size="12" fill="#000" textLength="119.9" lengthAdjust="spacingAndGlyphs">Oxidation peak current</text>
<text x="268.8" y="87.6" font-family='"Liberation Serif", serif' font-weight="bold" font-size="12" fill="#000" textLength="120.7" lengthAdjust="spacingAndGlyphs">Reduction peak current</text>
</g>
</svg>
</body></html>
